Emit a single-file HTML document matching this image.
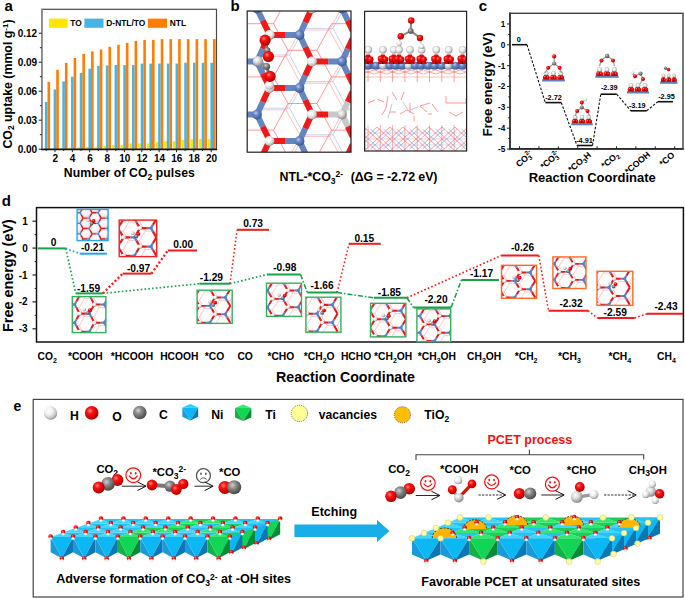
<!DOCTYPE html>
<html><head><meta charset="utf-8"><style>
html,body{margin:0;padding:0;background:#fff;width:685px;height:599px;overflow:hidden}
svg{display:block;font-family:"Liberation Sans",sans-serif;font-weight:bold}
text{font-family:"Liberation Sans",sans-serif}
</style></head><body>
<svg width="685" height="599" viewBox="0 0 685 599" font-family="Liberation Sans, sans-serif" font-weight="bold">
<defs>
<radialGradient id="gR" cx="0.38" cy="0.35" r="0.65"><stop offset="0" stop-color="#ff8a8a"/><stop offset="0.35" stop-color="#ff1010"/><stop offset="1" stop-color="#b00000"/></radialGradient>
<radialGradient id="gW" cx="0.38" cy="0.35" r="0.68"><stop offset="0" stop-color="#ffffff"/><stop offset="0.4" stop-color="#f2f2f2"/><stop offset="0.8" stop-color="#c4c4c4"/><stop offset="1" stop-color="#868686"/></radialGradient>
<radialGradient id="gG" cx="0.38" cy="0.35" r="0.65"><stop offset="0" stop-color="#d0d0d0"/><stop offset="0.4" stop-color="#8a8a8a"/><stop offset="1" stop-color="#4a4a4a"/></radialGradient>
<radialGradient id="gLG" cx="0.38" cy="0.35" r="0.65"><stop offset="0" stop-color="#ffffff"/><stop offset="0.45" stop-color="#d8d8d8"/><stop offset="1" stop-color="#8a8a8a"/></radialGradient>
<radialGradient id="gB" cx="0.38" cy="0.35" r="0.65"><stop offset="0" stop-color="#b8c8ee"/><stop offset="0.4" stop-color="#6a88c4"/><stop offset="1" stop-color="#3e5a96"/></radialGradient>
<clipPath id="cbL"><rect x="247.2" y="11" width="103.8" height="141.2"/></clipPath><clipPath id="cbR"><rect x="364.6" y="11.3" width="102" height="139.7"/></clipPath><g id="hcs"><line x1="-6.5" y1="38.2" x2="-17.0" y2="38.2" stroke="#ff7a7a" stroke-width="0.4"/><line x1="-6.5" y1="38.2" x2="-1.2" y2="29.1" stroke="#ff7a7a" stroke-width="0.4"/><line x1="-6.5" y1="38.2" x2="-1.2" y2="47.3" stroke="#ff7a7a" stroke-width="0.4"/><line x1="9.2" y1="47.3" x2="-1.2" y2="47.3" stroke="#ff7a7a" stroke-width="0.4"/><line x1="9.2" y1="47.3" x2="14.5" y2="38.2" stroke="#ff7a7a" stroke-width="0.4"/><line x1="9.2" y1="47.3" x2="14.5" y2="56.4" stroke="#ff7a7a" stroke-width="0.4"/><line x1="-6.5" y1="20.0" x2="-17.0" y2="20.0" stroke="#ff7a7a" stroke-width="0.4"/><line x1="-6.5" y1="20.0" x2="-1.2" y2="10.9" stroke="#ff7a7a" stroke-width="0.4"/><line x1="-6.5" y1="20.0" x2="-1.2" y2="29.1" stroke="#ff7a7a" stroke-width="0.4"/><line x1="9.2" y1="29.1" x2="-1.2" y2="29.1" stroke="#ff7a7a" stroke-width="0.4"/><line x1="9.2" y1="29.1" x2="14.5" y2="20.0" stroke="#ff7a7a" stroke-width="0.4"/><line x1="9.2" y1="29.1" x2="14.5" y2="38.2" stroke="#ff7a7a" stroke-width="0.4"/><line x1="25.0" y1="38.2" x2="14.5" y2="38.2" stroke="#ff7a7a" stroke-width="0.4"/><line x1="25.0" y1="38.2" x2="30.2" y2="29.1" stroke="#ff7a7a" stroke-width="0.4"/><line x1="25.0" y1="38.2" x2="30.2" y2="47.3" stroke="#ff7a7a" stroke-width="0.4"/><line x1="40.8" y1="47.3" x2="30.2" y2="47.3" stroke="#ff7a7a" stroke-width="0.4"/><line x1="40.8" y1="47.3" x2="46.0" y2="38.2" stroke="#ff7a7a" stroke-width="0.4"/><line x1="40.8" y1="47.3" x2="46.0" y2="56.4" stroke="#ff7a7a" stroke-width="0.4"/><line x1="-6.5" y1="1.8" x2="-17.0" y2="1.8" stroke="#ff7a7a" stroke-width="0.4"/><line x1="-6.5" y1="1.8" x2="-1.2" y2="-7.3" stroke="#ff7a7a" stroke-width="0.4"/><line x1="-6.5" y1="1.8" x2="-1.2" y2="10.9" stroke="#ff7a7a" stroke-width="0.4"/><line x1="9.2" y1="10.9" x2="-1.2" y2="10.9" stroke="#ff7a7a" stroke-width="0.4"/><line x1="9.2" y1="10.9" x2="14.5" y2="1.8" stroke="#ff7a7a" stroke-width="0.4"/><line x1="9.2" y1="10.9" x2="14.5" y2="20.0" stroke="#ff7a7a" stroke-width="0.4"/><line x1="25.0" y1="20.0" x2="14.5" y2="20.0" stroke="#ff7a7a" stroke-width="0.4"/><line x1="25.0" y1="20.0" x2="30.2" y2="10.9" stroke="#ff7a7a" stroke-width="0.4"/><line x1="25.0" y1="20.0" x2="30.2" y2="29.1" stroke="#ff7a7a" stroke-width="0.4"/><line x1="40.8" y1="29.1" x2="30.2" y2="29.1" stroke="#ff7a7a" stroke-width="0.4"/><line x1="40.8" y1="29.1" x2="46.0" y2="20.0" stroke="#ff7a7a" stroke-width="0.4"/><line x1="40.8" y1="29.1" x2="46.0" y2="38.2" stroke="#ff7a7a" stroke-width="0.4"/><line x1="9.2" y1="-7.3" x2="-1.2" y2="-7.3" stroke="#ff7a7a" stroke-width="0.4"/><line x1="9.2" y1="-7.3" x2="14.5" y2="-16.4" stroke="#ff7a7a" stroke-width="0.4"/><line x1="9.2" y1="-7.3" x2="14.5" y2="1.8" stroke="#ff7a7a" stroke-width="0.4"/><line x1="25.0" y1="1.8" x2="14.5" y2="1.8" stroke="#ff7a7a" stroke-width="0.4"/><line x1="25.0" y1="1.8" x2="30.2" y2="-7.3" stroke="#ff7a7a" stroke-width="0.4"/><line x1="25.0" y1="1.8" x2="30.2" y2="10.9" stroke="#ff7a7a" stroke-width="0.4"/><line x1="40.8" y1="10.9" x2="30.2" y2="10.9" stroke="#ff7a7a" stroke-width="0.4"/><line x1="40.8" y1="10.9" x2="46.0" y2="1.8" stroke="#ff7a7a" stroke-width="0.4"/><line x1="40.8" y1="10.9" x2="46.0" y2="20.0" stroke="#ff7a7a" stroke-width="0.4"/><line x1="40.8" y1="-7.3" x2="30.2" y2="-7.3" stroke="#ff7a7a" stroke-width="0.4"/><line x1="40.8" y1="-7.3" x2="46.0" y2="-16.4" stroke="#ff7a7a" stroke-width="0.4"/><line x1="40.8" y1="-7.3" x2="46.0" y2="1.8" stroke="#ff7a7a" stroke-width="0.4"/><line x1="-11.5" y1="35.2" x2="-15.5" y2="35.2" stroke="#5f7fc0" stroke-width="2.1"/><line x1="-15.5" y1="35.2" x2="-22.0" y2="35.2" stroke="#e81818" stroke-width="2.1"/><line x1="-11.5" y1="35.2" x2="-9.5" y2="31.7" stroke="#5f7fc0" stroke-width="2.1"/><line x1="-9.5" y1="31.7" x2="-6.2" y2="26.1" stroke="#e81818" stroke-width="2.1"/><line x1="-11.5" y1="35.2" x2="-9.5" y2="38.6" stroke="#5f7fc0" stroke-width="2.1"/><line x1="-9.5" y1="38.6" x2="-6.2" y2="44.3" stroke="#e81818" stroke-width="2.1"/><line x1="4.2" y1="44.3" x2="0.3" y2="44.3" stroke="#5f7fc0" stroke-width="2.1"/><line x1="0.3" y1="44.3" x2="-6.2" y2="44.3" stroke="#e81818" stroke-width="2.1"/><line x1="4.2" y1="44.3" x2="6.2" y2="40.8" stroke="#5f7fc0" stroke-width="2.1"/><line x1="6.2" y1="40.8" x2="9.5" y2="35.2" stroke="#e81818" stroke-width="2.1"/><line x1="4.2" y1="44.3" x2="6.2" y2="47.7" stroke="#5f7fc0" stroke-width="2.1"/><line x1="6.2" y1="47.7" x2="9.5" y2="53.4" stroke="#e81818" stroke-width="2.1"/><line x1="-11.5" y1="17.0" x2="-15.5" y2="17.0" stroke="#5f7fc0" stroke-width="2.1"/><line x1="-15.5" y1="17.0" x2="-22.0" y2="17.0" stroke="#e81818" stroke-width="2.1"/><line x1="-11.5" y1="17.0" x2="-9.5" y2="13.5" stroke="#5f7fc0" stroke-width="2.1"/><line x1="-9.5" y1="13.5" x2="-6.2" y2="7.9" stroke="#e81818" stroke-width="2.1"/><line x1="-11.5" y1="17.0" x2="-9.5" y2="20.5" stroke="#5f7fc0" stroke-width="2.1"/><line x1="-9.5" y1="20.5" x2="-6.2" y2="26.1" stroke="#e81818" stroke-width="2.1"/><line x1="4.2" y1="26.1" x2="0.3" y2="26.1" stroke="#5f7fc0" stroke-width="2.1"/><line x1="0.3" y1="26.1" x2="-6.2" y2="26.1" stroke="#e81818" stroke-width="2.1"/><line x1="4.2" y1="26.1" x2="6.2" y2="22.6" stroke="#5f7fc0" stroke-width="2.1"/><line x1="6.2" y1="22.6" x2="9.5" y2="17.0" stroke="#e81818" stroke-width="2.1"/><line x1="4.2" y1="26.1" x2="6.2" y2="29.5" stroke="#5f7fc0" stroke-width="2.1"/><line x1="6.2" y1="29.5" x2="9.5" y2="35.2" stroke="#e81818" stroke-width="2.1"/><line x1="20.0" y1="35.2" x2="16.0" y2="35.2" stroke="#5f7fc0" stroke-width="2.1"/><line x1="16.0" y1="35.2" x2="9.5" y2="35.2" stroke="#e81818" stroke-width="2.1"/><line x1="20.0" y1="35.2" x2="22.0" y2="31.7" stroke="#5f7fc0" stroke-width="2.1"/><line x1="22.0" y1="31.7" x2="25.2" y2="26.1" stroke="#e81818" stroke-width="2.1"/><line x1="20.0" y1="35.2" x2="22.0" y2="38.6" stroke="#5f7fc0" stroke-width="2.1"/><line x1="22.0" y1="38.6" x2="25.2" y2="44.3" stroke="#e81818" stroke-width="2.1"/><line x1="35.8" y1="44.3" x2="31.8" y2="44.3" stroke="#5f7fc0" stroke-width="2.1"/><line x1="31.8" y1="44.3" x2="25.2" y2="44.3" stroke="#e81818" stroke-width="2.1"/><line x1="35.8" y1="44.3" x2="37.7" y2="40.8" stroke="#5f7fc0" stroke-width="2.1"/><line x1="37.7" y1="40.8" x2="41.0" y2="35.2" stroke="#e81818" stroke-width="2.1"/><line x1="35.8" y1="44.3" x2="37.7" y2="47.7" stroke="#5f7fc0" stroke-width="2.1"/><line x1="37.7" y1="47.7" x2="41.0" y2="53.4" stroke="#e81818" stroke-width="2.1"/><line x1="-11.5" y1="-1.2" x2="-15.5" y2="-1.2" stroke="#5f7fc0" stroke-width="2.1"/><line x1="-15.5" y1="-1.2" x2="-22.0" y2="-1.2" stroke="#e81818" stroke-width="2.1"/><line x1="-11.5" y1="-1.2" x2="-9.5" y2="-4.6" stroke="#5f7fc0" stroke-width="2.1"/><line x1="-9.5" y1="-4.6" x2="-6.2" y2="-10.3" stroke="#e81818" stroke-width="2.1"/><line x1="-11.5" y1="-1.2" x2="-9.5" y2="2.3" stroke="#5f7fc0" stroke-width="2.1"/><line x1="-9.5" y1="2.3" x2="-6.2" y2="7.9" stroke="#e81818" stroke-width="2.1"/><line x1="4.2" y1="7.9" x2="0.3" y2="7.9" stroke="#5f7fc0" stroke-width="2.1"/><line x1="0.3" y1="7.9" x2="-6.2" y2="7.9" stroke="#e81818" stroke-width="2.1"/><line x1="4.2" y1="7.9" x2="6.2" y2="4.5" stroke="#5f7fc0" stroke-width="2.1"/><line x1="6.2" y1="4.5" x2="9.5" y2="-1.2" stroke="#e81818" stroke-width="2.1"/><line x1="4.2" y1="7.9" x2="6.2" y2="11.4" stroke="#5f7fc0" stroke-width="2.1"/><line x1="6.2" y1="11.4" x2="9.5" y2="17.0" stroke="#e81818" stroke-width="2.1"/><line x1="20.0" y1="17.0" x2="16.0" y2="17.0" stroke="#5f7fc0" stroke-width="2.1"/><line x1="16.0" y1="17.0" x2="9.5" y2="17.0" stroke="#e81818" stroke-width="2.1"/><line x1="20.0" y1="17.0" x2="22.0" y2="13.5" stroke="#5f7fc0" stroke-width="2.1"/><line x1="22.0" y1="13.5" x2="25.2" y2="7.9" stroke="#e81818" stroke-width="2.1"/><line x1="20.0" y1="17.0" x2="22.0" y2="20.5" stroke="#5f7fc0" stroke-width="2.1"/><line x1="22.0" y1="20.5" x2="25.2" y2="26.1" stroke="#e81818" stroke-width="2.1"/><line x1="35.8" y1="26.1" x2="31.8" y2="26.1" stroke="#5f7fc0" stroke-width="2.1"/><line x1="31.8" y1="26.1" x2="25.2" y2="26.1" stroke="#e81818" stroke-width="2.1"/><line x1="35.8" y1="26.1" x2="37.7" y2="22.6" stroke="#5f7fc0" stroke-width="2.1"/><line x1="37.7" y1="22.6" x2="41.0" y2="17.0" stroke="#e81818" stroke-width="2.1"/><line x1="35.8" y1="26.1" x2="37.7" y2="29.5" stroke="#5f7fc0" stroke-width="2.1"/><line x1="37.7" y1="29.5" x2="41.0" y2="35.2" stroke="#e81818" stroke-width="2.1"/><line x1="4.2" y1="-10.3" x2="0.3" y2="-10.3" stroke="#5f7fc0" stroke-width="2.1"/><line x1="0.3" y1="-10.3" x2="-6.2" y2="-10.3" stroke="#e81818" stroke-width="2.1"/><line x1="4.2" y1="-10.3" x2="6.2" y2="-13.7" stroke="#5f7fc0" stroke-width="2.1"/><line x1="6.2" y1="-13.7" x2="9.5" y2="-19.4" stroke="#e81818" stroke-width="2.1"/><line x1="4.2" y1="-10.3" x2="6.2" y2="-6.8" stroke="#5f7fc0" stroke-width="2.1"/><line x1="6.2" y1="-6.8" x2="9.5" y2="-1.2" stroke="#e81818" stroke-width="2.1"/><line x1="20.0" y1="-1.2" x2="16.0" y2="-1.2" stroke="#5f7fc0" stroke-width="2.1"/><line x1="16.0" y1="-1.2" x2="9.5" y2="-1.2" stroke="#e81818" stroke-width="2.1"/><line x1="20.0" y1="-1.2" x2="22.0" y2="-4.6" stroke="#5f7fc0" stroke-width="2.1"/><line x1="22.0" y1="-4.6" x2="25.2" y2="-10.3" stroke="#e81818" stroke-width="2.1"/><line x1="20.0" y1="-1.2" x2="22.0" y2="2.3" stroke="#5f7fc0" stroke-width="2.1"/><line x1="22.0" y1="2.3" x2="25.2" y2="7.9" stroke="#e81818" stroke-width="2.1"/><line x1="35.8" y1="7.9" x2="31.8" y2="7.9" stroke="#5f7fc0" stroke-width="2.1"/><line x1="31.8" y1="7.9" x2="25.2" y2="7.9" stroke="#e81818" stroke-width="2.1"/><line x1="35.8" y1="7.9" x2="37.7" y2="4.5" stroke="#5f7fc0" stroke-width="2.1"/><line x1="37.7" y1="4.5" x2="41.0" y2="-1.2" stroke="#e81818" stroke-width="2.1"/><line x1="35.8" y1="7.9" x2="37.7" y2="11.4" stroke="#5f7fc0" stroke-width="2.1"/><line x1="37.7" y1="11.4" x2="41.0" y2="17.0" stroke="#e81818" stroke-width="2.1"/><line x1="35.8" y1="-10.3" x2="31.8" y2="-10.3" stroke="#5f7fc0" stroke-width="2.1"/><line x1="31.8" y1="-10.3" x2="25.2" y2="-10.3" stroke="#e81818" stroke-width="2.1"/><line x1="35.8" y1="-10.3" x2="37.7" y2="-13.7" stroke="#5f7fc0" stroke-width="2.1"/><line x1="37.7" y1="-13.7" x2="41.0" y2="-19.4" stroke="#e81818" stroke-width="2.1"/><line x1="35.8" y1="-10.3" x2="37.7" y2="-6.8" stroke="#5f7fc0" stroke-width="2.1"/><line x1="37.7" y1="-6.8" x2="41.0" y2="-1.2" stroke="#e81818" stroke-width="2.1"/><circle cx="-11.5" cy="35.2" r="1.6" fill="#5f7fc0"/><circle cx="-22.0" cy="35.2" r="2.2" fill="url(#gW)"/><circle cx="4.2" cy="44.3" r="1.6" fill="#5f7fc0"/><circle cx="-6.2" cy="44.3" r="2.2" fill="url(#gW)"/><circle cx="-11.5" cy="17.0" r="1.6" fill="#5f7fc0"/><circle cx="-22.0" cy="17.0" r="2.2" fill="url(#gW)"/><circle cx="4.2" cy="26.1" r="1.6" fill="#5f7fc0"/><circle cx="-6.2" cy="26.1" r="2.2" fill="url(#gW)"/><circle cx="20.0" cy="35.2" r="1.6" fill="#5f7fc0"/><circle cx="9.5" cy="35.2" r="2.2" fill="url(#gW)"/><circle cx="35.8" cy="44.3" r="1.6" fill="#5f7fc0"/><circle cx="25.2" cy="44.3" r="2.2" fill="url(#gW)"/><circle cx="-11.5" cy="-1.2" r="1.6" fill="#5f7fc0"/><circle cx="-22.0" cy="-1.2" r="2.2" fill="url(#gW)"/><circle cx="4.2" cy="7.9" r="1.6" fill="#5f7fc0"/><circle cx="-6.2" cy="7.9" r="2.2" fill="url(#gW)"/><circle cx="20.0" cy="17.0" r="1.6" fill="#5f7fc0"/><circle cx="9.5" cy="17.0" r="2.2" fill="url(#gW)"/><circle cx="35.8" cy="26.1" r="1.6" fill="#5f7fc0"/><circle cx="25.2" cy="26.1" r="2.2" fill="url(#gW)"/><circle cx="4.2" cy="-10.3" r="1.6" fill="#5f7fc0"/><circle cx="-6.2" cy="-10.3" r="2.2" fill="url(#gW)"/><circle cx="20.0" cy="-1.2" r="1.6" fill="#5f7fc0"/><circle cx="9.5" cy="-1.2" r="2.2" fill="url(#gW)"/><circle cx="35.8" cy="7.9" r="1.6" fill="#5f7fc0"/><circle cx="25.2" cy="7.9" r="2.2" fill="url(#gW)"/><circle cx="35.8" cy="-10.3" r="1.6" fill="#5f7fc0"/><circle cx="25.2" cy="-10.3" r="2.2" fill="url(#gW)"/></g><radialGradient id="gS" cx="0.45" cy="0.4" r="0.6"><stop offset="0" stop-color="#ffffff"/><stop offset="0.7" stop-color="#eeeeee"/><stop offset="1" stop-color="#c8c8c8"/></radialGradient><g id="hcs2"><circle cx="0.0" cy="46.4" r="5.6" fill="url(#gS)"/><circle cx="0.0" cy="34.2" r="5.6" fill="url(#gS)"/><circle cx="10.5" cy="40.3" r="5.6" fill="url(#gS)"/><circle cx="21.0" cy="46.4" r="5.6" fill="url(#gS)"/><circle cx="0.0" cy="22.1" r="5.6" fill="url(#gS)"/><circle cx="10.5" cy="28.2" r="5.6" fill="url(#gS)"/><circle cx="21.0" cy="34.2" r="5.6" fill="url(#gS)"/><circle cx="31.5" cy="40.3" r="5.6" fill="url(#gS)"/><circle cx="42.0" cy="46.4" r="5.6" fill="url(#gS)"/><circle cx="0.0" cy="10.0" r="5.6" fill="url(#gS)"/><circle cx="10.5" cy="16.1" r="5.6" fill="url(#gS)"/><circle cx="21.0" cy="22.1" r="5.6" fill="url(#gS)"/><circle cx="31.5" cy="28.2" r="5.6" fill="url(#gS)"/><circle cx="42.0" cy="34.2" r="5.6" fill="url(#gS)"/><circle cx="52.5" cy="40.3" r="5.6" fill="url(#gS)"/><circle cx="0.0" cy="-2.1" r="5.6" fill="url(#gS)"/><circle cx="10.5" cy="3.9" r="5.6" fill="url(#gS)"/><circle cx="21.0" cy="10.0" r="5.6" fill="url(#gS)"/><circle cx="31.5" cy="16.1" r="5.6" fill="url(#gS)"/><circle cx="42.0" cy="22.1" r="5.6" fill="url(#gS)"/><circle cx="52.5" cy="28.2" r="5.6" fill="url(#gS)"/><circle cx="10.5" cy="-8.2" r="5.6" fill="url(#gS)"/><circle cx="21.0" cy="-2.1" r="5.6" fill="url(#gS)"/><circle cx="31.5" cy="3.9" r="5.6" fill="url(#gS)"/><circle cx="42.0" cy="10.0" r="5.6" fill="url(#gS)"/><circle cx="52.5" cy="16.1" r="5.6" fill="url(#gS)"/><circle cx="31.5" cy="-8.2" r="5.6" fill="url(#gS)"/><circle cx="42.0" cy="-2.1" r="5.6" fill="url(#gS)"/><circle cx="52.5" cy="3.9" r="5.6" fill="url(#gS)"/><circle cx="52.5" cy="-8.2" r="5.6" fill="url(#gS)"/><line x1="-7.0" y1="46.4" x2="-9.4" y2="46.4" stroke="#5f7fc0" stroke-width="1.6"/><line x1="-9.4" y1="46.4" x2="-14.0" y2="46.4" stroke="#e01818" stroke-width="1.6"/><line x1="-7.0" y1="46.4" x2="-5.8" y2="44.3" stroke="#5f7fc0" stroke-width="1.6"/><line x1="-5.8" y1="44.3" x2="-3.5" y2="40.3" stroke="#e01818" stroke-width="1.6"/><line x1="-7.0" y1="46.4" x2="-5.8" y2="48.5" stroke="#5f7fc0" stroke-width="1.6"/><line x1="-5.8" y1="48.5" x2="-3.5" y2="52.4" stroke="#e01818" stroke-width="1.6"/><line x1="-7.0" y1="34.2" x2="-9.4" y2="34.2" stroke="#5f7fc0" stroke-width="1.6"/><line x1="-9.4" y1="34.2" x2="-14.0" y2="34.2" stroke="#e01818" stroke-width="1.6"/><line x1="-7.0" y1="34.2" x2="-5.8" y2="32.1" stroke="#5f7fc0" stroke-width="1.6"/><line x1="-5.8" y1="32.1" x2="-3.5" y2="28.2" stroke="#e01818" stroke-width="1.6"/><line x1="-7.0" y1="34.2" x2="-5.8" y2="36.4" stroke="#5f7fc0" stroke-width="1.6"/><line x1="-5.8" y1="36.4" x2="-3.5" y2="40.3" stroke="#e01818" stroke-width="1.6"/><line x1="3.5" y1="40.3" x2="1.1" y2="40.3" stroke="#5f7fc0" stroke-width="1.6"/><line x1="1.1" y1="40.3" x2="-3.5" y2="40.3" stroke="#e01818" stroke-width="1.6"/><line x1="3.5" y1="40.3" x2="4.7" y2="38.2" stroke="#5f7fc0" stroke-width="1.6"/><line x1="4.7" y1="38.2" x2="7.0" y2="34.2" stroke="#e01818" stroke-width="1.6"/><line x1="3.5" y1="40.3" x2="4.7" y2="42.4" stroke="#5f7fc0" stroke-width="1.6"/><line x1="4.7" y1="42.4" x2="7.0" y2="46.4" stroke="#e01818" stroke-width="1.6"/><line x1="14.0" y1="46.4" x2="11.6" y2="46.4" stroke="#5f7fc0" stroke-width="1.6"/><line x1="11.6" y1="46.4" x2="7.0" y2="46.4" stroke="#e01818" stroke-width="1.6"/><line x1="14.0" y1="46.4" x2="15.2" y2="44.3" stroke="#5f7fc0" stroke-width="1.6"/><line x1="15.2" y1="44.3" x2="17.5" y2="40.3" stroke="#e01818" stroke-width="1.6"/><line x1="14.0" y1="46.4" x2="15.2" y2="48.5" stroke="#5f7fc0" stroke-width="1.6"/><line x1="15.2" y1="48.5" x2="17.5" y2="52.4" stroke="#e01818" stroke-width="1.6"/><line x1="-7.0" y1="22.1" x2="-9.4" y2="22.1" stroke="#5f7fc0" stroke-width="1.6"/><line x1="-9.4" y1="22.1" x2="-14.0" y2="22.1" stroke="#e01818" stroke-width="1.6"/><line x1="-7.0" y1="22.1" x2="-5.8" y2="20.0" stroke="#5f7fc0" stroke-width="1.6"/><line x1="-5.8" y1="20.0" x2="-3.5" y2="16.1" stroke="#e01818" stroke-width="1.6"/><line x1="-7.0" y1="22.1" x2="-5.8" y2="24.2" stroke="#5f7fc0" stroke-width="1.6"/><line x1="-5.8" y1="24.2" x2="-3.5" y2="28.2" stroke="#e01818" stroke-width="1.6"/><line x1="3.5" y1="28.2" x2="1.1" y2="28.2" stroke="#5f7fc0" stroke-width="1.6"/><line x1="1.1" y1="28.2" x2="-3.5" y2="28.2" stroke="#e01818" stroke-width="1.6"/><line x1="3.5" y1="28.2" x2="4.7" y2="26.1" stroke="#5f7fc0" stroke-width="1.6"/><line x1="4.7" y1="26.1" x2="7.0" y2="22.1" stroke="#e01818" stroke-width="1.6"/><line x1="3.5" y1="28.2" x2="4.7" y2="30.3" stroke="#5f7fc0" stroke-width="1.6"/><line x1="4.7" y1="30.3" x2="7.0" y2="34.2" stroke="#e01818" stroke-width="1.6"/><line x1="14.0" y1="34.2" x2="11.6" y2="34.2" stroke="#5f7fc0" stroke-width="1.6"/><line x1="11.6" y1="34.2" x2="7.0" y2="34.2" stroke="#e01818" stroke-width="1.6"/><line x1="14.0" y1="34.2" x2="15.2" y2="32.1" stroke="#5f7fc0" stroke-width="1.6"/><line x1="15.2" y1="32.1" x2="17.5" y2="28.2" stroke="#e01818" stroke-width="1.6"/><line x1="14.0" y1="34.2" x2="15.2" y2="36.4" stroke="#5f7fc0" stroke-width="1.6"/><line x1="15.2" y1="36.4" x2="17.5" y2="40.3" stroke="#e01818" stroke-width="1.6"/><line x1="24.5" y1="40.3" x2="22.1" y2="40.3" stroke="#5f7fc0" stroke-width="1.6"/><line x1="22.1" y1="40.3" x2="17.5" y2="40.3" stroke="#e01818" stroke-width="1.6"/><line x1="24.5" y1="40.3" x2="25.7" y2="38.2" stroke="#5f7fc0" stroke-width="1.6"/><line x1="25.7" y1="38.2" x2="28.0" y2="34.2" stroke="#e01818" stroke-width="1.6"/><line x1="24.5" y1="40.3" x2="25.7" y2="42.4" stroke="#5f7fc0" stroke-width="1.6"/><line x1="25.7" y1="42.4" x2="28.0" y2="46.4" stroke="#e01818" stroke-width="1.6"/><line x1="35.0" y1="46.4" x2="32.5" y2="46.4" stroke="#5f7fc0" stroke-width="1.6"/><line x1="32.5" y1="46.4" x2="28.0" y2="46.4" stroke="#e01818" stroke-width="1.6"/><line x1="35.0" y1="46.4" x2="36.2" y2="44.3" stroke="#5f7fc0" stroke-width="1.6"/><line x1="36.2" y1="44.3" x2="38.5" y2="40.3" stroke="#e01818" stroke-width="1.6"/><line x1="35.0" y1="46.4" x2="36.2" y2="48.5" stroke="#5f7fc0" stroke-width="1.6"/><line x1="36.2" y1="48.5" x2="38.5" y2="52.4" stroke="#e01818" stroke-width="1.6"/><line x1="-7.0" y1="10.0" x2="-9.4" y2="10.0" stroke="#5f7fc0" stroke-width="1.6"/><line x1="-9.4" y1="10.0" x2="-14.0" y2="10.0" stroke="#e01818" stroke-width="1.6"/><line x1="-7.0" y1="10.0" x2="-5.8" y2="7.9" stroke="#5f7fc0" stroke-width="1.6"/><line x1="-5.8" y1="7.9" x2="-3.5" y2="3.9" stroke="#e01818" stroke-width="1.6"/><line x1="-7.0" y1="10.0" x2="-5.8" y2="12.1" stroke="#5f7fc0" stroke-width="1.6"/><line x1="-5.8" y1="12.1" x2="-3.5" y2="16.1" stroke="#e01818" stroke-width="1.6"/><line x1="3.5" y1="16.1" x2="1.1" y2="16.1" stroke="#5f7fc0" stroke-width="1.6"/><line x1="1.1" y1="16.1" x2="-3.5" y2="16.1" stroke="#e01818" stroke-width="1.6"/><line x1="3.5" y1="16.1" x2="4.7" y2="13.9" stroke="#5f7fc0" stroke-width="1.6"/><line x1="4.7" y1="13.9" x2="7.0" y2="10.0" stroke="#e01818" stroke-width="1.6"/><line x1="3.5" y1="16.1" x2="4.7" y2="18.2" stroke="#5f7fc0" stroke-width="1.6"/><line x1="4.7" y1="18.2" x2="7.0" y2="22.1" stroke="#e01818" stroke-width="1.6"/><line x1="14.0" y1="22.1" x2="11.6" y2="22.1" stroke="#5f7fc0" stroke-width="1.6"/><line x1="11.6" y1="22.1" x2="7.0" y2="22.1" stroke="#e01818" stroke-width="1.6"/><line x1="14.0" y1="22.1" x2="15.2" y2="20.0" stroke="#5f7fc0" stroke-width="1.6"/><line x1="15.2" y1="20.0" x2="17.5" y2="16.1" stroke="#e01818" stroke-width="1.6"/><line x1="14.0" y1="22.1" x2="15.2" y2="24.2" stroke="#5f7fc0" stroke-width="1.6"/><line x1="15.2" y1="24.2" x2="17.5" y2="28.2" stroke="#e01818" stroke-width="1.6"/><line x1="24.5" y1="28.2" x2="22.1" y2="28.2" stroke="#5f7fc0" stroke-width="1.6"/><line x1="22.1" y1="28.2" x2="17.5" y2="28.2" stroke="#e01818" stroke-width="1.6"/><line x1="24.5" y1="28.2" x2="25.7" y2="26.1" stroke="#5f7fc0" stroke-width="1.6"/><line x1="25.7" y1="26.1" x2="28.0" y2="22.1" stroke="#e01818" stroke-width="1.6"/><line x1="24.5" y1="28.2" x2="25.7" y2="30.3" stroke="#5f7fc0" stroke-width="1.6"/><line x1="25.7" y1="30.3" x2="28.0" y2="34.2" stroke="#e01818" stroke-width="1.6"/><line x1="35.0" y1="34.2" x2="32.5" y2="34.2" stroke="#5f7fc0" stroke-width="1.6"/><line x1="32.5" y1="34.2" x2="28.0" y2="34.2" stroke="#e01818" stroke-width="1.6"/><line x1="35.0" y1="34.2" x2="36.2" y2="32.1" stroke="#5f7fc0" stroke-width="1.6"/><line x1="36.2" y1="32.1" x2="38.5" y2="28.2" stroke="#e01818" stroke-width="1.6"/><line x1="35.0" y1="34.2" x2="36.2" y2="36.4" stroke="#5f7fc0" stroke-width="1.6"/><line x1="36.2" y1="36.4" x2="38.5" y2="40.3" stroke="#e01818" stroke-width="1.6"/><line x1="45.5" y1="40.3" x2="43.0" y2="40.3" stroke="#5f7fc0" stroke-width="1.6"/><line x1="43.0" y1="40.3" x2="38.5" y2="40.3" stroke="#e01818" stroke-width="1.6"/><line x1="45.5" y1="40.3" x2="46.7" y2="38.2" stroke="#5f7fc0" stroke-width="1.6"/><line x1="46.7" y1="38.2" x2="49.0" y2="34.2" stroke="#e01818" stroke-width="1.6"/><line x1="45.5" y1="40.3" x2="46.7" y2="42.4" stroke="#5f7fc0" stroke-width="1.6"/><line x1="46.7" y1="42.4" x2="49.0" y2="46.4" stroke="#e01818" stroke-width="1.6"/><line x1="-7.0" y1="-2.1" x2="-9.4" y2="-2.1" stroke="#5f7fc0" stroke-width="1.6"/><line x1="-9.4" y1="-2.1" x2="-14.0" y2="-2.1" stroke="#e01818" stroke-width="1.6"/><line x1="-7.0" y1="-2.1" x2="-5.8" y2="-4.2" stroke="#5f7fc0" stroke-width="1.6"/><line x1="-5.8" y1="-4.2" x2="-3.5" y2="-8.2" stroke="#e01818" stroke-width="1.6"/><line x1="-7.0" y1="-2.1" x2="-5.8" y2="-0.0" stroke="#5f7fc0" stroke-width="1.6"/><line x1="-5.8" y1="-0.0" x2="-3.5" y2="3.9" stroke="#e01818" stroke-width="1.6"/><line x1="3.5" y1="3.9" x2="1.1" y2="3.9" stroke="#5f7fc0" stroke-width="1.6"/><line x1="1.1" y1="3.9" x2="-3.5" y2="3.9" stroke="#e01818" stroke-width="1.6"/><line x1="3.5" y1="3.9" x2="4.7" y2="1.8" stroke="#5f7fc0" stroke-width="1.6"/><line x1="4.7" y1="1.8" x2="7.0" y2="-2.1" stroke="#e01818" stroke-width="1.6"/><line x1="3.5" y1="3.9" x2="4.7" y2="6.1" stroke="#5f7fc0" stroke-width="1.6"/><line x1="4.7" y1="6.1" x2="7.0" y2="10.0" stroke="#e01818" stroke-width="1.6"/><line x1="14.0" y1="10.0" x2="11.6" y2="10.0" stroke="#5f7fc0" stroke-width="1.6"/><line x1="11.6" y1="10.0" x2="7.0" y2="10.0" stroke="#e01818" stroke-width="1.6"/><line x1="14.0" y1="10.0" x2="15.2" y2="7.9" stroke="#5f7fc0" stroke-width="1.6"/><line x1="15.2" y1="7.9" x2="17.5" y2="3.9" stroke="#e01818" stroke-width="1.6"/><line x1="14.0" y1="10.0" x2="15.2" y2="12.1" stroke="#5f7fc0" stroke-width="1.6"/><line x1="15.2" y1="12.1" x2="17.5" y2="16.1" stroke="#e01818" stroke-width="1.6"/><line x1="24.5" y1="16.1" x2="22.1" y2="16.1" stroke="#5f7fc0" stroke-width="1.6"/><line x1="22.1" y1="16.1" x2="17.5" y2="16.1" stroke="#e01818" stroke-width="1.6"/><line x1="24.5" y1="16.1" x2="25.7" y2="13.9" stroke="#5f7fc0" stroke-width="1.6"/><line x1="25.7" y1="13.9" x2="28.0" y2="10.0" stroke="#e01818" stroke-width="1.6"/><line x1="24.5" y1="16.1" x2="25.7" y2="18.2" stroke="#5f7fc0" stroke-width="1.6"/><line x1="25.7" y1="18.2" x2="28.0" y2="22.1" stroke="#e01818" stroke-width="1.6"/><line x1="35.0" y1="22.1" x2="32.5" y2="22.1" stroke="#5f7fc0" stroke-width="1.6"/><line x1="32.5" y1="22.1" x2="28.0" y2="22.1" stroke="#e01818" stroke-width="1.6"/><line x1="35.0" y1="22.1" x2="36.2" y2="20.0" stroke="#5f7fc0" stroke-width="1.6"/><line x1="36.2" y1="20.0" x2="38.5" y2="16.1" stroke="#e01818" stroke-width="1.6"/><line x1="35.0" y1="22.1" x2="36.2" y2="24.2" stroke="#5f7fc0" stroke-width="1.6"/><line x1="36.2" y1="24.2" x2="38.5" y2="28.2" stroke="#e01818" stroke-width="1.6"/><line x1="45.5" y1="28.2" x2="43.0" y2="28.2" stroke="#5f7fc0" stroke-width="1.6"/><line x1="43.0" y1="28.2" x2="38.5" y2="28.2" stroke="#e01818" stroke-width="1.6"/><line x1="45.5" y1="28.2" x2="46.7" y2="26.1" stroke="#5f7fc0" stroke-width="1.6"/><line x1="46.7" y1="26.1" x2="49.0" y2="22.1" stroke="#e01818" stroke-width="1.6"/><line x1="45.5" y1="28.2" x2="46.7" y2="30.3" stroke="#5f7fc0" stroke-width="1.6"/><line x1="46.7" y1="30.3" x2="49.0" y2="34.2" stroke="#e01818" stroke-width="1.6"/><line x1="3.5" y1="-8.2" x2="1.1" y2="-8.2" stroke="#5f7fc0" stroke-width="1.6"/><line x1="1.1" y1="-8.2" x2="-3.5" y2="-8.2" stroke="#e01818" stroke-width="1.6"/><line x1="3.5" y1="-8.2" x2="4.7" y2="-10.3" stroke="#5f7fc0" stroke-width="1.6"/><line x1="4.7" y1="-10.3" x2="7.0" y2="-14.2" stroke="#e01818" stroke-width="1.6"/><line x1="3.5" y1="-8.2" x2="4.7" y2="-6.1" stroke="#5f7fc0" stroke-width="1.6"/><line x1="4.7" y1="-6.1" x2="7.0" y2="-2.1" stroke="#e01818" stroke-width="1.6"/><line x1="14.0" y1="-2.1" x2="11.6" y2="-2.1" stroke="#5f7fc0" stroke-width="1.6"/><line x1="11.6" y1="-2.1" x2="7.0" y2="-2.1" stroke="#e01818" stroke-width="1.6"/><line x1="14.0" y1="-2.1" x2="15.2" y2="-4.2" stroke="#5f7fc0" stroke-width="1.6"/><line x1="15.2" y1="-4.2" x2="17.5" y2="-8.2" stroke="#e01818" stroke-width="1.6"/><line x1="14.0" y1="-2.1" x2="15.2" y2="-0.0" stroke="#5f7fc0" stroke-width="1.6"/><line x1="15.2" y1="-0.0" x2="17.5" y2="3.9" stroke="#e01818" stroke-width="1.6"/><line x1="24.5" y1="3.9" x2="22.1" y2="3.9" stroke="#5f7fc0" stroke-width="1.6"/><line x1="22.1" y1="3.9" x2="17.5" y2="3.9" stroke="#e01818" stroke-width="1.6"/><line x1="24.5" y1="3.9" x2="25.7" y2="1.8" stroke="#5f7fc0" stroke-width="1.6"/><line x1="25.7" y1="1.8" x2="28.0" y2="-2.1" stroke="#e01818" stroke-width="1.6"/><line x1="24.5" y1="3.9" x2="25.7" y2="6.1" stroke="#5f7fc0" stroke-width="1.6"/><line x1="25.7" y1="6.1" x2="28.0" y2="10.0" stroke="#e01818" stroke-width="1.6"/><line x1="35.0" y1="10.0" x2="32.5" y2="10.0" stroke="#5f7fc0" stroke-width="1.6"/><line x1="32.5" y1="10.0" x2="28.0" y2="10.0" stroke="#e01818" stroke-width="1.6"/><line x1="35.0" y1="10.0" x2="36.2" y2="7.9" stroke="#5f7fc0" stroke-width="1.6"/><line x1="36.2" y1="7.9" x2="38.5" y2="3.9" stroke="#e01818" stroke-width="1.6"/><line x1="35.0" y1="10.0" x2="36.2" y2="12.1" stroke="#5f7fc0" stroke-width="1.6"/><line x1="36.2" y1="12.1" x2="38.5" y2="16.1" stroke="#e01818" stroke-width="1.6"/><line x1="45.5" y1="16.1" x2="43.0" y2="16.1" stroke="#5f7fc0" stroke-width="1.6"/><line x1="43.0" y1="16.1" x2="38.5" y2="16.1" stroke="#e01818" stroke-width="1.6"/><line x1="45.5" y1="16.1" x2="46.7" y2="13.9" stroke="#5f7fc0" stroke-width="1.6"/><line x1="46.7" y1="13.9" x2="49.0" y2="10.0" stroke="#e01818" stroke-width="1.6"/><line x1="45.5" y1="16.1" x2="46.7" y2="18.2" stroke="#5f7fc0" stroke-width="1.6"/><line x1="46.7" y1="18.2" x2="49.0" y2="22.1" stroke="#e01818" stroke-width="1.6"/><line x1="24.5" y1="-8.2" x2="22.1" y2="-8.2" stroke="#5f7fc0" stroke-width="1.6"/><line x1="22.1" y1="-8.2" x2="17.5" y2="-8.2" stroke="#e01818" stroke-width="1.6"/><line x1="24.5" y1="-8.2" x2="25.7" y2="-10.3" stroke="#5f7fc0" stroke-width="1.6"/><line x1="25.7" y1="-10.3" x2="28.0" y2="-14.2" stroke="#e01818" stroke-width="1.6"/><line x1="24.5" y1="-8.2" x2="25.7" y2="-6.1" stroke="#5f7fc0" stroke-width="1.6"/><line x1="25.7" y1="-6.1" x2="28.0" y2="-2.1" stroke="#e01818" stroke-width="1.6"/><line x1="35.0" y1="-2.1" x2="32.5" y2="-2.1" stroke="#5f7fc0" stroke-width="1.6"/><line x1="32.5" y1="-2.1" x2="28.0" y2="-2.1" stroke="#e01818" stroke-width="1.6"/><line x1="35.0" y1="-2.1" x2="36.2" y2="-4.2" stroke="#5f7fc0" stroke-width="1.6"/><line x1="36.2" y1="-4.2" x2="38.5" y2="-8.2" stroke="#e01818" stroke-width="1.6"/><line x1="35.0" y1="-2.1" x2="36.2" y2="-0.0" stroke="#5f7fc0" stroke-width="1.6"/><line x1="36.2" y1="-0.0" x2="38.5" y2="3.9" stroke="#e01818" stroke-width="1.6"/><line x1="45.5" y1="3.9" x2="43.0" y2="3.9" stroke="#5f7fc0" stroke-width="1.6"/><line x1="43.0" y1="3.9" x2="38.5" y2="3.9" stroke="#e01818" stroke-width="1.6"/><line x1="45.5" y1="3.9" x2="46.7" y2="1.8" stroke="#5f7fc0" stroke-width="1.6"/><line x1="46.7" y1="1.8" x2="49.0" y2="-2.1" stroke="#e01818" stroke-width="1.6"/><line x1="45.5" y1="3.9" x2="46.7" y2="6.1" stroke="#5f7fc0" stroke-width="1.6"/><line x1="46.7" y1="6.1" x2="49.0" y2="10.0" stroke="#e01818" stroke-width="1.6"/><line x1="45.5" y1="-8.2" x2="43.0" y2="-8.2" stroke="#5f7fc0" stroke-width="1.6"/><line x1="43.0" y1="-8.2" x2="38.5" y2="-8.2" stroke="#e01818" stroke-width="1.6"/><line x1="45.5" y1="-8.2" x2="46.7" y2="-10.3" stroke="#5f7fc0" stroke-width="1.6"/><line x1="46.7" y1="-10.3" x2="49.0" y2="-14.2" stroke="#e01818" stroke-width="1.6"/><line x1="45.5" y1="-8.2" x2="46.7" y2="-6.1" stroke="#5f7fc0" stroke-width="1.6"/><line x1="46.7" y1="-6.1" x2="49.0" y2="-2.1" stroke="#e01818" stroke-width="1.6"/></g><clipPath id="cf0"><rect x="77.1" y="209.4" width="31.0" height="31.2"/></clipPath><clipPath id="cf1"><rect x="119.2" y="220.1" width="37.5" height="36.5"/></clipPath><clipPath id="cf2"><rect x="72.3" y="296.6" width="33.6" height="36.0"/></clipPath><clipPath id="cf3"><rect x="197.1" y="290.2" width="35.1" height="33.2"/></clipPath><clipPath id="cf4"><rect x="266.5" y="283.2" width="35.0" height="33.2"/></clipPath><clipPath id="cf5"><rect x="305.9" y="297.2" width="35.0" height="35.0"/></clipPath><clipPath id="cf6"><rect x="370.5" y="303.3" width="35.4" height="33.6"/></clipPath><clipPath id="cf7"><rect x="416.9" y="308.9" width="33.8" height="32.8"/></clipPath><clipPath id="cf8"><rect x="501.5" y="265.3" width="35.1" height="33.0"/></clipPath><clipPath id="cf9"><rect x="552.9" y="256.9" width="33.1" height="31.6"/></clipPath><clipPath id="cf10"><rect x="597.0" y="271.3" width="35.8" height="34.1"/></clipPath></defs>
<text x="4.60" y="11.20" font-size="15" text-anchor="start" fill="#000" >a</text>
<rect x="42.30" y="149.20" width="2.60" height="0.00" fill="#ffe500" />
<rect x="44.90" y="102.00" width="2.60" height="47.20" fill="#47b4e6" />
<rect x="47.50" y="81.90" width="2.60" height="67.30" fill="#ff7d00" />
<rect x="51.01" y="148.90" width="2.60" height="0.30" fill="#ffe500" />
<rect x="53.61" y="89.50" width="2.60" height="59.70" fill="#47b4e6" />
<rect x="56.21" y="69.80" width="2.60" height="79.40" fill="#ff7d00" />
<rect x="59.72" y="147.80" width="2.60" height="1.40" fill="#ffe500" />
<rect x="62.32" y="81.40" width="2.60" height="67.80" fill="#47b4e6" />
<rect x="64.92" y="62.90" width="2.60" height="86.30" fill="#ff7d00" />
<rect x="68.43" y="147.80" width="2.60" height="1.40" fill="#ffe500" />
<rect x="71.03" y="76.70" width="2.60" height="72.50" fill="#47b4e6" />
<rect x="73.63" y="58.00" width="2.60" height="91.20" fill="#ff7d00" />
<rect x="77.14" y="147.20" width="2.60" height="2.00" fill="#ffe500" />
<rect x="79.74" y="72.80" width="2.60" height="76.40" fill="#47b4e6" />
<rect x="82.34" y="53.80" width="2.60" height="95.40" fill="#ff7d00" />
<rect x="85.85" y="146.80" width="2.60" height="2.40" fill="#ffe500" />
<rect x="88.45" y="68.70" width="2.60" height="80.50" fill="#47b4e6" />
<rect x="91.05" y="51.40" width="2.60" height="97.80" fill="#ff7d00" />
<rect x="94.56" y="146.80" width="2.60" height="2.40" fill="#ffe500" />
<rect x="97.16" y="65.90" width="2.60" height="83.30" fill="#47b4e6" />
<rect x="99.76" y="49.50" width="2.60" height="99.70" fill="#ff7d00" />
<rect x="103.27" y="145.90" width="2.60" height="3.30" fill="#ffe500" />
<rect x="105.87" y="65.50" width="2.60" height="83.70" fill="#47b4e6" />
<rect x="108.47" y="46.80" width="2.60" height="102.40" fill="#ff7d00" />
<rect x="111.98" y="144.90" width="2.60" height="4.30" fill="#ffe500" />
<rect x="114.58" y="65.00" width="2.60" height="84.20" fill="#47b4e6" />
<rect x="117.18" y="44.80" width="2.60" height="104.40" fill="#ff7d00" />
<rect x="120.69" y="144.90" width="2.60" height="4.30" fill="#ffe500" />
<rect x="123.29" y="65.10" width="2.60" height="84.10" fill="#47b4e6" />
<rect x="125.89" y="42.90" width="2.60" height="106.30" fill="#ff7d00" />
<rect x="129.40" y="143.40" width="2.60" height="5.80" fill="#ffe500" />
<rect x="132.00" y="65.10" width="2.60" height="84.10" fill="#47b4e6" />
<rect x="134.60" y="40.90" width="2.60" height="108.30" fill="#ff7d00" />
<rect x="138.11" y="143.40" width="2.60" height="5.80" fill="#ffe500" />
<rect x="140.71" y="63.60" width="2.60" height="85.60" fill="#47b4e6" />
<rect x="143.31" y="39.90" width="2.60" height="109.30" fill="#ff7d00" />
<rect x="146.82" y="143.40" width="2.60" height="5.80" fill="#ffe500" />
<rect x="149.42" y="63.60" width="2.60" height="85.60" fill="#47b4e6" />
<rect x="152.02" y="39.90" width="2.60" height="109.30" fill="#ff7d00" />
<rect x="155.53" y="142.10" width="2.60" height="7.10" fill="#ffe500" />
<rect x="158.13" y="63.60" width="2.60" height="85.60" fill="#47b4e6" />
<rect x="160.73" y="39.10" width="2.60" height="110.10" fill="#ff7d00" />
<rect x="164.24" y="141.10" width="2.60" height="8.10" fill="#ffe500" />
<rect x="166.84" y="63.60" width="2.60" height="85.60" fill="#47b4e6" />
<rect x="169.44" y="39.10" width="2.60" height="110.10" fill="#ff7d00" />
<rect x="172.95" y="141.10" width="2.60" height="8.10" fill="#ffe500" />
<rect x="175.55" y="63.60" width="2.60" height="85.60" fill="#47b4e6" />
<rect x="178.15" y="39.10" width="2.60" height="110.10" fill="#ff7d00" />
<rect x="181.66" y="139.80" width="2.60" height="9.40" fill="#ffe500" />
<rect x="184.26" y="62.80" width="2.60" height="86.40" fill="#47b4e6" />
<rect x="186.86" y="39.10" width="2.60" height="110.10" fill="#ff7d00" />
<rect x="190.37" y="139.20" width="2.60" height="10.00" fill="#ffe500" />
<rect x="192.97" y="62.80" width="2.60" height="86.40" fill="#47b4e6" />
<rect x="195.57" y="39.10" width="2.60" height="110.10" fill="#ff7d00" />
<rect x="199.08" y="138.90" width="2.60" height="10.30" fill="#ffe500" />
<rect x="201.68" y="62.80" width="2.60" height="86.40" fill="#47b4e6" />
<rect x="204.28" y="39.10" width="2.60" height="110.10" fill="#ff7d00" />
<rect x="207.79" y="138.90" width="2.60" height="10.30" fill="#ffe500" />
<rect x="210.39" y="62.80" width="2.60" height="86.40" fill="#47b4e6" />
<rect x="212.99" y="39.10" width="2.60" height="110.10" fill="#ff7d00" />
<rect x="41.7" y="9.3" width="174.8" height="139.89999999999998" fill="none" stroke="#4a4a4a" stroke-width="1.2"/>
<line x1="41.90" y1="8.70" x2="41.90" y2="149.20" stroke="#8a8a8a" stroke-width="1.8" />
<line x1="41.10" y1="149.60" x2="217.10" y2="149.60" stroke="#111" stroke-width="1.5" />
<line x1="38.70" y1="149.20" x2="41.70" y2="149.20" stroke="#222" stroke-width="1" />
<text x="37.20" y="152.90" font-size="10" text-anchor="end" fill="#000" >0.00</text>
<line x1="39.90" y1="134.70" x2="41.70" y2="134.70" stroke="#222" stroke-width="1" />
<line x1="38.70" y1="120.20" x2="41.70" y2="120.20" stroke="#222" stroke-width="1" />
<text x="37.20" y="123.90" font-size="10" text-anchor="end" fill="#000" >0.03</text>
<line x1="39.90" y1="105.70" x2="41.70" y2="105.70" stroke="#222" stroke-width="1" />
<line x1="38.70" y1="91.20" x2="41.70" y2="91.20" stroke="#222" stroke-width="1" />
<text x="37.20" y="94.90" font-size="10" text-anchor="end" fill="#000" >0.06</text>
<line x1="39.90" y1="76.70" x2="41.70" y2="76.70" stroke="#222" stroke-width="1" />
<line x1="38.70" y1="62.20" x2="41.70" y2="62.20" stroke="#222" stroke-width="1" />
<text x="37.20" y="65.90" font-size="10" text-anchor="end" fill="#000" >0.09</text>
<line x1="39.90" y1="47.70" x2="41.70" y2="47.70" stroke="#222" stroke-width="1" />
<line x1="38.70" y1="33.20" x2="41.70" y2="33.20" stroke="#222" stroke-width="1" />
<text x="37.20" y="36.90" font-size="10" text-anchor="end" fill="#000" >0.12</text>
<line x1="46.30" y1="149.20" x2="46.30" y2="151.00" stroke="#222" stroke-width="1" />
<line x1="54.98" y1="149.20" x2="54.98" y2="152.20" stroke="#222" stroke-width="1" />
<text x="55.28" y="162.20" font-size="10" text-anchor="middle" fill="#000" >2</text>
<line x1="63.66" y1="149.20" x2="63.66" y2="151.00" stroke="#222" stroke-width="1" />
<line x1="72.34" y1="149.20" x2="72.34" y2="152.20" stroke="#222" stroke-width="1" />
<text x="72.64" y="162.20" font-size="10" text-anchor="middle" fill="#000" >4</text>
<line x1="81.02" y1="149.20" x2="81.02" y2="151.00" stroke="#222" stroke-width="1" />
<line x1="89.70" y1="149.20" x2="89.70" y2="152.20" stroke="#222" stroke-width="1" />
<text x="90.00" y="162.20" font-size="10" text-anchor="middle" fill="#000" >6</text>
<line x1="98.38" y1="149.20" x2="98.38" y2="151.00" stroke="#222" stroke-width="1" />
<line x1="107.06" y1="149.20" x2="107.06" y2="152.20" stroke="#222" stroke-width="1" />
<text x="107.36" y="162.20" font-size="10" text-anchor="middle" fill="#000" >8</text>
<line x1="115.74" y1="149.20" x2="115.74" y2="151.00" stroke="#222" stroke-width="1" />
<line x1="124.42" y1="149.20" x2="124.42" y2="152.20" stroke="#222" stroke-width="1" />
<text x="124.72" y="162.20" font-size="10" text-anchor="middle" fill="#000" >10</text>
<line x1="133.10" y1="149.20" x2="133.10" y2="151.00" stroke="#222" stroke-width="1" />
<line x1="141.78" y1="149.20" x2="141.78" y2="152.20" stroke="#222" stroke-width="1" />
<text x="142.08" y="162.20" font-size="10" text-anchor="middle" fill="#000" >12</text>
<line x1="150.46" y1="149.20" x2="150.46" y2="151.00" stroke="#222" stroke-width="1" />
<line x1="159.14" y1="149.20" x2="159.14" y2="152.20" stroke="#222" stroke-width="1" />
<text x="159.44" y="162.20" font-size="10" text-anchor="middle" fill="#000" >14</text>
<line x1="167.82" y1="149.20" x2="167.82" y2="151.00" stroke="#222" stroke-width="1" />
<line x1="176.50" y1="149.20" x2="176.50" y2="152.20" stroke="#222" stroke-width="1" />
<text x="176.80" y="162.20" font-size="10" text-anchor="middle" fill="#000" >16</text>
<line x1="185.18" y1="149.20" x2="185.18" y2="151.00" stroke="#222" stroke-width="1" />
<line x1="193.86" y1="149.20" x2="193.86" y2="152.20" stroke="#222" stroke-width="1" />
<text x="194.16" y="162.20" font-size="10" text-anchor="middle" fill="#000" >18</text>
<line x1="202.54" y1="149.20" x2="202.54" y2="151.00" stroke="#222" stroke-width="1" />
<line x1="211.22" y1="149.20" x2="211.22" y2="152.20" stroke="#222" stroke-width="1" />
<text x="211.52" y="162.20" font-size="10" text-anchor="middle" fill="#000" >20</text>
<rect x="48.90" y="18.60" width="18.70" height="9.20" fill="#ffe500" />
<text x="70.20" y="25.80" font-size="8.4" text-anchor="start" fill="#000" >TO</text>
<rect x="84.40" y="18.60" width="19.10" height="9.20" fill="#47b4e6" />
<text x="106.30" y="25.80" font-size="8.4" text-anchor="start" fill="#000" >D-NTL/TO</text>
<rect x="147.90" y="18.60" width="19.10" height="9.20" fill="#ff7d00" />
<text x="169.80" y="25.80" font-size="8.4" text-anchor="start" fill="#000" >NTL</text>
<text x="63.80" y="177.00" font-size="12.2" text-anchor="start" fill="#000" textLength="131">Number of CO<tspan font-size="8.5" dy="2.5">2</tspan><tspan dy="-2.5"> pulses</tspan></text>
<text transform="translate(11.9,148.6) rotate(-90)" font-size="12.35">CO<tspan font-size="8.5" dy="2.0">2</tspan><tspan dy="-2.0"> uptake (mmol g</tspan><tspan font-size="8" dy="-4.0">-1</tspan><tspan dy="4.0">)</tspan></text>
<text x="230.60" y="10.60" font-size="15" text-anchor="start" fill="#000" >b</text>
<g clip-path="url(#cbL)">
<line x1="273.50" y1="183.30" x2="244.50" y2="183.30" stroke="#ff5050" stroke-width="0.6" />
<line x1="273.50" y1="183.30" x2="288.00" y2="156.70" stroke="#ff5050" stroke-width="0.6" />
<line x1="273.50" y1="183.30" x2="288.00" y2="209.90" stroke="#ff5050" stroke-width="0.6" />
<line x1="273.50" y1="130.10" x2="244.50" y2="130.10" stroke="#ff5050" stroke-width="0.6" />
<line x1="273.50" y1="130.10" x2="288.00" y2="103.50" stroke="#ff5050" stroke-width="0.6" />
<line x1="273.50" y1="130.10" x2="288.00" y2="156.70" stroke="#ff5050" stroke-width="0.6" />
<line x1="317.00" y1="156.70" x2="288.00" y2="156.70" stroke="#ff5050" stroke-width="0.6" />
<line x1="317.00" y1="156.70" x2="331.50" y2="130.10" stroke="#ff5050" stroke-width="0.6" />
<line x1="317.00" y1="156.70" x2="331.50" y2="183.30" stroke="#ff5050" stroke-width="0.6" />
<line x1="360.50" y1="183.30" x2="331.50" y2="183.30" stroke="#ff5050" stroke-width="0.6" />
<line x1="360.50" y1="183.30" x2="375.00" y2="156.70" stroke="#ff5050" stroke-width="0.6" />
<line x1="360.50" y1="183.30" x2="375.00" y2="209.90" stroke="#ff5050" stroke-width="0.6" />
<line x1="273.50" y1="76.90" x2="244.50" y2="76.90" stroke="#ff5050" stroke-width="0.6" />
<line x1="273.50" y1="76.90" x2="288.00" y2="50.30" stroke="#ff5050" stroke-width="0.6" />
<line x1="273.50" y1="76.90" x2="288.00" y2="103.50" stroke="#ff5050" stroke-width="0.6" />
<line x1="317.00" y1="103.50" x2="288.00" y2="103.50" stroke="#ff5050" stroke-width="0.6" />
<line x1="317.00" y1="103.50" x2="331.50" y2="76.90" stroke="#ff5050" stroke-width="0.6" />
<line x1="317.00" y1="103.50" x2="331.50" y2="130.10" stroke="#ff5050" stroke-width="0.6" />
<line x1="360.50" y1="130.10" x2="331.50" y2="130.10" stroke="#ff5050" stroke-width="0.6" />
<line x1="360.50" y1="130.10" x2="375.00" y2="103.50" stroke="#ff5050" stroke-width="0.6" />
<line x1="360.50" y1="130.10" x2="375.00" y2="156.70" stroke="#ff5050" stroke-width="0.6" />
<line x1="273.50" y1="23.70" x2="244.50" y2="23.70" stroke="#ff5050" stroke-width="0.6" />
<line x1="273.50" y1="23.70" x2="288.00" y2="-2.90" stroke="#ff5050" stroke-width="0.6" />
<line x1="273.50" y1="23.70" x2="288.00" y2="50.30" stroke="#ff5050" stroke-width="0.6" />
<line x1="317.00" y1="50.30" x2="288.00" y2="50.30" stroke="#ff5050" stroke-width="0.6" />
<line x1="317.00" y1="50.30" x2="331.50" y2="23.70" stroke="#ff5050" stroke-width="0.6" />
<line x1="317.00" y1="50.30" x2="331.50" y2="76.90" stroke="#ff5050" stroke-width="0.6" />
<line x1="360.50" y1="76.90" x2="331.50" y2="76.90" stroke="#ff5050" stroke-width="0.6" />
<line x1="360.50" y1="76.90" x2="375.00" y2="50.30" stroke="#ff5050" stroke-width="0.6" />
<line x1="360.50" y1="76.90" x2="375.00" y2="103.50" stroke="#ff5050" stroke-width="0.6" />
<line x1="360.50" y1="23.70" x2="331.50" y2="23.70" stroke="#ff5050" stroke-width="0.6" />
<line x1="360.50" y1="23.70" x2="375.00" y2="-2.90" stroke="#ff5050" stroke-width="0.6" />
<line x1="360.50" y1="23.70" x2="375.00" y2="50.30" stroke="#ff5050" stroke-width="0.6" />
<line x1="289.50" y1="161.40" x2="260.50" y2="161.40" stroke="#8fa6d8" stroke-width="0.5" />
<line x1="289.50" y1="161.40" x2="304.00" y2="134.80" stroke="#8fa6d8" stroke-width="0.5" />
<line x1="289.50" y1="161.40" x2="304.00" y2="188.00" stroke="#8fa6d8" stroke-width="0.5" />
<line x1="333.00" y1="188.00" x2="304.00" y2="188.00" stroke="#8fa6d8" stroke-width="0.5" />
<line x1="333.00" y1="188.00" x2="347.50" y2="161.40" stroke="#8fa6d8" stroke-width="0.5" />
<line x1="333.00" y1="188.00" x2="347.50" y2="214.60" stroke="#8fa6d8" stroke-width="0.5" />
<line x1="289.50" y1="108.20" x2="260.50" y2="108.20" stroke="#8fa6d8" stroke-width="0.5" />
<line x1="289.50" y1="108.20" x2="304.00" y2="81.60" stroke="#8fa6d8" stroke-width="0.5" />
<line x1="289.50" y1="108.20" x2="304.00" y2="134.80" stroke="#8fa6d8" stroke-width="0.5" />
<line x1="333.00" y1="134.80" x2="304.00" y2="134.80" stroke="#8fa6d8" stroke-width="0.5" />
<line x1="333.00" y1="134.80" x2="347.50" y2="108.20" stroke="#8fa6d8" stroke-width="0.5" />
<line x1="333.00" y1="134.80" x2="347.50" y2="161.40" stroke="#8fa6d8" stroke-width="0.5" />
<line x1="376.50" y1="161.40" x2="347.50" y2="161.40" stroke="#8fa6d8" stroke-width="0.5" />
<line x1="376.50" y1="161.40" x2="391.00" y2="134.80" stroke="#8fa6d8" stroke-width="0.5" />
<line x1="376.50" y1="161.40" x2="391.00" y2="188.00" stroke="#8fa6d8" stroke-width="0.5" />
<line x1="289.50" y1="55.00" x2="260.50" y2="55.00" stroke="#8fa6d8" stroke-width="0.5" />
<line x1="289.50" y1="55.00" x2="304.00" y2="28.40" stroke="#8fa6d8" stroke-width="0.5" />
<line x1="289.50" y1="55.00" x2="304.00" y2="81.60" stroke="#8fa6d8" stroke-width="0.5" />
<line x1="333.00" y1="81.60" x2="304.00" y2="81.60" stroke="#8fa6d8" stroke-width="0.5" />
<line x1="333.00" y1="81.60" x2="347.50" y2="55.00" stroke="#8fa6d8" stroke-width="0.5" />
<line x1="333.00" y1="81.60" x2="347.50" y2="108.20" stroke="#8fa6d8" stroke-width="0.5" />
<line x1="376.50" y1="108.20" x2="347.50" y2="108.20" stroke="#8fa6d8" stroke-width="0.5" />
<line x1="376.50" y1="108.20" x2="391.00" y2="81.60" stroke="#8fa6d8" stroke-width="0.5" />
<line x1="376.50" y1="108.20" x2="391.00" y2="134.80" stroke="#8fa6d8" stroke-width="0.5" />
<line x1="333.00" y1="28.40" x2="304.00" y2="28.40" stroke="#8fa6d8" stroke-width="0.5" />
<line x1="333.00" y1="28.40" x2="347.50" y2="1.80" stroke="#8fa6d8" stroke-width="0.5" />
<line x1="333.00" y1="28.40" x2="347.50" y2="55.00" stroke="#8fa6d8" stroke-width="0.5" />
<line x1="376.50" y1="55.00" x2="347.50" y2="55.00" stroke="#8fa6d8" stroke-width="0.5" />
<line x1="376.50" y1="55.00" x2="391.00" y2="28.40" stroke="#8fa6d8" stroke-width="0.5" />
<line x1="376.50" y1="55.00" x2="391.00" y2="81.60" stroke="#8fa6d8" stroke-width="0.5" />
<line x1="286.00" y1="163.00" x2="257.00" y2="163.00" stroke="#ff7070" stroke-width="0.45" />
<line x1="286.00" y1="163.00" x2="300.50" y2="136.40" stroke="#ff7070" stroke-width="0.45" />
<line x1="286.00" y1="163.00" x2="300.50" y2="189.60" stroke="#ff7070" stroke-width="0.45" />
<line x1="329.50" y1="189.60" x2="300.50" y2="189.60" stroke="#ff7070" stroke-width="0.45" />
<line x1="329.50" y1="189.60" x2="344.00" y2="163.00" stroke="#ff7070" stroke-width="0.45" />
<line x1="329.50" y1="189.60" x2="344.00" y2="216.20" stroke="#ff7070" stroke-width="0.45" />
<line x1="286.00" y1="109.80" x2="257.00" y2="109.80" stroke="#ff7070" stroke-width="0.45" />
<line x1="286.00" y1="109.80" x2="300.50" y2="83.20" stroke="#ff7070" stroke-width="0.45" />
<line x1="286.00" y1="109.80" x2="300.50" y2="136.40" stroke="#ff7070" stroke-width="0.45" />
<line x1="329.50" y1="136.40" x2="300.50" y2="136.40" stroke="#ff7070" stroke-width="0.45" />
<line x1="329.50" y1="136.40" x2="344.00" y2="109.80" stroke="#ff7070" stroke-width="0.45" />
<line x1="329.50" y1="136.40" x2="344.00" y2="163.00" stroke="#ff7070" stroke-width="0.45" />
<line x1="373.00" y1="163.00" x2="344.00" y2="163.00" stroke="#ff7070" stroke-width="0.45" />
<line x1="373.00" y1="163.00" x2="387.50" y2="136.40" stroke="#ff7070" stroke-width="0.45" />
<line x1="373.00" y1="163.00" x2="387.50" y2="189.60" stroke="#ff7070" stroke-width="0.45" />
<line x1="286.00" y1="56.60" x2="257.00" y2="56.60" stroke="#ff7070" stroke-width="0.45" />
<line x1="286.00" y1="56.60" x2="300.50" y2="30.00" stroke="#ff7070" stroke-width="0.45" />
<line x1="286.00" y1="56.60" x2="300.50" y2="83.20" stroke="#ff7070" stroke-width="0.45" />
<line x1="329.50" y1="83.20" x2="300.50" y2="83.20" stroke="#ff7070" stroke-width="0.45" />
<line x1="329.50" y1="83.20" x2="344.00" y2="56.60" stroke="#ff7070" stroke-width="0.45" />
<line x1="329.50" y1="83.20" x2="344.00" y2="109.80" stroke="#ff7070" stroke-width="0.45" />
<line x1="373.00" y1="109.80" x2="344.00" y2="109.80" stroke="#ff7070" stroke-width="0.45" />
<line x1="373.00" y1="109.80" x2="387.50" y2="83.20" stroke="#ff7070" stroke-width="0.45" />
<line x1="373.00" y1="109.80" x2="387.50" y2="136.40" stroke="#ff7070" stroke-width="0.45" />
<line x1="329.50" y1="30.00" x2="300.50" y2="30.00" stroke="#ff7070" stroke-width="0.45" />
<line x1="329.50" y1="30.00" x2="344.00" y2="3.40" stroke="#ff7070" stroke-width="0.45" />
<line x1="329.50" y1="30.00" x2="344.00" y2="56.60" stroke="#ff7070" stroke-width="0.45" />
<line x1="373.00" y1="56.60" x2="344.00" y2="56.60" stroke="#ff7070" stroke-width="0.45" />
<line x1="373.00" y1="56.60" x2="387.50" y2="30.00" stroke="#ff7070" stroke-width="0.45" />
<line x1="373.00" y1="56.60" x2="387.50" y2="83.20" stroke="#ff7070" stroke-width="0.45" />
<line x1="257.00" y1="167.50" x2="243.20" y2="167.50" stroke="#6585c0" stroke-width="6.0" />
<line x1="243.20" y1="167.50" x2="227.00" y2="167.50" stroke="#ee1a1a" stroke-width="6.0" />
<line x1="257.00" y1="167.50" x2="262.75" y2="155.08" stroke="#6585c0" stroke-width="6.0" />
<line x1="262.75" y1="155.08" x2="269.50" y2="140.50" stroke="#ee1a1a" stroke-width="6.0" />
<line x1="257.00" y1="167.50" x2="262.75" y2="179.46" stroke="#6585c0" stroke-width="6.0" />
<line x1="262.75" y1="179.46" x2="269.50" y2="193.50" stroke="#ee1a1a" stroke-width="6.0" />
<line x1="257.00" y1="114.50" x2="243.20" y2="114.50" stroke="#6585c0" stroke-width="6.0" />
<line x1="243.20" y1="114.50" x2="227.00" y2="114.50" stroke="#ee1a1a" stroke-width="6.0" />
<line x1="257.00" y1="114.50" x2="262.75" y2="102.08" stroke="#6585c0" stroke-width="6.0" />
<line x1="262.75" y1="102.08" x2="269.50" y2="87.50" stroke="#ee1a1a" stroke-width="6.0" />
<line x1="257.00" y1="114.50" x2="262.75" y2="126.46" stroke="#6585c0" stroke-width="6.0" />
<line x1="262.75" y1="126.46" x2="269.50" y2="140.50" stroke="#ee1a1a" stroke-width="6.0" />
<line x1="299.50" y1="141.00" x2="285.70" y2="141.00" stroke="#6585c0" stroke-width="6.0" />
<line x1="285.70" y1="141.00" x2="269.50" y2="141.00" stroke="#ee1a1a" stroke-width="6.0" />
<line x1="299.50" y1="141.00" x2="305.25" y2="128.58" stroke="#6585c0" stroke-width="6.0" />
<line x1="305.25" y1="128.58" x2="312.00" y2="114.00" stroke="#ee1a1a" stroke-width="6.0" />
<line x1="299.50" y1="141.00" x2="305.25" y2="152.96" stroke="#6585c0" stroke-width="6.0" />
<line x1="305.25" y1="152.96" x2="312.00" y2="167.00" stroke="#ee1a1a" stroke-width="6.0" />
<line x1="342.00" y1="167.50" x2="328.20" y2="167.50" stroke="#6585c0" stroke-width="6.0" />
<line x1="328.20" y1="167.50" x2="312.00" y2="167.50" stroke="#ee1a1a" stroke-width="6.0" />
<line x1="342.00" y1="167.50" x2="347.75" y2="155.08" stroke="#6585c0" stroke-width="6.0" />
<line x1="347.75" y1="155.08" x2="354.50" y2="140.50" stroke="#ee1a1a" stroke-width="6.0" />
<line x1="342.00" y1="167.50" x2="347.75" y2="179.46" stroke="#6585c0" stroke-width="6.0" />
<line x1="347.75" y1="179.46" x2="354.50" y2="193.50" stroke="#ee1a1a" stroke-width="6.0" />
<line x1="257.00" y1="61.50" x2="243.20" y2="61.50" stroke="#6585c0" stroke-width="6.0" />
<line x1="243.20" y1="61.50" x2="227.00" y2="61.50" stroke="#ee1a1a" stroke-width="6.0" />
<line x1="257.00" y1="61.50" x2="262.75" y2="49.08" stroke="#6585c0" stroke-width="6.0" />
<line x1="262.75" y1="49.08" x2="269.50" y2="34.50" stroke="#ee1a1a" stroke-width="6.0" />
<line x1="257.00" y1="61.50" x2="262.75" y2="73.46" stroke="#6585c0" stroke-width="6.0" />
<line x1="262.75" y1="73.46" x2="269.50" y2="87.50" stroke="#ee1a1a" stroke-width="6.0" />
<line x1="299.50" y1="88.00" x2="285.70" y2="88.00" stroke="#6585c0" stroke-width="6.0" />
<line x1="285.70" y1="88.00" x2="269.50" y2="88.00" stroke="#ee1a1a" stroke-width="6.0" />
<line x1="299.50" y1="88.00" x2="305.25" y2="75.58" stroke="#6585c0" stroke-width="6.0" />
<line x1="305.25" y1="75.58" x2="312.00" y2="61.00" stroke="#ee1a1a" stroke-width="6.0" />
<line x1="299.50" y1="88.00" x2="305.25" y2="99.96" stroke="#6585c0" stroke-width="6.0" />
<line x1="305.25" y1="99.96" x2="312.00" y2="114.00" stroke="#ee1a1a" stroke-width="6.0" />
<line x1="342.00" y1="114.50" x2="328.20" y2="114.50" stroke="#c8c8c8" stroke-width="6.0" />
<line x1="328.20" y1="114.50" x2="312.00" y2="114.50" stroke="#ee1a1a" stroke-width="6.0" />
<line x1="342.00" y1="114.50" x2="347.75" y2="102.08" stroke="#c8c8c8" stroke-width="6.0" />
<line x1="347.75" y1="102.08" x2="354.50" y2="87.50" stroke="#ee1a1a" stroke-width="6.0" />
<line x1="342.00" y1="114.50" x2="347.75" y2="126.46" stroke="#c8c8c8" stroke-width="6.0" />
<line x1="347.75" y1="126.46" x2="354.50" y2="140.50" stroke="#ee1a1a" stroke-width="6.0" />
<line x1="384.50" y1="141.00" x2="370.70" y2="141.00" stroke="#6585c0" stroke-width="6.0" />
<line x1="370.70" y1="141.00" x2="354.50" y2="141.00" stroke="#ee1a1a" stroke-width="6.0" />
<line x1="384.50" y1="141.00" x2="390.25" y2="128.58" stroke="#6585c0" stroke-width="6.0" />
<line x1="390.25" y1="128.58" x2="397.00" y2="114.00" stroke="#ee1a1a" stroke-width="6.0" />
<line x1="384.50" y1="141.00" x2="390.25" y2="152.96" stroke="#6585c0" stroke-width="6.0" />
<line x1="390.25" y1="152.96" x2="397.00" y2="167.00" stroke="#ee1a1a" stroke-width="6.0" />
<line x1="257.00" y1="8.50" x2="243.20" y2="8.50" stroke="#6585c0" stroke-width="6.0" />
<line x1="243.20" y1="8.50" x2="227.00" y2="8.50" stroke="#ee1a1a" stroke-width="6.0" />
<line x1="257.00" y1="8.50" x2="262.75" y2="-3.92" stroke="#6585c0" stroke-width="6.0" />
<line x1="262.75" y1="-3.92" x2="269.50" y2="-18.50" stroke="#ee1a1a" stroke-width="6.0" />
<line x1="257.00" y1="8.50" x2="262.75" y2="20.46" stroke="#6585c0" stroke-width="6.0" />
<line x1="262.75" y1="20.46" x2="269.50" y2="34.50" stroke="#ee1a1a" stroke-width="6.0" />
<line x1="299.50" y1="35.00" x2="285.70" y2="35.00" stroke="#6585c0" stroke-width="6.0" />
<line x1="285.70" y1="35.00" x2="269.50" y2="35.00" stroke="#ee1a1a" stroke-width="6.0" />
<line x1="299.50" y1="35.00" x2="305.25" y2="22.58" stroke="#6585c0" stroke-width="6.0" />
<line x1="305.25" y1="22.58" x2="312.00" y2="8.00" stroke="#ee1a1a" stroke-width="6.0" />
<line x1="299.50" y1="35.00" x2="305.25" y2="46.96" stroke="#6585c0" stroke-width="6.0" />
<line x1="305.25" y1="46.96" x2="312.00" y2="61.00" stroke="#ee1a1a" stroke-width="6.0" />
<line x1="342.00" y1="61.50" x2="328.20" y2="61.50" stroke="#6585c0" stroke-width="6.0" />
<line x1="328.20" y1="61.50" x2="312.00" y2="61.50" stroke="#ee1a1a" stroke-width="6.0" />
<line x1="342.00" y1="61.50" x2="347.75" y2="49.08" stroke="#6585c0" stroke-width="6.0" />
<line x1="347.75" y1="49.08" x2="354.50" y2="34.50" stroke="#ee1a1a" stroke-width="6.0" />
<line x1="342.00" y1="61.50" x2="347.75" y2="73.46" stroke="#6585c0" stroke-width="6.0" />
<line x1="347.75" y1="73.46" x2="354.50" y2="87.50" stroke="#ee1a1a" stroke-width="6.0" />
<line x1="384.50" y1="88.00" x2="370.70" y2="88.00" stroke="#6585c0" stroke-width="6.0" />
<line x1="370.70" y1="88.00" x2="354.50" y2="88.00" stroke="#ee1a1a" stroke-width="6.0" />
<line x1="384.50" y1="88.00" x2="390.25" y2="75.58" stroke="#6585c0" stroke-width="6.0" />
<line x1="390.25" y1="75.58" x2="397.00" y2="61.00" stroke="#ee1a1a" stroke-width="6.0" />
<line x1="384.50" y1="88.00" x2="390.25" y2="99.96" stroke="#6585c0" stroke-width="6.0" />
<line x1="390.25" y1="99.96" x2="397.00" y2="114.00" stroke="#ee1a1a" stroke-width="6.0" />
<line x1="299.50" y1="-18.00" x2="285.70" y2="-18.00" stroke="#6585c0" stroke-width="6.0" />
<line x1="285.70" y1="-18.00" x2="269.50" y2="-18.00" stroke="#ee1a1a" stroke-width="6.0" />
<line x1="299.50" y1="-18.00" x2="305.25" y2="-30.42" stroke="#6585c0" stroke-width="6.0" />
<line x1="305.25" y1="-30.42" x2="312.00" y2="-45.00" stroke="#ee1a1a" stroke-width="6.0" />
<line x1="299.50" y1="-18.00" x2="305.25" y2="-6.04" stroke="#6585c0" stroke-width="6.0" />
<line x1="305.25" y1="-6.04" x2="312.00" y2="8.00" stroke="#ee1a1a" stroke-width="6.0" />
<line x1="342.00" y1="8.50" x2="328.20" y2="8.50" stroke="#6585c0" stroke-width="6.0" />
<line x1="328.20" y1="8.50" x2="312.00" y2="8.50" stroke="#ee1a1a" stroke-width="6.0" />
<line x1="342.00" y1="8.50" x2="347.75" y2="-3.92" stroke="#6585c0" stroke-width="6.0" />
<line x1="347.75" y1="-3.92" x2="354.50" y2="-18.50" stroke="#ee1a1a" stroke-width="6.0" />
<line x1="342.00" y1="8.50" x2="347.75" y2="20.46" stroke="#6585c0" stroke-width="6.0" />
<line x1="347.75" y1="20.46" x2="354.50" y2="34.50" stroke="#ee1a1a" stroke-width="6.0" />
<line x1="384.50" y1="35.00" x2="370.70" y2="35.00" stroke="#6585c0" stroke-width="6.0" />
<line x1="370.70" y1="35.00" x2="354.50" y2="35.00" stroke="#ee1a1a" stroke-width="6.0" />
<line x1="384.50" y1="35.00" x2="390.25" y2="22.58" stroke="#6585c0" stroke-width="6.0" />
<line x1="390.25" y1="22.58" x2="397.00" y2="8.00" stroke="#ee1a1a" stroke-width="6.0" />
<line x1="384.50" y1="35.00" x2="390.25" y2="46.96" stroke="#6585c0" stroke-width="6.0" />
<line x1="390.25" y1="46.96" x2="397.00" y2="61.00" stroke="#ee1a1a" stroke-width="6.0" />
<line x1="384.50" y1="-18.00" x2="370.70" y2="-18.00" stroke="#6585c0" stroke-width="6.0" />
<line x1="370.70" y1="-18.00" x2="354.50" y2="-18.00" stroke="#ee1a1a" stroke-width="6.0" />
<line x1="384.50" y1="-18.00" x2="390.25" y2="-30.42" stroke="#6585c0" stroke-width="6.0" />
<line x1="390.25" y1="-30.42" x2="397.00" y2="-45.00" stroke="#ee1a1a" stroke-width="6.0" />
<line x1="384.50" y1="-18.00" x2="390.25" y2="-6.04" stroke="#6585c0" stroke-width="6.0" />
<line x1="390.25" y1="-6.04" x2="397.00" y2="8.00" stroke="#ee1a1a" stroke-width="6.0" />
<circle cx="257.00" cy="167.50" r="4.90" fill="url(#gB)"/>
<circle cx="227.00" cy="167.50" r="5.00" fill="url(#gW)"/>
<circle cx="257.00" cy="114.50" r="4.90" fill="url(#gB)"/>
<circle cx="227.00" cy="114.50" r="5.00" fill="url(#gW)"/>
<circle cx="299.50" cy="141.00" r="4.90" fill="url(#gB)"/>
<circle cx="269.50" cy="141.00" r="5.00" fill="url(#gW)"/>
<circle cx="342.00" cy="167.50" r="4.90" fill="url(#gB)"/>
<circle cx="312.00" cy="167.50" r="5.00" fill="url(#gW)"/>
<circle cx="257.00" cy="61.50" r="4.90" fill="url(#gB)"/>
<circle cx="227.00" cy="61.50" r="5.00" fill="url(#gW)"/>
<circle cx="299.50" cy="88.00" r="4.90" fill="url(#gB)"/>
<circle cx="269.50" cy="88.00" r="5.00" fill="url(#gW)"/>
<circle cx="342.00" cy="114.50" r="4.90" fill="url(#gLG)"/>
<circle cx="312.00" cy="114.50" r="5.00" fill="url(#gW)"/>
<circle cx="384.50" cy="141.00" r="4.90" fill="url(#gB)"/>
<circle cx="354.50" cy="141.00" r="5.00" fill="url(#gW)"/>
<circle cx="257.00" cy="8.50" r="4.90" fill="url(#gB)"/>
<circle cx="227.00" cy="8.50" r="5.00" fill="url(#gW)"/>
<circle cx="299.50" cy="35.00" r="4.90" fill="url(#gB)"/>
<circle cx="269.50" cy="35.00" r="5.00" fill="url(#gW)"/>
<circle cx="342.00" cy="61.50" r="4.90" fill="url(#gB)"/>
<circle cx="312.00" cy="61.50" r="5.00" fill="url(#gW)"/>
<circle cx="384.50" cy="88.00" r="4.90" fill="url(#gB)"/>
<circle cx="354.50" cy="88.00" r="5.00" fill="url(#gW)"/>
<circle cx="299.50" cy="-18.00" r="4.90" fill="url(#gB)"/>
<circle cx="269.50" cy="-18.00" r="5.00" fill="url(#gW)"/>
<circle cx="342.00" cy="8.50" r="4.90" fill="url(#gB)"/>
<circle cx="312.00" cy="8.50" r="5.00" fill="url(#gW)"/>
<circle cx="384.50" cy="35.00" r="4.90" fill="url(#gB)"/>
<circle cx="354.50" cy="35.00" r="5.00" fill="url(#gW)"/>
<circle cx="384.50" cy="-18.00" r="4.90" fill="url(#gB)"/>
<circle cx="354.50" cy="-18.00" r="5.00" fill="url(#gW)"/>
<line x1="257.90" y1="61.20" x2="266.00" y2="66.00" stroke="#8a8a8a" stroke-width="3.5" />
<line x1="265.10" y1="40.20" x2="267.20" y2="49.50" stroke="#7a7a7a" stroke-width="3" />
<line x1="267.20" y1="49.50" x2="268.40" y2="56.50" stroke="#7a7a7a" stroke-width="3" />
<line x1="266.00" y1="65.90" x2="270.10" y2="76.40" stroke="#7a7a7a" stroke-width="3" />
<circle cx="270.10" cy="34.90" r="4.60" fill="url(#gW)"/>
<circle cx="265.10" cy="40.20" r="5.60" fill="url(#gR)"/>
<circle cx="267.20" cy="50.50" r="3.20" fill="url(#gG)"/>
<circle cx="257.90" cy="61.20" r="5.20" fill="url(#gLG)"/>
<circle cx="266.50" cy="66.50" r="3.60" fill="url(#gG)"/>
<circle cx="268.40" cy="56.50" r="5.60" fill="url(#gR)"/>
<circle cx="269.50" cy="85.00" r="4.60" fill="url(#gW)"/>
<circle cx="270.10" cy="76.40" r="5.60" fill="url(#gR)"/>
</g>
<rect x="247.2" y="11" width="103.8" height="141.2" fill="none" stroke="#222" stroke-width="1.2"/>
<g clip-path="url(#cbR)">
<line x1="312.00" y1="127.00" x2="338.00" y2="151.00" stroke="#ff5a5a" stroke-width="0.6" />
<line x1="312.00" y1="151.00" x2="338.00" y2="127.00" stroke="#ff5a5a" stroke-width="0.6" />
<line x1="318.50" y1="129.00" x2="340.50" y2="149.00" stroke="#6f8fd0" stroke-width="0.55" />
<line x1="318.50" y1="149.00" x2="340.50" y2="129.00" stroke="#6f8fd0" stroke-width="0.55" />
<line x1="325.00" y1="127.00" x2="351.00" y2="151.00" stroke="#ff5a5a" stroke-width="0.6" />
<line x1="325.00" y1="151.00" x2="351.00" y2="127.00" stroke="#ff5a5a" stroke-width="0.6" />
<line x1="331.50" y1="129.00" x2="353.50" y2="149.00" stroke="#6f8fd0" stroke-width="0.55" />
<line x1="331.50" y1="149.00" x2="353.50" y2="129.00" stroke="#6f8fd0" stroke-width="0.55" />
<line x1="338.00" y1="127.00" x2="364.00" y2="151.00" stroke="#ff5a5a" stroke-width="0.6" />
<line x1="338.00" y1="151.00" x2="364.00" y2="127.00" stroke="#ff5a5a" stroke-width="0.6" />
<line x1="344.50" y1="129.00" x2="366.50" y2="149.00" stroke="#6f8fd0" stroke-width="0.55" />
<line x1="344.50" y1="149.00" x2="366.50" y2="129.00" stroke="#6f8fd0" stroke-width="0.55" />
<line x1="351.00" y1="127.00" x2="377.00" y2="151.00" stroke="#ff5a5a" stroke-width="0.6" />
<line x1="351.00" y1="151.00" x2="377.00" y2="127.00" stroke="#ff5a5a" stroke-width="0.6" />
<line x1="357.50" y1="129.00" x2="379.50" y2="149.00" stroke="#6f8fd0" stroke-width="0.55" />
<line x1="357.50" y1="149.00" x2="379.50" y2="129.00" stroke="#6f8fd0" stroke-width="0.55" />
<line x1="364.00" y1="127.00" x2="390.00" y2="151.00" stroke="#ff5a5a" stroke-width="0.6" />
<line x1="364.00" y1="151.00" x2="390.00" y2="127.00" stroke="#ff5a5a" stroke-width="0.6" />
<line x1="370.50" y1="129.00" x2="392.50" y2="149.00" stroke="#6f8fd0" stroke-width="0.55" />
<line x1="370.50" y1="149.00" x2="392.50" y2="129.00" stroke="#6f8fd0" stroke-width="0.55" />
<line x1="377.00" y1="127.00" x2="403.00" y2="151.00" stroke="#ff5a5a" stroke-width="0.6" />
<line x1="377.00" y1="151.00" x2="403.00" y2="127.00" stroke="#ff5a5a" stroke-width="0.6" />
<line x1="383.50" y1="129.00" x2="405.50" y2="149.00" stroke="#6f8fd0" stroke-width="0.55" />
<line x1="383.50" y1="149.00" x2="405.50" y2="129.00" stroke="#6f8fd0" stroke-width="0.55" />
<line x1="390.00" y1="127.00" x2="416.00" y2="151.00" stroke="#ff5a5a" stroke-width="0.6" />
<line x1="390.00" y1="151.00" x2="416.00" y2="127.00" stroke="#ff5a5a" stroke-width="0.6" />
<line x1="396.50" y1="129.00" x2="418.50" y2="149.00" stroke="#6f8fd0" stroke-width="0.55" />
<line x1="396.50" y1="149.00" x2="418.50" y2="129.00" stroke="#6f8fd0" stroke-width="0.55" />
<line x1="403.00" y1="127.00" x2="429.00" y2="151.00" stroke="#ff5a5a" stroke-width="0.6" />
<line x1="403.00" y1="151.00" x2="429.00" y2="127.00" stroke="#ff5a5a" stroke-width="0.6" />
<line x1="409.50" y1="129.00" x2="431.50" y2="149.00" stroke="#6f8fd0" stroke-width="0.55" />
<line x1="409.50" y1="149.00" x2="431.50" y2="129.00" stroke="#6f8fd0" stroke-width="0.55" />
<line x1="416.00" y1="127.00" x2="442.00" y2="151.00" stroke="#ff5a5a" stroke-width="0.6" />
<line x1="416.00" y1="151.00" x2="442.00" y2="127.00" stroke="#ff5a5a" stroke-width="0.6" />
<line x1="422.50" y1="129.00" x2="444.50" y2="149.00" stroke="#6f8fd0" stroke-width="0.55" />
<line x1="422.50" y1="149.00" x2="444.50" y2="129.00" stroke="#6f8fd0" stroke-width="0.55" />
<line x1="429.00" y1="127.00" x2="455.00" y2="151.00" stroke="#ff5a5a" stroke-width="0.6" />
<line x1="429.00" y1="151.00" x2="455.00" y2="127.00" stroke="#ff5a5a" stroke-width="0.6" />
<line x1="435.50" y1="129.00" x2="457.50" y2="149.00" stroke="#6f8fd0" stroke-width="0.55" />
<line x1="435.50" y1="149.00" x2="457.50" y2="129.00" stroke="#6f8fd0" stroke-width="0.55" />
<line x1="442.00" y1="127.00" x2="468.00" y2="151.00" stroke="#ff5a5a" stroke-width="0.6" />
<line x1="442.00" y1="151.00" x2="468.00" y2="127.00" stroke="#ff5a5a" stroke-width="0.6" />
<line x1="448.50" y1="129.00" x2="470.50" y2="149.00" stroke="#6f8fd0" stroke-width="0.55" />
<line x1="448.50" y1="149.00" x2="470.50" y2="129.00" stroke="#6f8fd0" stroke-width="0.55" />
<line x1="455.00" y1="127.00" x2="481.00" y2="151.00" stroke="#ff5a5a" stroke-width="0.6" />
<line x1="455.00" y1="151.00" x2="481.00" y2="127.00" stroke="#ff5a5a" stroke-width="0.6" />
<line x1="461.50" y1="129.00" x2="483.50" y2="149.00" stroke="#6f8fd0" stroke-width="0.55" />
<line x1="461.50" y1="149.00" x2="483.50" y2="129.00" stroke="#6f8fd0" stroke-width="0.55" />
<line x1="468.00" y1="127.00" x2="494.00" y2="151.00" stroke="#ff5a5a" stroke-width="0.6" />
<line x1="468.00" y1="151.00" x2="494.00" y2="127.00" stroke="#ff5a5a" stroke-width="0.6" />
<line x1="474.50" y1="129.00" x2="496.50" y2="149.00" stroke="#6f8fd0" stroke-width="0.55" />
<line x1="474.50" y1="149.00" x2="496.50" y2="129.00" stroke="#6f8fd0" stroke-width="0.55" />
<line x1="481.00" y1="127.00" x2="507.00" y2="151.00" stroke="#ff5a5a" stroke-width="0.6" />
<line x1="481.00" y1="151.00" x2="507.00" y2="127.00" stroke="#ff5a5a" stroke-width="0.6" />
<line x1="487.50" y1="129.00" x2="509.50" y2="149.00" stroke="#6f8fd0" stroke-width="0.55" />
<line x1="487.50" y1="149.00" x2="509.50" y2="129.00" stroke="#6f8fd0" stroke-width="0.55" />
<line x1="494.00" y1="127.00" x2="520.00" y2="151.00" stroke="#ff5a5a" stroke-width="0.6" />
<line x1="494.00" y1="151.00" x2="520.00" y2="127.00" stroke="#ff5a5a" stroke-width="0.6" />
<line x1="500.50" y1="129.00" x2="522.50" y2="149.00" stroke="#6f8fd0" stroke-width="0.55" />
<line x1="500.50" y1="149.00" x2="522.50" y2="129.00" stroke="#6f8fd0" stroke-width="0.55" />
<line x1="507.00" y1="127.00" x2="533.00" y2="151.00" stroke="#ff5a5a" stroke-width="0.6" />
<line x1="507.00" y1="151.00" x2="533.00" y2="127.00" stroke="#ff5a5a" stroke-width="0.6" />
<line x1="513.50" y1="129.00" x2="535.50" y2="149.00" stroke="#6f8fd0" stroke-width="0.55" />
<line x1="513.50" y1="149.00" x2="535.50" y2="129.00" stroke="#6f8fd0" stroke-width="0.55" />
<line x1="368.00" y1="125.00" x2="368.00" y2="151.00" stroke="#ff6a6a" stroke-width="0.55" />
<line x1="380.30" y1="125.00" x2="380.30" y2="151.00" stroke="#ff6a6a" stroke-width="0.55" />
<line x1="392.60" y1="125.00" x2="392.60" y2="151.00" stroke="#ff6a6a" stroke-width="0.55" />
<line x1="404.90" y1="125.00" x2="404.90" y2="151.00" stroke="#ff6a6a" stroke-width="0.55" />
<line x1="417.20" y1="125.00" x2="417.20" y2="151.00" stroke="#ff6a6a" stroke-width="0.55" />
<line x1="429.50" y1="125.00" x2="429.50" y2="151.00" stroke="#ff6a6a" stroke-width="0.55" />
<line x1="441.80" y1="125.00" x2="441.80" y2="151.00" stroke="#ff6a6a" stroke-width="0.55" />
<line x1="454.10" y1="125.00" x2="454.10" y2="151.00" stroke="#ff6a6a" stroke-width="0.55" />
<line x1="466.40" y1="125.00" x2="466.40" y2="151.00" stroke="#ff6a6a" stroke-width="0.55" />
<line x1="364.00" y1="139.00" x2="467.00" y2="139.00" stroke="#ff8080" stroke-width="0.4" />
<line x1="364.00" y1="133.00" x2="467.00" y2="133.00" stroke="#8fa8e0" stroke-width="0.4" />
<line x1="364.00" y1="145.00" x2="467.00" y2="145.00" stroke="#8fa8e0" stroke-width="0.4" />
<line x1="355.70" y1="70.00" x2="355.70" y2="82.00" stroke="#ff5a5a" stroke-width="0.6" />
<line x1="349.70" y1="74.00" x2="361.70" y2="70.00" stroke="#ff5a5a" stroke-width="0.55" />
<line x1="349.70" y1="70.00" x2="361.70" y2="74.00" stroke="#ff5a5a" stroke-width="0.55" />
<line x1="350.70" y1="77.00" x2="362.70" y2="77.00" stroke="#ff7a7a" stroke-width="0.5" />
<line x1="368.00" y1="70.00" x2="368.00" y2="82.00" stroke="#ff5a5a" stroke-width="0.6" />
<line x1="362.00" y1="74.00" x2="374.00" y2="70.00" stroke="#ff5a5a" stroke-width="0.55" />
<line x1="362.00" y1="70.00" x2="374.00" y2="74.00" stroke="#ff5a5a" stroke-width="0.55" />
<line x1="363.00" y1="77.00" x2="375.00" y2="77.00" stroke="#ff7a7a" stroke-width="0.5" />
<line x1="380.30" y1="70.00" x2="380.30" y2="82.00" stroke="#ff5a5a" stroke-width="0.6" />
<line x1="374.30" y1="74.00" x2="386.30" y2="70.00" stroke="#ff5a5a" stroke-width="0.55" />
<line x1="374.30" y1="70.00" x2="386.30" y2="74.00" stroke="#ff5a5a" stroke-width="0.55" />
<line x1="375.30" y1="77.00" x2="387.30" y2="77.00" stroke="#ff7a7a" stroke-width="0.5" />
<line x1="392.60" y1="70.00" x2="392.60" y2="82.00" stroke="#ff5a5a" stroke-width="0.6" />
<line x1="386.60" y1="74.00" x2="398.60" y2="70.00" stroke="#ff5a5a" stroke-width="0.55" />
<line x1="386.60" y1="70.00" x2="398.60" y2="74.00" stroke="#ff5a5a" stroke-width="0.55" />
<line x1="387.60" y1="77.00" x2="399.60" y2="77.00" stroke="#ff7a7a" stroke-width="0.5" />
<line x1="404.90" y1="70.00" x2="404.90" y2="82.00" stroke="#ff5a5a" stroke-width="0.6" />
<line x1="398.90" y1="74.00" x2="410.90" y2="70.00" stroke="#ff5a5a" stroke-width="0.55" />
<line x1="398.90" y1="70.00" x2="410.90" y2="74.00" stroke="#ff5a5a" stroke-width="0.55" />
<line x1="399.90" y1="77.00" x2="411.90" y2="77.00" stroke="#ff7a7a" stroke-width="0.5" />
<line x1="417.20" y1="70.00" x2="417.20" y2="82.00" stroke="#ff5a5a" stroke-width="0.6" />
<line x1="411.20" y1="74.00" x2="423.20" y2="70.00" stroke="#ff5a5a" stroke-width="0.55" />
<line x1="411.20" y1="70.00" x2="423.20" y2="74.00" stroke="#ff5a5a" stroke-width="0.55" />
<line x1="412.20" y1="77.00" x2="424.20" y2="77.00" stroke="#ff7a7a" stroke-width="0.5" />
<line x1="429.50" y1="70.00" x2="429.50" y2="82.00" stroke="#ff5a5a" stroke-width="0.6" />
<line x1="423.50" y1="74.00" x2="435.50" y2="70.00" stroke="#ff5a5a" stroke-width="0.55" />
<line x1="423.50" y1="70.00" x2="435.50" y2="74.00" stroke="#ff5a5a" stroke-width="0.55" />
<line x1="424.50" y1="77.00" x2="436.50" y2="77.00" stroke="#ff7a7a" stroke-width="0.5" />
<line x1="441.80" y1="70.00" x2="441.80" y2="82.00" stroke="#ff5a5a" stroke-width="0.6" />
<line x1="435.80" y1="74.00" x2="447.80" y2="70.00" stroke="#ff5a5a" stroke-width="0.55" />
<line x1="435.80" y1="70.00" x2="447.80" y2="74.00" stroke="#ff5a5a" stroke-width="0.55" />
<line x1="436.80" y1="77.00" x2="448.80" y2="77.00" stroke="#ff7a7a" stroke-width="0.5" />
<line x1="454.10" y1="70.00" x2="454.10" y2="82.00" stroke="#ff5a5a" stroke-width="0.6" />
<line x1="448.10" y1="74.00" x2="460.10" y2="70.00" stroke="#ff5a5a" stroke-width="0.55" />
<line x1="448.10" y1="70.00" x2="460.10" y2="74.00" stroke="#ff5a5a" stroke-width="0.55" />
<line x1="449.10" y1="77.00" x2="461.10" y2="77.00" stroke="#ff7a7a" stroke-width="0.5" />
<line x1="466.40" y1="70.00" x2="466.40" y2="82.00" stroke="#ff5a5a" stroke-width="0.6" />
<line x1="460.40" y1="74.00" x2="472.40" y2="70.00" stroke="#ff5a5a" stroke-width="0.55" />
<line x1="460.40" y1="70.00" x2="472.40" y2="74.00" stroke="#ff5a5a" stroke-width="0.55" />
<line x1="461.40" y1="77.00" x2="473.40" y2="77.00" stroke="#ff7a7a" stroke-width="0.5" />
<line x1="478.70" y1="70.00" x2="478.70" y2="82.00" stroke="#ff5a5a" stroke-width="0.6" />
<line x1="472.70" y1="74.00" x2="484.70" y2="70.00" stroke="#ff5a5a" stroke-width="0.55" />
<line x1="472.70" y1="70.00" x2="484.70" y2="74.00" stroke="#ff5a5a" stroke-width="0.55" />
<line x1="473.70" y1="77.00" x2="485.70" y2="77.00" stroke="#ff7a7a" stroke-width="0.5" />
<line x1="368.00" y1="103.00" x2="375.00" y2="100.00" stroke="#ff5050" stroke-width="0.6" />
<line x1="377.00" y1="99.00" x2="384.00" y2="102.00" stroke="#ff5050" stroke-width="0.6" />
<line x1="388.00" y1="96.00" x2="386.00" y2="108.00" stroke="#ff5050" stroke-width="0.6" />
<line x1="386.00" y1="108.00" x2="382.00" y2="115.00" stroke="#ff5050" stroke-width="0.6" />
<line x1="392.00" y1="92.00" x2="397.00" y2="100.00" stroke="#ff5050" stroke-width="0.6" />
<line x1="404.00" y1="92.00" x2="401.00" y2="100.00" stroke="#ff5050" stroke-width="0.6" />
<line x1="407.00" y1="110.00" x2="400.00" y2="114.00" stroke="#ff5050" stroke-width="0.6" />
<line x1="407.00" y1="110.00" x2="414.00" y2="114.00" stroke="#ff5050" stroke-width="0.6" />
<line x1="410.00" y1="103.00" x2="410.00" y2="113.00" stroke="#ff5050" stroke-width="0.6" />
<line x1="420.00" y1="106.00" x2="430.00" y2="103.00" stroke="#ff5050" stroke-width="0.6" />
<line x1="420.00" y1="106.00" x2="427.00" y2="112.00" stroke="#ff5050" stroke-width="0.6" />
<line x1="414.00" y1="116.00" x2="414.00" y2="121.00" stroke="#ff5050" stroke-width="0.6" />
<line x1="428.00" y1="114.00" x2="432.00" y2="114.00" stroke="#ff5050" stroke-width="0.6" />
<line x1="446.00" y1="96.00" x2="446.00" y2="103.00" stroke="#ff5050" stroke-width="0.6" />
<line x1="446.00" y1="103.00" x2="466.00" y2="103.00" stroke="#ff5050" stroke-width="0.6" />
<line x1="466.00" y1="103.00" x2="466.00" y2="98.00" stroke="#ff5050" stroke-width="0.6" />
<line x1="449.00" y1="112.00" x2="456.00" y2="116.00" stroke="#ff5050" stroke-width="0.6" />
<line x1="456.00" y1="116.00" x2="463.00" y2="112.00" stroke="#ff5050" stroke-width="0.6" />
<line x1="432.00" y1="104.00" x2="438.00" y2="112.00" stroke="#ff5050" stroke-width="0.6" />
<line x1="396.00" y1="112.00" x2="390.00" y2="112.00" stroke="#ff5050" stroke-width="0.6" />
<line x1="403.00" y1="102.00" x2="408.00" y2="110.00" stroke="#a0a0a0" stroke-width="0.6" />
<line x1="410.00" y1="110.00" x2="418.00" y2="107.00" stroke="#a0a0a0" stroke-width="0.6" />
<line x1="392.00" y1="104.00" x2="388.00" y2="118.00" stroke="#a0a0a0" stroke-width="0.6" />
<rect x="364" y="62.0" width="103" height="7.2" fill="#5b7ab6"/>
<circle cx="368.00" cy="65.70" r="3.90" fill="url(#gB)"/>
<circle cx="376.00" cy="65.70" r="3.90" fill="url(#gB)"/>
<circle cx="383.00" cy="65.70" r="3.90" fill="url(#gLG)"/>
<circle cx="389.50" cy="65.70" r="3.90" fill="url(#gB)"/>
<circle cx="395.50" cy="65.70" r="3.90" fill="url(#gB)"/>
<circle cx="402.00" cy="65.70" r="3.90" fill="url(#gB)"/>
<circle cx="408.50" cy="65.70" r="3.90" fill="url(#gLG)"/>
<circle cx="415.00" cy="65.70" r="3.90" fill="url(#gB)"/>
<circle cx="421.00" cy="65.70" r="3.90" fill="url(#gB)"/>
<circle cx="428.00" cy="65.70" r="3.90" fill="url(#gB)"/>
<circle cx="434.50" cy="65.70" r="3.90" fill="url(#gB)"/>
<circle cx="441.50" cy="65.70" r="3.90" fill="url(#gB)"/>
<circle cx="448.50" cy="65.70" r="3.90" fill="url(#gLG)"/>
<circle cx="455.50" cy="65.70" r="3.90" fill="url(#gB)"/>
<circle cx="462.50" cy="65.70" r="3.90" fill="url(#gB)"/>
<path d="M363.0,64 L366.4,54.5 L370.0,54.5 L373.4,64 Z" fill="#d80c0c"/>
<line x1="367.90" y1="56.00" x2="367.90" y2="64.00" stroke="#600" stroke-width="1.3" />
<circle cx="366.20" cy="58.80" r="3.20" fill="url(#gR)"/>
<circle cx="370.40" cy="59.40" r="3.10" fill="url(#gR)"/>
<path d="M377.7,64 L381.1,54.5 L384.7,54.5 L388.1,64 Z" fill="#d80c0c"/>
<line x1="382.60" y1="56.00" x2="382.60" y2="64.00" stroke="#600" stroke-width="1.3" />
<circle cx="380.90" cy="58.80" r="3.20" fill="url(#gR)"/>
<circle cx="385.10" cy="59.40" r="3.10" fill="url(#gR)"/>
<path d="M388.5,64 L391.9,54.5 L395.5,54.5 L398.9,64 Z" fill="#d80c0c"/>
<line x1="393.40" y1="56.00" x2="393.40" y2="64.00" stroke="#600" stroke-width="1.3" />
<circle cx="391.70" cy="58.80" r="3.20" fill="url(#gR)"/>
<circle cx="395.90" cy="59.40" r="3.10" fill="url(#gR)"/>
<path d="M393.9,64 L397.3,54.5 L400.9,54.5 L404.3,64 Z" fill="#d80c0c"/>
<line x1="398.80" y1="56.00" x2="398.80" y2="64.00" stroke="#600" stroke-width="1.3" />
<circle cx="397.10" cy="58.80" r="3.20" fill="url(#gR)"/>
<circle cx="401.30" cy="59.40" r="3.10" fill="url(#gR)"/>
<path d="M404.8,64 L408.2,54.5 L411.8,54.5 L415.2,64 Z" fill="#d80c0c"/>
<line x1="409.70" y1="56.00" x2="409.70" y2="64.00" stroke="#600" stroke-width="1.3" />
<circle cx="408.00" cy="58.80" r="3.20" fill="url(#gR)"/>
<circle cx="412.20" cy="59.40" r="3.10" fill="url(#gR)"/>
<path d="M416.4,64 L419.8,54.5 L423.4,54.5 L426.8,64 Z" fill="#d80c0c"/>
<line x1="421.30" y1="56.00" x2="421.30" y2="64.00" stroke="#600" stroke-width="1.3" />
<circle cx="419.60" cy="58.80" r="3.20" fill="url(#gR)"/>
<circle cx="423.80" cy="59.40" r="3.10" fill="url(#gR)"/>
<path d="M431.1,64 L434.5,54.5 L438.1,54.5 L441.5,64 Z" fill="#d80c0c"/>
<line x1="436.00" y1="56.00" x2="436.00" y2="64.00" stroke="#600" stroke-width="1.3" />
<circle cx="434.30" cy="58.80" r="3.20" fill="url(#gR)"/>
<circle cx="438.50" cy="59.40" r="3.10" fill="url(#gR)"/>
<path d="M443.5,64 L446.9,54.5 L450.5,54.5 L453.9,64 Z" fill="#d80c0c"/>
<line x1="448.40" y1="56.00" x2="448.40" y2="64.00" stroke="#600" stroke-width="1.3" />
<circle cx="446.70" cy="58.80" r="3.20" fill="url(#gR)"/>
<circle cx="450.90" cy="59.40" r="3.10" fill="url(#gR)"/>
<path d="M457.4,64 L460.8,54.5 L464.4,54.5 L467.8,64 Z" fill="#d80c0c"/>
<line x1="462.30" y1="56.00" x2="462.30" y2="64.00" stroke="#600" stroke-width="1.3" />
<circle cx="460.60" cy="58.80" r="3.20" fill="url(#gR)"/>
<circle cx="464.80" cy="59.40" r="3.10" fill="url(#gR)"/>
<circle cx="368.2" cy="49.8" r="3.7" fill="url(#gW)" stroke="#999" stroke-width="0.3"/>
<circle cx="382.9" cy="49.8" r="3.7" fill="url(#gW)" stroke="#999" stroke-width="0.3"/>
<circle cx="393.7" cy="49.8" r="3.7" fill="url(#gW)" stroke="#999" stroke-width="0.3"/>
<circle cx="399.1" cy="49.8" r="3.7" fill="url(#gW)" stroke="#999" stroke-width="0.3"/>
<circle cx="410.0" cy="49.8" r="3.7" fill="url(#gW)" stroke="#999" stroke-width="0.3"/>
<circle cx="421.6" cy="49.8" r="3.7" fill="url(#gW)" stroke="#999" stroke-width="0.3"/>
<circle cx="436.3" cy="49.8" r="3.7" fill="url(#gW)" stroke="#999" stroke-width="0.3"/>
<circle cx="448.7" cy="49.8" r="3.7" fill="url(#gW)" stroke="#999" stroke-width="0.3"/>
<circle cx="462.6" cy="49.8" r="3.7" fill="url(#gW)" stroke="#999" stroke-width="0.3"/>
<line x1="411.20" y1="20.50" x2="410.70" y2="30.90" stroke="#888" stroke-width="2" />
<line x1="410.70" y1="30.90" x2="400.70" y2="36.30" stroke="#888" stroke-width="2" />
<line x1="410.70" y1="30.90" x2="420.00" y2="37.90" stroke="#888" stroke-width="2" />
<line x1="400.70" y1="36.30" x2="399.10" y2="43.30" stroke="#ccc" stroke-width="1.6" />
<line x1="420.00" y1="37.90" x2="421.60" y2="46.40" stroke="#ccc" stroke-width="1.6" />
<circle cx="399.10" cy="43.50" r="2.60" fill="url(#gW)"/>
<circle cx="421.60" cy="46.40" r="2.60" fill="url(#gW)"/>
<circle cx="410.70" cy="30.90" r="2.80" fill="url(#gG)"/>
<circle cx="411.20" cy="20.50" r="3.30" fill="url(#gR)"/>
<circle cx="400.70" cy="36.30" r="3.20" fill="url(#gR)"/>
<circle cx="420.00" cy="37.90" r="3.20" fill="url(#gR)"/>
</g>
<rect x="364.6" y="11.3" width="102" height="139.7" fill="none" stroke="#222" stroke-width="1.2"/>
<text x="279.50" y="181.10" font-size="12.4" text-anchor="start" fill="#000" textLength="63.5">NTL-*CO<tspan font-size="8.5" dy="2.5">3</tspan><tspan font-size="8.5" dy="-6.6">2-</tspan></text>
<text x="350.70" y="181.10" font-size="12.4" text-anchor="start" fill="#000" textLength="86.8">(ΔG = -2.72 eV)</text>
<text x="478.80" y="10.60" font-size="15" text-anchor="start" fill="#000" >c</text>
<rect x="510.0" y="13.3" width="173.0" height="135.6" fill="none" stroke="#404040" stroke-width="1.4"/>
<line x1="509.30" y1="148.90" x2="683.70" y2="148.90" stroke="#2a2a2a" stroke-width="1.8" />
<line x1="510.00" y1="12.60" x2="510.00" y2="149.60" stroke="#3a3a3a" stroke-width="1.8" />
<line x1="507.00" y1="23.95" x2="510.00" y2="23.95" stroke="#222" stroke-width="1" />
<text x="505.20" y="26.85" font-size="8.2" text-anchor="end" fill="#000" >1</text>
<line x1="507.00" y1="44.80" x2="510.00" y2="44.80" stroke="#222" stroke-width="1" />
<text x="505.20" y="47.70" font-size="8.2" text-anchor="end" fill="#000" >0</text>
<line x1="507.00" y1="65.65" x2="510.00" y2="65.65" stroke="#222" stroke-width="1" />
<text x="505.20" y="68.55" font-size="8.2" text-anchor="end" fill="#000" >-1</text>
<line x1="507.00" y1="86.50" x2="510.00" y2="86.50" stroke="#222" stroke-width="1" />
<text x="505.20" y="89.40" font-size="8.2" text-anchor="end" fill="#000" >-2</text>
<line x1="507.00" y1="107.35" x2="510.00" y2="107.35" stroke="#222" stroke-width="1" />
<text x="505.20" y="110.25" font-size="8.2" text-anchor="end" fill="#000" >-3</text>
<line x1="507.00" y1="128.20" x2="510.00" y2="128.20" stroke="#222" stroke-width="1" />
<text x="505.20" y="131.10" font-size="8.2" text-anchor="end" fill="#000" >-4</text>
<line x1="507.00" y1="149.05" x2="510.00" y2="149.05" stroke="#222" stroke-width="1" />
<text x="505.20" y="151.95" font-size="8.2" text-anchor="end" fill="#000" >-5</text>
<line x1="508.20" y1="34.38" x2="510.00" y2="34.38" stroke="#222" stroke-width="1" />
<line x1="508.20" y1="55.22" x2="510.00" y2="55.22" stroke="#222" stroke-width="1" />
<line x1="508.20" y1="76.08" x2="510.00" y2="76.08" stroke="#222" stroke-width="1" />
<line x1="508.20" y1="96.92" x2="510.00" y2="96.92" stroke="#222" stroke-width="1" />
<line x1="508.20" y1="117.78" x2="510.00" y2="117.78" stroke="#222" stroke-width="1" />
<line x1="508.20" y1="138.62" x2="510.00" y2="138.62" stroke="#222" stroke-width="1" />
<line x1="519.50" y1="148.90" x2="519.50" y2="146.30" stroke="#222" stroke-width="1" />
<line x1="538.90" y1="148.90" x2="538.90" y2="146.30" stroke="#222" stroke-width="1" />
<line x1="558.30" y1="148.90" x2="558.30" y2="146.30" stroke="#222" stroke-width="1" />
<line x1="577.70" y1="148.90" x2="577.70" y2="146.30" stroke="#222" stroke-width="1" />
<line x1="597.10" y1="148.90" x2="597.10" y2="146.30" stroke="#222" stroke-width="1" />
<line x1="616.50" y1="148.90" x2="616.50" y2="146.30" stroke="#222" stroke-width="1" />
<line x1="635.90" y1="148.90" x2="635.90" y2="146.30" stroke="#222" stroke-width="1" />
<line x1="655.30" y1="148.90" x2="655.30" y2="146.30" stroke="#222" stroke-width="1" />
<line x1="674.70" y1="148.90" x2="674.70" y2="146.30" stroke="#222" stroke-width="1" />
<line x1="512.00" y1="44.70" x2="527.00" y2="44.70" stroke="#111" stroke-width="1.6" />
<text x="518.70" y="42.10" font-size="7.3" text-anchor="middle" fill="#000" >0</text>
<line x1="527.00" y1="44.70" x2="545.30" y2="102.60" stroke="#111" stroke-width="1.1" stroke-dasharray="2.5,1.6"/>
<line x1="545.30" y1="102.60" x2="561.30" y2="102.60" stroke="#111" stroke-width="1.6" />
<text x="553.50" y="100.00" font-size="7.3" text-anchor="middle" fill="#000" >-2.72</text>
<line x1="561.30" y1="102.60" x2="577.00" y2="145.50" stroke="#111" stroke-width="1.1" stroke-dasharray="2.5,1.6"/>
<line x1="577.00" y1="145.50" x2="592.50" y2="145.50" stroke="#111" stroke-width="1.6" />
<text x="584.50" y="142.90" font-size="7.3" text-anchor="middle" fill="#000" >-4.91</text>
<line x1="592.50" y1="145.50" x2="600.80" y2="94.20" stroke="#111" stroke-width="1.1" stroke-dasharray="2.5,1.6"/>
<line x1="600.80" y1="94.20" x2="616.70" y2="94.20" stroke="#111" stroke-width="1.6" />
<text x="609.20" y="90.10" font-size="7.3" text-anchor="middle" fill="#000" >-2.39</text>
<line x1="616.70" y1="94.20" x2="630.80" y2="110.80" stroke="#111" stroke-width="1.1" stroke-dasharray="2.5,1.6"/>
<line x1="630.80" y1="110.80" x2="646.70" y2="110.80" stroke="#111" stroke-width="1.6" />
<text x="637.20" y="107.50" font-size="7.3" text-anchor="middle" fill="#000" >-3.19</text>
<line x1="646.70" y1="110.80" x2="657.80" y2="101.70" stroke="#111" stroke-width="1.1" stroke-dasharray="2.5,1.6"/>
<line x1="657.80" y1="101.70" x2="673.00" y2="101.70" stroke="#111" stroke-width="1.6" />
<text x="666.50" y="99.10" font-size="7.3" text-anchor="middle" fill="#000" >-2.95</text>
<text transform="translate(533.5,155.3) rotate(-40)" font-size="8.8" text-anchor="end">CO<tspan font-size="6.3" dy="1.9">3</tspan><tspan font-size="6.3" dx="-3.4" dy="-5.9">2-</tspan></text>
<text transform="translate(560.5,155.3) rotate(-40)" font-size="8.8" text-anchor="end">*CO<tspan font-size="6.3" dy="1.9">3</tspan><tspan font-size="6.3" dx="-3.4" dy="-5.9">2-</tspan></text>
<text transform="translate(591.5,155.8) rotate(-40)" font-size="8.8" text-anchor="end">*CO<tspan font-size="6.3" dy="1.9">3</tspan><tspan dy="-1.9">H</tspan></text>
<text transform="translate(619.8,156.0) rotate(-40)" font-size="8.8" text-anchor="end">*CO<tspan font-size="6.3" dy="1.9">2</tspan></text>
<text transform="translate(650.8,155.6) rotate(-40)" font-size="8.8" text-anchor="end">*COOH</text>
<text transform="translate(675.2,156.2) rotate(-40)" font-size="8.8" text-anchor="end">*CO</text>
<text x="528.70" y="181.80" font-size="13" text-anchor="start" fill="#000" >Reaction Coordinate</text>
<line x1="542.10" y1="80.50" x2="564.90" y2="80.50" stroke="#5f7fba" stroke-width="2.0" />
<path d="M542.7,79.7 L544.3,74.9 L548.3,74.9 L549.9,79.7 Z" fill="#e00c0c"/>
<circle cx="545.22" cy="77.20" r="2.23" fill="url(#gR)"/>
<circle cx="547.67" cy="77.50" r="1.98" fill="url(#gR)"/>
<line x1="546.30" y1="75.30" x2="546.30" y2="79.00" stroke="#700" stroke-width="0.7" />
<circle cx="546.3" cy="73.3" r="2.16" fill="url(#gW)" stroke="#888" stroke-width="0.35"/>
<path d="M549.9,79.7 L551.5,74.9 L555.5,74.9 L557.1,79.7 Z" fill="#e00c0c"/>
<circle cx="552.42" cy="77.20" r="2.23" fill="url(#gR)"/>
<circle cx="554.87" cy="77.50" r="1.98" fill="url(#gR)"/>
<line x1="553.50" y1="75.30" x2="553.50" y2="79.00" stroke="#700" stroke-width="0.7" />
<circle cx="553.5" cy="73.3" r="2.16" fill="url(#gW)" stroke="#888" stroke-width="0.35"/>
<path d="M557.1,79.7 L558.7,74.9 L562.7,74.9 L564.3,79.7 Z" fill="#e00c0c"/>
<circle cx="559.62" cy="77.20" r="2.23" fill="url(#gR)"/>
<circle cx="562.07" cy="77.50" r="1.98" fill="url(#gR)"/>
<line x1="560.70" y1="75.30" x2="560.70" y2="79.00" stroke="#700" stroke-width="0.7" />
<circle cx="560.7" cy="73.3" r="2.16" fill="url(#gW)" stroke="#888" stroke-width="0.35"/>
<line x1="554.20" y1="56.40" x2="554.20" y2="63.50" stroke="#999" stroke-width="1.2" />
<line x1="554.20" y1="63.50" x2="548.20" y2="67.70" stroke="#999" stroke-width="1.2" />
<line x1="554.20" y1="63.50" x2="559.60" y2="67.70" stroke="#999" stroke-width="1.2" />
<line x1="548.20" y1="67.70" x2="545.00" y2="73.00" stroke="#999" stroke-width="1.2" />
<line x1="559.60" y1="67.70" x2="561.30" y2="73.00" stroke="#999" stroke-width="1.2" />
<circle cx="554.20" cy="63.50" r="2.00" fill="url(#gG)"/>
<circle cx="554.20" cy="56.40" r="2.10" fill="url(#gR)"/>
<circle cx="548.20" cy="67.70" r="2.00" fill="url(#gR)"/>
<circle cx="559.60" cy="67.70" r="2.00" fill="url(#gR)"/>
<line x1="571.20" y1="124.30" x2="592.80" y2="124.30" stroke="#5f7fba" stroke-width="2.0" />
<path d="M571.8,123.5 L573.3,118.7 L577.1,118.7 L578.6,123.5 Z" fill="#e00c0c"/>
<circle cx="574.18" cy="121.00" r="2.11" fill="url(#gR)"/>
<circle cx="576.49" cy="121.30" r="1.87" fill="url(#gR)"/>
<line x1="575.20" y1="119.10" x2="575.20" y2="122.80" stroke="#700" stroke-width="0.7" />
<circle cx="575.2" cy="117.1" r="2.04" fill="url(#gW)" stroke="#888" stroke-width="0.35"/>
<path d="M578.6,123.5 L580.1,118.7 L583.9,118.7 L585.4,123.5 Z" fill="#e00c0c"/>
<circle cx="580.98" cy="121.00" r="2.11" fill="url(#gR)"/>
<circle cx="583.29" cy="121.30" r="1.87" fill="url(#gR)"/>
<line x1="582.00" y1="119.10" x2="582.00" y2="122.80" stroke="#700" stroke-width="0.7" />
<circle cx="582.0" cy="117.1" r="2.04" fill="url(#gW)" stroke="#888" stroke-width="0.35"/>
<path d="M585.4,123.5 L586.9,118.7 L590.7,118.7 L592.2,123.5 Z" fill="#e00c0c"/>
<circle cx="587.78" cy="121.00" r="2.11" fill="url(#gR)"/>
<circle cx="590.09" cy="121.30" r="1.87" fill="url(#gR)"/>
<line x1="588.80" y1="119.10" x2="588.80" y2="122.80" stroke="#700" stroke-width="0.7" />
<circle cx="588.8" cy="117.1" r="2.04" fill="url(#gW)" stroke="#888" stroke-width="0.35"/>
<line x1="585.40" y1="99.60" x2="581.80" y2="102.50" stroke="#999" stroke-width="1.2" />
<line x1="581.80" y1="102.50" x2="581.80" y2="107.40" stroke="#999" stroke-width="1.2" />
<line x1="581.80" y1="107.40" x2="577.20" y2="111.00" stroke="#999" stroke-width="1.2" />
<line x1="581.80" y1="107.40" x2="587.50" y2="111.00" stroke="#999" stroke-width="1.2" />
<line x1="577.20" y1="111.00" x2="575.00" y2="116.00" stroke="#999" stroke-width="1.2" />
<line x1="587.50" y1="111.00" x2="589.50" y2="116.00" stroke="#999" stroke-width="1.2" />
<circle cx="585.40" cy="99.60" r="1.70" fill="url(#gW)"/>
<circle cx="581.80" cy="107.40" r="2.00" fill="url(#gG)"/>
<circle cx="581.80" cy="102.50" r="2.00" fill="url(#gR)"/>
<circle cx="577.20" cy="111.00" r="2.00" fill="url(#gR)"/>
<circle cx="587.50" cy="111.00" r="2.00" fill="url(#gR)"/>
<line x1="595.30" y1="76.80" x2="618.70" y2="76.80" stroke="#5f7fba" stroke-width="2.0" />
<path d="M595.9,76.0 L597.6,71.2 L601.6,71.2 L603.3,76.0 Z" fill="#e00c0c"/>
<circle cx="598.49" cy="73.50" r="2.29" fill="url(#gR)"/>
<circle cx="601.01" cy="73.80" r="2.04" fill="url(#gR)"/>
<line x1="599.60" y1="71.60" x2="599.60" y2="75.30" stroke="#700" stroke-width="0.7" />
<circle cx="599.6" cy="69.6" r="2.22" fill="url(#gW)" stroke="#888" stroke-width="0.35"/>
<path d="M603.3,76.0 L605.0,71.2 L609.0,71.2 L610.7,76.0 Z" fill="#e00c0c"/>
<circle cx="605.89" cy="73.50" r="2.29" fill="url(#gR)"/>
<circle cx="608.41" cy="73.80" r="2.04" fill="url(#gR)"/>
<line x1="607.00" y1="71.60" x2="607.00" y2="75.30" stroke="#700" stroke-width="0.7" />
<circle cx="607.0" cy="69.6" r="2.22" fill="url(#gW)" stroke="#888" stroke-width="0.35"/>
<path d="M610.7,76.0 L612.4,71.2 L616.4,71.2 L618.1,76.0 Z" fill="#e00c0c"/>
<circle cx="613.29" cy="73.50" r="2.29" fill="url(#gR)"/>
<circle cx="615.81" cy="73.80" r="2.04" fill="url(#gR)"/>
<line x1="614.40" y1="71.60" x2="614.40" y2="75.30" stroke="#700" stroke-width="0.7" />
<circle cx="614.4" cy="69.6" r="2.22" fill="url(#gW)" stroke="#888" stroke-width="0.35"/>
<line x1="607.20" y1="56.00" x2="601.50" y2="60.00" stroke="#999" stroke-width="1.2" />
<line x1="607.20" y1="56.00" x2="613.00" y2="60.00" stroke="#999" stroke-width="1.2" />
<line x1="601.50" y1="60.00" x2="599.50" y2="66.00" stroke="#999" stroke-width="1.2" />
<line x1="613.00" y1="60.00" x2="614.50" y2="66.00" stroke="#999" stroke-width="1.2" />
<circle cx="607.20" cy="56.00" r="2.20" fill="url(#gG)"/>
<circle cx="601.50" cy="60.50" r="2.00" fill="url(#gR)"/>
<circle cx="613.00" cy="60.50" r="2.00" fill="url(#gR)"/>
<line x1="626.90" y1="92.50" x2="649.10" y2="92.50" stroke="#5f7fba" stroke-width="2.0" />
<path d="M627.5,91.7 L629.1,86.9 L632.9,86.9 L634.5,91.7 Z" fill="#e00c0c"/>
<circle cx="629.95" cy="89.20" r="2.17" fill="url(#gR)"/>
<circle cx="632.33" cy="89.50" r="1.93" fill="url(#gR)"/>
<line x1="631.00" y1="87.30" x2="631.00" y2="91.00" stroke="#700" stroke-width="0.7" />
<circle cx="631.0" cy="85.3" r="2.10" fill="url(#gW)" stroke="#888" stroke-width="0.35"/>
<path d="M634.5,91.7 L636.1,86.9 L639.9,86.9 L641.5,91.7 Z" fill="#e00c0c"/>
<circle cx="636.95" cy="89.20" r="2.17" fill="url(#gR)"/>
<circle cx="639.33" cy="89.50" r="1.93" fill="url(#gR)"/>
<line x1="638.00" y1="87.30" x2="638.00" y2="91.00" stroke="#700" stroke-width="0.7" />
<circle cx="638.0" cy="85.3" r="2.10" fill="url(#gW)" stroke="#888" stroke-width="0.35"/>
<path d="M641.5,91.7 L643.1,86.9 L646.9,86.9 L648.5,91.7 Z" fill="#e00c0c"/>
<circle cx="643.95" cy="89.20" r="2.17" fill="url(#gR)"/>
<circle cx="646.33" cy="89.50" r="1.93" fill="url(#gR)"/>
<line x1="645.00" y1="87.30" x2="645.00" y2="91.00" stroke="#700" stroke-width="0.7" />
<circle cx="645.0" cy="85.3" r="2.10" fill="url(#gW)" stroke="#888" stroke-width="0.35"/>
<line x1="632.50" y1="72.60" x2="635.00" y2="76.00" stroke="#999" stroke-width="1.2" />
<line x1="635.00" y1="76.00" x2="640.50" y2="73.50" stroke="#999" stroke-width="1.2" />
<line x1="640.50" y1="73.50" x2="643.00" y2="79.00" stroke="#999" stroke-width="1.2" />
<line x1="643.00" y1="79.00" x2="640.00" y2="84.00" stroke="#999" stroke-width="1.2" />
<circle cx="632.50" cy="72.60" r="1.80" fill="url(#gW)"/>
<circle cx="635.00" cy="76.20" r="2.00" fill="url(#gR)"/>
<circle cx="640.50" cy="73.60" r="2.10" fill="url(#gG)"/>
<circle cx="643.00" cy="79.00" r="2.00" fill="url(#gR)"/>
<line x1="660.10" y1="82.80" x2="677.50" y2="82.80" stroke="#5f7fba" stroke-width="2.0" />
<path d="M660.7,82.0 L661.9,77.2 L664.9,77.2 L666.1,82.0 Z" fill="#e00c0c"/>
<circle cx="662.59" cy="79.50" r="1.67" fill="url(#gR)"/>
<circle cx="664.43" cy="79.80" r="1.49" fill="url(#gR)"/>
<line x1="663.40" y1="77.60" x2="663.40" y2="81.30" stroke="#700" stroke-width="0.7" />
<circle cx="663.4" cy="75.6" r="1.62" fill="url(#gW)" stroke="#888" stroke-width="0.35"/>
<path d="M666.1,82.0 L667.3,77.2 L670.3,77.2 L671.5,82.0 Z" fill="#e00c0c"/>
<circle cx="667.99" cy="79.50" r="1.67" fill="url(#gR)"/>
<circle cx="669.83" cy="79.80" r="1.49" fill="url(#gR)"/>
<line x1="668.80" y1="77.60" x2="668.80" y2="81.30" stroke="#700" stroke-width="0.7" />
<circle cx="668.8" cy="75.6" r="1.62" fill="url(#gW)" stroke="#888" stroke-width="0.35"/>
<path d="M671.5,82.0 L672.7,77.2 L675.7,77.2 L676.9,82.0 Z" fill="#e00c0c"/>
<circle cx="673.39" cy="79.50" r="1.67" fill="url(#gR)"/>
<circle cx="675.23" cy="79.80" r="1.49" fill="url(#gR)"/>
<line x1="674.20" y1="77.60" x2="674.20" y2="81.30" stroke="#700" stroke-width="0.7" />
<circle cx="674.2" cy="75.6" r="1.62" fill="url(#gW)" stroke="#888" stroke-width="0.35"/>
<circle cx="665.50" cy="68.20" r="1.60" fill="url(#gG)"/>
<circle cx="668.50" cy="69.50" r="1.80" fill="url(#gR)"/>
<text transform="translate(492.3,136.6) rotate(-90)" font-size="13.3">Free energy (eV)</text>
<text x="1.80" y="205.60" font-size="15" text-anchor="start" fill="#000" >d</text>
<rect x="36.5" y="207.6" width="646.9" height="134.4" fill="none" stroke="#111" stroke-width="1.5"/>
<line x1="32.50" y1="221.20" x2="36.50" y2="221.20" stroke="#222" stroke-width="1.2" />
<text x="27.70" y="224.70" font-size="10" text-anchor="end" fill="#000" >1</text>
<line x1="32.50" y1="248.10" x2="36.50" y2="248.10" stroke="#222" stroke-width="1.2" />
<text x="27.70" y="251.60" font-size="10" text-anchor="end" fill="#000" >0</text>
<line x1="32.50" y1="275.00" x2="36.50" y2="275.00" stroke="#222" stroke-width="1.2" />
<text x="27.70" y="278.50" font-size="10" text-anchor="end" fill="#000" >-1</text>
<line x1="32.50" y1="301.90" x2="36.50" y2="301.90" stroke="#222" stroke-width="1.2" />
<text x="27.70" y="305.40" font-size="10" text-anchor="end" fill="#000" >-2</text>
<line x1="32.50" y1="328.80" x2="36.50" y2="328.80" stroke="#222" stroke-width="1.2" />
<text x="27.70" y="332.30" font-size="10" text-anchor="end" fill="#000" >-3</text>
<line x1="34.70" y1="234.65" x2="36.50" y2="234.65" stroke="#222" stroke-width="1" />
<line x1="34.70" y1="261.55" x2="36.50" y2="261.55" stroke="#222" stroke-width="1" />
<line x1="34.70" y1="288.45" x2="36.50" y2="288.45" stroke="#222" stroke-width="1" />
<line x1="34.70" y1="315.35" x2="36.50" y2="315.35" stroke="#222" stroke-width="1" />
<text x="2.00" y="0.00" font-size="1" text-anchor="start" fill="#000" ></text>
<text transform="translate(13.0,332.0) rotate(-90)" font-size="14.4">Free energy (eV)</text>
<text x="276.10" y="381.70" font-size="14.2" text-anchor="start" fill="#000" >Reaction Coordinate</text>
<text x="37.50" y="360.30" font-size="10.3" text-anchor="start" fill="#000" >CO<tspan font-size="7" dy="2.2">2</tspan></text>
<text x="67.90" y="360.30" font-size="10.3" text-anchor="start" fill="#000" >*COOH</text>
<text x="110.80" y="360.30" font-size="10.3" text-anchor="start" fill="#000" >*HCOOH</text>
<text x="160.20" y="360.30" font-size="10.3" text-anchor="start" fill="#000" >HCOOH</text>
<text x="204.70" y="360.30" font-size="10.3" text-anchor="start" fill="#000" >*CO</text>
<text x="237.40" y="360.30" font-size="10.3" text-anchor="start" fill="#000" >CO</text>
<text x="267.40" y="360.30" font-size="10.3" text-anchor="start" fill="#000" >*CHO</text>
<text x="303.80" y="360.30" font-size="10.3" text-anchor="start" fill="#000" >*CH<tspan font-size="7" dy="2.2">2</tspan><tspan dy="-2.2">O</tspan></text>
<text x="340.90" y="360.30" font-size="10.3" text-anchor="start" fill="#000" >HCHO</text>
<text x="374.00" y="360.30" font-size="10.3" text-anchor="start" fill="#000" >*CH<tspan font-size="7" dy="2.2">2</tspan><tspan dy="-2.2">OH</tspan></text>
<text x="417.80" y="360.30" font-size="10.3" text-anchor="start" fill="#000" >*CH<tspan font-size="7" dy="2.2">3</tspan><tspan dy="-2.2">OH</tspan></text>
<text x="467.00" y="360.30" font-size="10.3" text-anchor="start" fill="#000" >CH<tspan font-size="7" dy="2.2">3</tspan><tspan dy="-2.2">OH</tspan></text>
<text x="514.70" y="360.30" font-size="10.3" text-anchor="start" fill="#000" >*CH<tspan font-size="7" dy="2.2">2</tspan></text>
<text x="558.10" y="360.30" font-size="10.3" text-anchor="start" fill="#000" >*CH<tspan font-size="7" dy="2.2">3</tspan></text>
<text x="608.40" y="360.30" font-size="10.3" text-anchor="start" fill="#000" >*CH<tspan font-size="7" dy="2.2">4</tspan></text>
<text x="657.00" y="360.30" font-size="10.3" text-anchor="start" fill="#000" >CH<tspan font-size="7" dy="2.2">4</tspan></text>
<rect x="77.1" y="209.4" width="31.0" height="31.2" fill="#fdfdfd"/>
<g clip-path="url(#cf0)"><use href="#hcs2" transform="translate(77.10,209.40) scale(0.861,0.867)"/>
<circle cx="88.1" cy="220.5" r="1.8" fill="url(#gLG)"/><circle cx="91.6" cy="223.5" r="1.9" fill="url(#gG)"/><circle cx="93.6" cy="221.0" r="1.9" fill="url(#gR)"/>
</g>
<rect x="77.1" y="209.4" width="31.0" height="31.2" fill="none" stroke="#2aa8e8" stroke-width="1.4"/>
<rect x="119.2" y="220.1" width="37.5" height="36.5" fill="#fdfdfd"/>
<g clip-path="url(#cf1)"><use href="#hcs" transform="translate(113.68,220.10) scale(1.042,1.014)"/>
<circle cx="132.9" cy="233.4" r="1.8" fill="url(#gLG)"/><circle cx="136.4" cy="236.4" r="1.9" fill="url(#gG)"/><circle cx="138.4" cy="233.9" r="1.9" fill="url(#gR)"/>
</g>
<rect x="119.2" y="220.1" width="37.5" height="36.5" fill="none" stroke="#f02020" stroke-width="1.4"/>
<rect x="72.3" y="296.6" width="33.6" height="36.0" fill="#fdfdfd"/>
<g clip-path="url(#cf2)"><use href="#hcs" transform="translate(70.81,296.60) scale(0.933,1.000)"/>
<circle cx="84.4" cy="309.7" r="1.8" fill="url(#gLG)"/><circle cx="87.9" cy="312.7" r="1.9" fill="url(#gG)"/><circle cx="89.9" cy="310.2" r="1.9" fill="url(#gR)"/>
</g>
<rect x="72.3" y="296.6" width="33.6" height="36.0" fill="none" stroke="#35b060" stroke-width="1.4"/>
<rect x="197.1" y="290.2" width="35.1" height="33.2" fill="#fdfdfd"/>
<g clip-path="url(#cf3)"><use href="#hcs" transform="translate(190.37,290.20) scale(0.975,0.922)"/>
<circle cx="209.8" cy="302.1" r="1.8" fill="url(#gLG)"/><circle cx="213.3" cy="305.1" r="1.9" fill="url(#gG)"/><circle cx="215.3" cy="302.6" r="1.9" fill="url(#gR)"/>
</g>
<rect x="197.1" y="290.2" width="35.1" height="33.2" fill="none" stroke="#35b060" stroke-width="1.4"/>
<rect x="266.5" y="283.2" width="35.0" height="33.2" fill="#fdfdfd"/>
<g clip-path="url(#cf4)"><use href="#hcs" transform="translate(263.39,283.20) scale(0.972,0.922)"/>
<circle cx="279.2" cy="295.1" r="1.8" fill="url(#gLG)"/><circle cx="282.7" cy="298.1" r="1.9" fill="url(#gG)"/><circle cx="284.7" cy="295.6" r="1.9" fill="url(#gR)"/>
</g>
<rect x="266.5" y="283.2" width="35.0" height="33.2" fill="none" stroke="#35b060" stroke-width="1.4"/>
<rect x="305.9" y="297.2" width="35.0" height="35.0" fill="#fdfdfd"/>
<g clip-path="url(#cf5)"><use href="#hcs" transform="translate(297.64,297.20) scale(0.972,0.972)"/>
<circle cx="318.6" cy="309.9" r="1.8" fill="url(#gLG)"/><circle cx="322.1" cy="312.9" r="1.9" fill="url(#gG)"/><circle cx="324.1" cy="310.4" r="1.9" fill="url(#gR)"/>
</g>
<rect x="305.9" y="297.2" width="35.0" height="35.0" fill="none" stroke="#35b060" stroke-width="1.4"/>
<rect x="370.5" y="303.3" width="35.4" height="33.6" fill="#fdfdfd"/>
<g clip-path="url(#cf6)"><use href="#hcs" transform="translate(365.78,303.30) scale(0.983,0.933)"/>
<circle cx="383.4" cy="315.4" r="1.8" fill="url(#gLG)"/><circle cx="386.9" cy="318.4" r="1.9" fill="url(#gG)"/><circle cx="388.9" cy="315.9" r="1.9" fill="url(#gR)"/>
</g>
<rect x="370.5" y="303.3" width="35.4" height="33.6" fill="none" stroke="#35b060" stroke-width="1.4"/>
<rect x="416.9" y="308.9" width="33.8" height="32.8" fill="#fdfdfd"/>
<g clip-path="url(#cf7)"><use href="#hcs" transform="translate(415.87,308.90) scale(0.939,0.911)"/>
<circle cx="429.1" cy="320.7" r="1.8" fill="url(#gLG)"/><circle cx="432.6" cy="323.7" r="1.9" fill="url(#gG)"/><circle cx="434.6" cy="321.2" r="1.9" fill="url(#gR)"/>
</g>
<rect x="416.9" y="308.9" width="33.8" height="32.8" fill="none" stroke="#35b060" stroke-width="1.4"/>
<rect x="501.5" y="265.3" width="35.1" height="33.0" fill="#fdfdfd"/>
<g clip-path="url(#cf8)"><use href="#hcs" transform="translate(495.26,265.30) scale(0.975,0.917)"/>
<circle cx="514.2" cy="277.2" r="1.8" fill="url(#gLG)"/><circle cx="517.7" cy="280.2" r="1.9" fill="url(#gG)"/><circle cx="519.7" cy="277.7" r="1.9" fill="url(#gR)"/>
</g>
<rect x="501.5" y="265.3" width="35.1" height="33.0" fill="none" stroke="#ff6a28" stroke-width="1.4"/>
<rect x="552.9" y="256.9" width="33.1" height="31.6" fill="#fdfdfd"/>
<g clip-path="url(#cf9)"><use href="#hcs" transform="translate(550.42,256.90) scale(0.919,0.878)"/>
<circle cx="564.8" cy="268.2" r="1.8" fill="url(#gLG)"/><circle cx="568.3" cy="271.2" r="1.9" fill="url(#gG)"/><circle cx="570.3" cy="268.7" r="1.9" fill="url(#gR)"/>
</g>
<rect x="552.9" y="256.9" width="33.1" height="31.6" fill="none" stroke="#ff6a28" stroke-width="1.4"/>
<rect x="597.0" y="271.3" width="35.8" height="34.1" fill="#fdfdfd"/>
<g clip-path="url(#cf10)"><use href="#hcs" transform="translate(589.04,271.30) scale(0.994,0.947)"/>
<circle cx="610.0" cy="283.6" r="1.8" fill="url(#gLG)"/><circle cx="613.5" cy="286.6" r="1.9" fill="url(#gG)"/><circle cx="615.5" cy="284.1" r="1.9" fill="url(#gR)"/>
</g>
<rect x="597.0" y="271.3" width="35.8" height="34.1" fill="none" stroke="#ff6a28" stroke-width="1.4"/>
<line x1="37.70" y1="248.40" x2="65.70" y2="248.40" stroke="#17a24a" stroke-width="2.0" />
<text x="53.50" y="245.70" font-size="10.2" text-anchor="middle" fill="#000" >0</text>
<line x1="79.70" y1="253.70" x2="106.90" y2="253.70" stroke="#22a4ec" stroke-width="2.0" />
<text x="92.50" y="250.60" font-size="10.2" text-anchor="middle" fill="#000" >-0.21</text>
<line x1="75.80" y1="293.40" x2="102.90" y2="293.40" stroke="#17a24a" stroke-width="2.0" />
<text x="88.50" y="291.65" font-size="10.2" text-anchor="middle" fill="#000" >-1.59</text>
<line x1="122.70" y1="273.60" x2="151.50" y2="273.60" stroke="#f21a1a" stroke-width="2.0" />
<text x="138.60" y="271.90" font-size="10.2" text-anchor="middle" fill="#000" >-0.97</text>
<line x1="167.90" y1="250.50" x2="197.10" y2="250.50" stroke="#f21a1a" stroke-width="2.0" />
<text x="183.20" y="247.85" font-size="10.2" text-anchor="middle" fill="#000" >0.00</text>
<line x1="199.40" y1="283.70" x2="230.00" y2="283.70" stroke="#17a24a" stroke-width="2.0" />
<text x="211.40" y="281.40" font-size="10.2" text-anchor="middle" fill="#000" >-1.29</text>
<line x1="237.10" y1="229.80" x2="269.00" y2="229.80" stroke="#f21a1a" stroke-width="2.0" />
<text x="253.10" y="227.40" font-size="10.2" text-anchor="middle" fill="#000" >0.73</text>
<line x1="267.00" y1="274.50" x2="300.60" y2="274.50" stroke="#17a24a" stroke-width="2.0" />
<text x="284.80" y="271.10" font-size="10.2" text-anchor="middle" fill="#000" >-0.98</text>
<line x1="307.30" y1="292.50" x2="337.10" y2="292.50" stroke="#17a24a" stroke-width="2.0" />
<text x="322.00" y="289.30" font-size="10.2" text-anchor="middle" fill="#000" >-1.66</text>
<line x1="349.00" y1="243.80" x2="380.70" y2="243.80" stroke="#f21a1a" stroke-width="2.0" />
<text x="364.30" y="242.45" font-size="10.2" text-anchor="middle" fill="#000" >0.15</text>
<line x1="374.00" y1="297.80" x2="407.00" y2="297.80" stroke="#17a24a" stroke-width="2.0" />
<text x="389.40" y="295.95" font-size="10.2" text-anchor="middle" fill="#000" >-1.85</text>
<line x1="413.40" y1="307.50" x2="451.10" y2="307.50" stroke="#17a24a" stroke-width="2.0" />
<text x="436.00" y="303.35" font-size="10.2" text-anchor="middle" fill="#000" >-2.20</text>
<line x1="461.40" y1="280.10" x2="498.90" y2="280.10" stroke="#17a24a" stroke-width="2.0" />
<text x="481.60" y="276.65" font-size="10.2" text-anchor="middle" fill="#000" >-1.17</text>
<line x1="501.20" y1="255.50" x2="538.80" y2="255.50" stroke="#f21a1a" stroke-width="2.0" />
<text x="522.60" y="251.25" font-size="10.2" text-anchor="middle" fill="#000" >-0.26</text>
<line x1="548.50" y1="310.70" x2="588.10" y2="310.70" stroke="#f21a1a" stroke-width="2.0" />
<text x="571.00" y="306.90" font-size="10.2" text-anchor="middle" fill="#000" >-2.32</text>
<line x1="597.40" y1="318.00" x2="634.70" y2="318.00" stroke="#f21a1a" stroke-width="2.0" />
<text x="615.20" y="315.50" font-size="10.2" text-anchor="middle" fill="#000" >-2.59</text>
<line x1="647.00" y1="313.80" x2="683.00" y2="313.80" stroke="#f21a1a" stroke-width="2.0" />
<text x="666.00" y="310.20" font-size="10.2" text-anchor="middle" fill="#000" >-2.43</text>
<line x1="65.7" y1="248.4" x2="79.7" y2="253.7" stroke="#22a4ec" stroke-width="1.8" stroke-dasharray="1.6,2.2"/>
<line x1="65.7" y1="248.4" x2="75.8" y2="293.4" stroke="#17a24a" stroke-width="1.7" stroke-dasharray="1.6,2.2"/>
<line x1="102.9" y1="293.4" x2="122.7" y2="273.6" stroke="#f21a1a" stroke-width="2.4" stroke-dasharray="2,2.2"/>
<line x1="151.5" y1="273.6" x2="167.9" y2="250.5" stroke="#f21a1a" stroke-width="2.4" stroke-dasharray="2,2.2"/>
<line x1="102.9" y1="293.4" x2="199.4" y2="283.7" stroke="#17a24a" stroke-width="1.7" stroke-dasharray="1.6,2.2"/>
<line x1="230.0" y1="283.7" x2="237.1" y2="229.8" stroke="#f21a1a" stroke-width="1.5" stroke-dasharray="1.6,2.2"/>
<line x1="230.0" y1="283.7" x2="267.0" y2="274.5" stroke="#17a24a" stroke-width="1.7" stroke-dasharray="1.6,2.2"/>
<line x1="300.6" y1="274.5" x2="307.3" y2="292.5" stroke="#17a24a" stroke-width="1.6" stroke-dasharray="5,2,1.5,2"/>
<line x1="337.1" y1="292.5" x2="349.0" y2="243.8" stroke="#f21a1a" stroke-width="1.5" stroke-dasharray="1.6,2.2"/>
<line x1="337.1" y1="292.5" x2="374.0" y2="297.8" stroke="#17a24a" stroke-width="1.6" stroke-dasharray="5,2,1.5,2"/>
<line x1="407.0" y1="297.8" x2="501.2" y2="255.5" stroke="#f21a1a" stroke-width="1.7" stroke-dasharray="1.6,2.2"/>
<line x1="407.0" y1="297.8" x2="413.4" y2="307.5" stroke="#17a24a" stroke-width="1.6" stroke-dasharray="5,2,1.5,2"/>
<line x1="451.1" y1="307.5" x2="461.4" y2="280.1" stroke="#17a24a" stroke-width="1.6" stroke-dasharray="5,2,1.5,2"/>
<line x1="538.8" y1="255.5" x2="548.5" y2="310.7" stroke="#f21a1a" stroke-width="1.5" stroke-dasharray="1.6,2.2"/>
<line x1="588.1" y1="310.7" x2="597.4" y2="318.0" stroke="#f21a1a" stroke-width="1.7" stroke-dasharray="1.6,2.2"/>
<line x1="634.7" y1="318.0" x2="647.0" y2="313.8" stroke="#f21a1a" stroke-width="1.7" stroke-dasharray="1.6,2.2"/>
<text x="13.60" y="411.00" font-size="14" text-anchor="start" fill="#000" >e</text>
<rect x="33.2" y="399.4" width="649.8" height="197.6" fill="none" stroke="#444" stroke-width="1.2"/>
<circle cx="50.50" cy="413.00" r="6.70" fill="url(#gW)"/>
<text x="70.00" y="420.40" font-size="12.2" text-anchor="start" fill="#000" >H</text>
<circle cx="91.70" cy="412.90" r="6.80" fill="url(#gR)"/>
<text x="112.30" y="420.50" font-size="12.2" text-anchor="start" fill="#000" >O</text>
<circle cx="139.80" cy="412.50" r="6.80" fill="url(#gG)"/>
<text x="159.10" y="419.20" font-size="12.2" text-anchor="start" fill="#000" >C</text>
<polygon points="182.40,407.52 190.30,404.10 198.20,407.52" fill="#22d2ff" />
<polygon points="182.40,407.52 198.20,407.52 190.30,420.40" fill="#0cb8f4" />
<polygon points="182.40,407.52 190.30,420.40 182.40,416.81" fill="#1a9ad8" />
<polygon points="198.20,407.52 198.20,416.81 190.30,420.40" fill="#0b78b4" />
<text x="211.30" y="419.20" font-size="12.2" text-anchor="start" fill="#000" >Ni</text>
<polygon points="235.00,408.04 243.15,404.60 251.30,408.04" fill="#30ee70" />
<polygon points="235.00,408.04 251.30,408.04 243.15,421.00" fill="#12d455" />
<polygon points="235.00,408.04 243.15,421.00 235.00,417.39" fill="#14b048" />
<polygon points="251.30,408.04 251.30,417.39 243.15,421.00" fill="#0a8a34" />
<text x="265.30" y="419.20" font-size="12.2" text-anchor="start" fill="#000" >Ti</text>
<circle cx="299.4" cy="413.4" r="8.2" fill="#ffff96" stroke="#333" stroke-width="0.7" stroke-dasharray="1,1"/>
<text x="318.70" y="419.20" font-size="12.2" text-anchor="start" fill="#000" >vacancies</text>
<circle cx="402.4" cy="414.8" r="8.1" fill="#ffbf00" stroke="#333" stroke-width="0.7" stroke-dasharray="1,1"/>
<text x="424.30" y="419.20" font-size="12.2" text-anchor="start" fill="#000" >TiO<tspan font-size="8.5" dy="2.8">2</tspan></text>
<text x="96.40" y="472.70" font-size="11.3" text-anchor="start" fill="#000" >CO<tspan font-size="8.5" dy="2.8">2</tspan></text>
<circle cx="117.40" cy="479.90" r="6.00" fill="url(#gR)"/>
<circle cx="108.00" cy="483.90" r="6.80" fill="url(#gG)"/>
<circle cx="98.70" cy="487.40" r="6.00" fill="url(#gR)"/>
<circle cx="133.3" cy="475.2" r="7.4" fill="none" stroke="#f01010" stroke-width="1.25"/>
<ellipse cx="130.9" cy="473.3" rx="0.85" ry="1.3" fill="#f01010"/><ellipse cx="135.7" cy="473.3" rx="0.85" ry="1.3" fill="#f01010"/>
<path d="M129.0,475.6 Q133.3,482.0 137.6,475.6" fill="none" stroke="#f01010" stroke-width="1.2"/>
<line x1="122.0" y1="486.2" x2="145.5" y2="486.2" stroke="#111" stroke-width="0.9" />
<path d="M137.5,481.9 L146.0,486.2 L137.5,490.5" fill="none" stroke="#111" stroke-width="1"/>
<text x="152.40" y="475.70" font-size="11.3" text-anchor="start" fill="#000" >*CO<tspan font-size="8.5" dy="2.8">3</tspan><tspan font-size="8.5" dy="-6.6">2-</tspan></text>
<line x1="152.00" y1="485.00" x2="170.00" y2="486.20" stroke="#777" stroke-width="4" />
<circle cx="152.00" cy="485.00" r="5.40" fill="url(#gR)"/>
<circle cx="170.00" cy="486.20" r="5.60" fill="url(#gG)"/>
<circle cx="183.30" cy="483.90" r="5.20" fill="url(#gR)"/>
<circle cx="176.30" cy="489.50" r="5.40" fill="url(#gR)"/>
<circle cx="203.4" cy="475.7" r="7.0" fill="none" stroke="#555" stroke-width="1.25"/>
<ellipse cx="201.0" cy="473.8" rx="0.85" ry="1.3" fill="#555"/><ellipse cx="205.8" cy="473.8" rx="0.85" ry="1.3" fill="#555"/>
<path d="M200.2,479.5 Q203.4,476.1 206.6,479.5" fill="none" stroke="#555" stroke-width="1"/>
<line x1="194.5" y1="486.2" x2="212.7" y2="486.2" stroke="#111" stroke-width="0.9" />
<path d="M204.7,481.9 L213.2,486.2 L204.7,490.5" fill="none" stroke="#111" stroke-width="1"/>
<text x="219.00" y="475.70" font-size="11.3" text-anchor="start" fill="#000" >*CO</text>
<circle cx="224.90" cy="487.40" r="6.50" fill="url(#gR)"/>
<circle cx="234.20" cy="487.20" r="7.00" fill="url(#gG)"/>
<text x="487.50" y="443.80" font-size="12.5" text-anchor="start" fill="#f21010" >PCET process</text>
<path d="M416,459.9 L416,454.8 L643.7,454.8 L643.7,459.4 M529.4,454.8 L529.4,449.8" fill="none" stroke="#444" stroke-width="1.1"/>
<text x="388.20" y="472.80" font-size="11.3" text-anchor="start" fill="#000" >CO<tspan font-size="8.5" dy="2.8">2</tspan></text>
<text x="440.10" y="472.80" font-size="11.3" text-anchor="start" fill="#000" >*COOH</text>
<text x="509.50" y="473.50" font-size="11.3" text-anchor="start" fill="#000" >*CO</text>
<text x="566.80" y="473.50" font-size="11.3" text-anchor="start" fill="#000" >*CHO</text>
<text x="628.80" y="473.50" font-size="11.3" text-anchor="start" fill="#000" >CH<tspan font-size="8.5" dy="2.8">3</tspan><tspan dy="-2.8">OH</tspan></text>
<circle cx="409.20" cy="488.70" r="5.80" fill="url(#gR)"/>
<circle cx="400.40" cy="492.60" r="6.30" fill="url(#gG)"/>
<circle cx="391.00" cy="496.30" r="5.80" fill="url(#gR)"/>
<circle cx="427.9" cy="483.1" r="7.3" fill="none" stroke="#f01010" stroke-width="1.25"/>
<ellipse cx="425.5" cy="481.2" rx="0.85" ry="1.3" fill="#f01010"/><ellipse cx="430.3" cy="481.2" rx="0.85" ry="1.3" fill="#f01010"/>
<path d="M423.6,483.5 Q427.9,489.9 432.2,483.5" fill="none" stroke="#f01010" stroke-width="1.2"/>
<line x1="415.8" y1="495.5" x2="439.4" y2="495.5" stroke="#111" stroke-width="0.9" />
<path d="M431.4,491.2 L439.9,495.5 L431.4,499.8" fill="none" stroke="#111" stroke-width="1"/>
<line x1="458.80" y1="497.70" x2="472.00" y2="483.90" stroke="#dd1010" stroke-width="3.2" />
<line x1="452.30" y1="489.70" x2="458.80" y2="497.70" stroke="#999" stroke-width="3" />
<circle cx="458.10" cy="480.20" r="4.10" fill="url(#gW)"/>
<circle cx="452.30" cy="489.70" r="4.50" fill="url(#gR)"/>
<circle cx="458.80" cy="497.70" r="4.80" fill="url(#gLG)"/>
<circle cx="472.00" cy="483.90" r="4.30" fill="url(#gR)"/>
<circle cx="491.7" cy="481.9" r="7.0" fill="none" stroke="#f01010" stroke-width="1.25"/>
<ellipse cx="489.3" cy="480.0" rx="0.85" ry="1.3" fill="#f01010"/><ellipse cx="494.1" cy="480.0" rx="0.85" ry="1.3" fill="#f01010"/>
<path d="M487.4,482.3 Q491.7,488.7 496.0,482.3" fill="none" stroke="#f01010" stroke-width="1.2"/>
<line x1="478.6" y1="495.0" x2="505.2" y2="495.0" stroke="#111" stroke-width="0.9" stroke-dasharray="2.2,1.3"/>
<path d="M497.2,490.7 L505.7,495.0 L497.2,499.3" fill="none" stroke="#111" stroke-width="1"/>
<circle cx="519.40" cy="493.50" r="5.60" fill="url(#gR)"/>
<circle cx="530.20" cy="493.50" r="6.10" fill="url(#gG)"/>
<circle cx="552.4" cy="484.2" r="7.0" fill="none" stroke="#f01010" stroke-width="1.25"/>
<ellipse cx="550.0" cy="482.3" rx="0.85" ry="1.3" fill="#f01010"/><ellipse cx="554.8" cy="482.3" rx="0.85" ry="1.3" fill="#f01010"/>
<path d="M548.1,484.6 Q552.4,491.0 556.7,484.6" fill="none" stroke="#f01010" stroke-width="1.2"/>
<line x1="541.3" y1="495.0" x2="563.6" y2="495.0" stroke="#111" stroke-width="0.9" />
<path d="M555.6,490.7 L564.1,495.0 L555.6,499.3" fill="none" stroke="#111" stroke-width="1"/>
<line x1="576.40" y1="497.30" x2="593.90" y2="494.40" stroke="#999" stroke-width="3.2" />
<circle cx="593.90" cy="494.40" r="4.60" fill="url(#gW)"/>
<circle cx="576.80" cy="497.00" r="6.00" fill="url(#gLG)"/>
<circle cx="579.80" cy="487.00" r="4.90" fill="url(#gR)"/>
<line x1="604.1" y1="495.0" x2="635.7" y2="495.0" stroke="#111" stroke-width="0.9" stroke-dasharray="2.2,1.3"/>
<path d="M627.7,490.7 L636.2,495.0 L627.7,499.3" fill="none" stroke="#111" stroke-width="1"/>
<circle cx="650.80" cy="491.50" r="5.20" fill="url(#gLG)"/>
<circle cx="652.30" cy="484.20" r="3.60" fill="url(#gW)"/>
<circle cx="645.80" cy="494.40" r="3.60" fill="url(#gW)"/>
<circle cx="659.60" cy="493.80" r="4.80" fill="url(#gR)"/>
<circle cx="655.20" cy="500.30" r="3.60" fill="url(#gW)"/>
<polygon points="294.40,524.60 377.00,524.60 377.00,519.90 389.50,530.90 377.00,542.10 377.00,537.10 294.40,537.10" fill="#18aee8" />
<text x="311.30" y="516.30" font-size="12.5" text-anchor="start" fill="#000" >Etching</text>
<text x="56.20" y="583.40" font-size="12.6" text-anchor="start" fill="#000" >Adverse formation of CO<tspan font-size="8.5" dy="2.8">3</tspan><tspan font-size="8.5" dy="-6.6">2-</tspan><tspan dy="3.8"> at -OH sites</tspan></text>
<text x="421.20" y="585.80" font-size="12.6" text-anchor="start" fill="#000" >Favorable PCET at unsaturated sites</text>
<polygon points="257.80,519.00 269.00,540.30 257.80,534.34" fill="#14b048" />
<polygon points="257.80,519.00 280.20,519.00 269.00,540.30" fill="#12d455" />
<polygon points="280.20,519.00 280.20,534.34 269.00,540.30" fill="#0a8a34" />
<polygon points="245.20,523.50 256.40,544.80 245.20,538.84" fill="#1a9ad8" />
<polygon points="245.20,523.50 267.60,523.50 256.40,544.80" fill="#0cb8f4" />
<polygon points="267.60,523.50 267.60,538.84 256.40,544.80" fill="#0b78b4" />
<polygon points="232.60,528.00 243.80,549.30 232.60,543.34" fill="#14b048" />
<polygon points="232.60,528.00 255.00,528.00 243.80,549.30" fill="#12d455" />
<polygon points="255.00,528.00 255.00,543.34 243.80,549.30" fill="#0a8a34" />
<polygon points="220.00,532.50 231.20,553.80 220.00,547.84" fill="#1a9ad8" />
<polygon points="220.00,532.50 242.40,532.50 231.20,553.80" fill="#0cb8f4" />
<polygon points="242.40,532.50 242.40,547.84 231.20,553.80" fill="#0b78b4" />
<polygon points="50.60,537.00 73.00,537.00 63.20,532.50" fill="#3fd6ff" />
<polygon points="73.00,537.00 85.60,532.50 63.20,532.50" fill="#27c2f2" />
<polygon points="73.00,537.00 95.40,537.00 85.60,532.50" fill="#3fd6ff" />
<polygon points="95.40,537.00 108.00,532.50 85.60,532.50" fill="#27c2f2" />
<polygon points="95.40,537.00 117.80,537.00 108.00,532.50" fill="#3fd6ff" />
<polygon points="117.80,537.00 130.40,532.50 108.00,532.50" fill="#27c2f2" />
<polygon points="117.80,537.00 140.20,537.00 130.40,532.50" fill="#2fe872" />
<polygon points="140.20,537.00 152.80,532.50 130.40,532.50" fill="#1ccf5c" />
<polygon points="140.20,537.00 162.60,537.00 152.80,532.50" fill="#3fd6ff" />
<polygon points="162.60,537.00 175.20,532.50 152.80,532.50" fill="#27c2f2" />
<polygon points="162.60,537.00 185.00,537.00 175.20,532.50" fill="#3fd6ff" />
<polygon points="185.00,537.00 197.60,532.50 175.20,532.50" fill="#27c2f2" />
<polygon points="185.00,537.00 207.40,537.00 197.60,532.50" fill="#3fd6ff" />
<polygon points="207.40,537.00 220.00,532.50 197.60,532.50" fill="#27c2f2" />
<polygon points="207.40,537.00 229.80,537.00 220.00,532.50" fill="#2fe872" />
<polygon points="229.80,537.00 242.40,532.50 220.00,532.50" fill="#1ccf5c" />
<polygon points="63.20,532.50 85.60,532.50 75.80,528.00" fill="#3fd6ff" />
<polygon points="85.60,532.50 98.20,528.00 75.80,528.00" fill="#27c2f2" />
<polygon points="85.60,532.50 108.00,532.50 98.20,528.00" fill="#3fd6ff" />
<polygon points="108.00,532.50 120.60,528.00 98.20,528.00" fill="#27c2f2" />
<polygon points="108.00,532.50 130.40,532.50 120.60,528.00" fill="#3fd6ff" />
<polygon points="130.40,532.50 143.00,528.00 120.60,528.00" fill="#27c2f2" />
<polygon points="130.40,532.50 152.80,532.50 143.00,528.00" fill="#2fe872" />
<polygon points="152.80,532.50 165.40,528.00 143.00,528.00" fill="#1ccf5c" />
<polygon points="152.80,532.50 175.20,532.50 165.40,528.00" fill="#2fe872" />
<polygon points="175.20,532.50 187.80,528.00 165.40,528.00" fill="#1ccf5c" />
<polygon points="175.20,532.50 197.60,532.50 187.80,528.00" fill="#3fd6ff" />
<polygon points="197.60,532.50 210.20,528.00 187.80,528.00" fill="#27c2f2" />
<polygon points="197.60,532.50 220.00,532.50 210.20,528.00" fill="#2fe872" />
<polygon points="220.00,532.50 232.60,528.00 210.20,528.00" fill="#1ccf5c" />
<polygon points="220.00,532.50 242.40,532.50 232.60,528.00" fill="#3fd6ff" />
<polygon points="242.40,532.50 255.00,528.00 232.60,528.00" fill="#27c2f2" />
<polygon points="75.80,528.00 98.20,528.00 88.40,523.50" fill="#3fd6ff" />
<polygon points="98.20,528.00 110.80,523.50 88.40,523.50" fill="#27c2f2" />
<polygon points="98.20,528.00 120.60,528.00 110.80,523.50" fill="#3fd6ff" />
<polygon points="120.60,528.00 133.20,523.50 110.80,523.50" fill="#27c2f2" />
<polygon points="120.60,528.00 143.00,528.00 133.20,523.50" fill="#3fd6ff" />
<polygon points="143.00,528.00 155.60,523.50 133.20,523.50" fill="#27c2f2" />
<polygon points="143.00,528.00 165.40,528.00 155.60,523.50" fill="#3fd6ff" />
<polygon points="165.40,528.00 178.00,523.50 155.60,523.50" fill="#27c2f2" />
<polygon points="165.40,528.00 187.80,528.00 178.00,523.50" fill="#2fe872" />
<polygon points="187.80,528.00 200.40,523.50 178.00,523.50" fill="#1ccf5c" />
<polygon points="187.80,528.00 210.20,528.00 200.40,523.50" fill="#3fd6ff" />
<polygon points="210.20,528.00 222.80,523.50 200.40,523.50" fill="#27c2f2" />
<polygon points="210.20,528.00 232.60,528.00 222.80,523.50" fill="#2fe872" />
<polygon points="232.60,528.00 245.20,523.50 222.80,523.50" fill="#1ccf5c" />
<polygon points="232.60,528.00 255.00,528.00 245.20,523.50" fill="#3fd6ff" />
<polygon points="255.00,528.00 267.60,523.50 245.20,523.50" fill="#27c2f2" />
<polygon points="88.40,523.50 110.80,523.50 101.00,519.00" fill="#3fd6ff" />
<polygon points="110.80,523.50 123.40,519.00 101.00,519.00" fill="#27c2f2" />
<polygon points="110.80,523.50 133.20,523.50 123.40,519.00" fill="#3fd6ff" />
<polygon points="133.20,523.50 145.80,519.00 123.40,519.00" fill="#27c2f2" />
<polygon points="133.20,523.50 155.60,523.50 145.80,519.00" fill="#3fd6ff" />
<polygon points="155.60,523.50 168.20,519.00 145.80,519.00" fill="#27c2f2" />
<polygon points="155.60,523.50 178.00,523.50 168.20,519.00" fill="#3fd6ff" />
<polygon points="178.00,523.50 190.60,519.00 168.20,519.00" fill="#27c2f2" />
<polygon points="178.00,523.50 200.40,523.50 190.60,519.00" fill="#2fe872" />
<polygon points="200.40,523.50 213.00,519.00 190.60,519.00" fill="#1ccf5c" />
<polygon points="200.40,523.50 222.80,523.50 213.00,519.00" fill="#2fe872" />
<polygon points="222.80,523.50 235.40,519.00 213.00,519.00" fill="#1ccf5c" />
<polygon points="222.80,523.50 245.20,523.50 235.40,519.00" fill="#3fd6ff" />
<polygon points="245.20,523.50 257.80,519.00 235.40,519.00" fill="#27c2f2" />
<polygon points="245.20,523.50 267.60,523.50 257.80,519.00" fill="#3fd6ff" />
<polygon points="267.60,523.50 280.20,519.00 257.80,519.00" fill="#27c2f2" />
<polygon points="50.60,537.00 61.80,558.30 50.60,552.34" fill="#1a9ad8" />
<polygon points="50.60,537.00 73.00,537.00 61.80,558.30" fill="#0cb8f4" />
<polygon points="73.00,537.00 73.00,552.34 61.80,558.30" fill="#0b78b4" />
<polygon points="73.00,537.00 84.20,558.30 73.00,552.34" fill="#1a9ad8" />
<polygon points="73.00,537.00 95.40,537.00 84.20,558.30" fill="#0cb8f4" />
<polygon points="95.40,537.00 95.40,552.34 84.20,558.30" fill="#0b78b4" />
<polygon points="95.40,537.00 106.60,558.30 95.40,552.34" fill="#1a9ad8" />
<polygon points="95.40,537.00 117.80,537.00 106.60,558.30" fill="#0cb8f4" />
<polygon points="117.80,537.00 117.80,552.34 106.60,558.30" fill="#0b78b4" />
<polygon points="117.80,537.00 129.00,558.30 117.80,552.34" fill="#14b048" />
<polygon points="117.80,537.00 140.20,537.00 129.00,558.30" fill="#12d455" />
<polygon points="140.20,537.00 140.20,552.34 129.00,558.30" fill="#0a8a34" />
<polygon points="140.20,537.00 151.40,558.30 140.20,552.34" fill="#1a9ad8" />
<polygon points="140.20,537.00 162.60,537.00 151.40,558.30" fill="#0cb8f4" />
<polygon points="162.60,537.00 162.60,552.34 151.40,558.30" fill="#0b78b4" />
<polygon points="162.60,537.00 173.80,558.30 162.60,552.34" fill="#1a9ad8" />
<polygon points="162.60,537.00 185.00,537.00 173.80,558.30" fill="#0cb8f4" />
<polygon points="185.00,537.00 185.00,552.34 173.80,558.30" fill="#0b78b4" />
<polygon points="185.00,537.00 196.20,558.30 185.00,552.34" fill="#1a9ad8" />
<polygon points="185.00,537.00 207.40,537.00 196.20,558.30" fill="#0cb8f4" />
<polygon points="207.40,537.00 207.40,552.34 196.20,558.30" fill="#0b78b4" />
<polygon points="207.40,537.00 218.60,558.30 207.40,552.34" fill="#14b048" />
<polygon points="207.40,537.00 229.80,537.00 218.60,558.30" fill="#12d455" />
<polygon points="229.80,537.00 229.80,552.34 218.60,558.30" fill="#0a8a34" />
<circle cx="101.0" cy="518.6" r="2.25" fill="url(#gR)"/>
<ellipse cx="101.0" cy="520.5" rx="1.6" ry="1.2" fill="#fafafa" stroke="#c8c8c8" stroke-width="0.3"/>
<circle cx="123.4" cy="518.6" r="2.25" fill="url(#gR)"/>
<ellipse cx="123.4" cy="520.5" rx="1.6" ry="1.2" fill="#fafafa" stroke="#c8c8c8" stroke-width="0.3"/>
<circle cx="145.8" cy="518.6" r="2.25" fill="url(#gR)"/>
<ellipse cx="145.8" cy="520.5" rx="1.6" ry="1.2" fill="#fafafa" stroke="#c8c8c8" stroke-width="0.3"/>
<circle cx="168.2" cy="518.6" r="2.25" fill="url(#gR)"/>
<ellipse cx="168.2" cy="520.5" rx="1.6" ry="1.2" fill="#fafafa" stroke="#c8c8c8" stroke-width="0.3"/>
<circle cx="190.6" cy="518.6" r="2.25" fill="url(#gR)"/>
<ellipse cx="190.6" cy="520.5" rx="1.6" ry="1.2" fill="#fafafa" stroke="#c8c8c8" stroke-width="0.3"/>
<circle cx="213.0" cy="518.6" r="2.25" fill="url(#gR)"/>
<ellipse cx="213.0" cy="520.5" rx="1.6" ry="1.2" fill="#fafafa" stroke="#c8c8c8" stroke-width="0.3"/>
<circle cx="235.4" cy="518.6" r="2.25" fill="url(#gR)"/>
<ellipse cx="235.4" cy="520.5" rx="1.6" ry="1.2" fill="#fafafa" stroke="#c8c8c8" stroke-width="0.3"/>
<circle cx="257.8" cy="518.6" r="2.25" fill="url(#gR)"/>
<ellipse cx="257.8" cy="520.5" rx="1.6" ry="1.2" fill="#fafafa" stroke="#c8c8c8" stroke-width="0.3"/>
<circle cx="280.2" cy="518.6" r="2.25" fill="url(#gR)"/>
<ellipse cx="280.2" cy="520.5" rx="1.6" ry="1.2" fill="#fafafa" stroke="#c8c8c8" stroke-width="0.3"/>
<circle cx="88.4" cy="523.1" r="2.25" fill="url(#gR)"/>
<ellipse cx="88.4" cy="525.0" rx="1.6" ry="1.2" fill="#fafafa" stroke="#c8c8c8" stroke-width="0.3"/>
<circle cx="110.8" cy="523.1" r="2.25" fill="url(#gR)"/>
<ellipse cx="110.8" cy="525.0" rx="1.6" ry="1.2" fill="#fafafa" stroke="#c8c8c8" stroke-width="0.3"/>
<circle cx="133.2" cy="523.1" r="2.25" fill="url(#gR)"/>
<ellipse cx="133.2" cy="525.0" rx="1.6" ry="1.2" fill="#fafafa" stroke="#c8c8c8" stroke-width="0.3"/>
<circle cx="155.6" cy="523.1" r="2.25" fill="url(#gR)"/>
<ellipse cx="155.6" cy="525.0" rx="1.6" ry="1.2" fill="#fafafa" stroke="#c8c8c8" stroke-width="0.3"/>
<circle cx="178.0" cy="523.1" r="2.25" fill="url(#gR)"/>
<ellipse cx="178.0" cy="525.0" rx="1.6" ry="1.2" fill="#fafafa" stroke="#c8c8c8" stroke-width="0.3"/>
<circle cx="200.4" cy="523.1" r="2.25" fill="url(#gR)"/>
<ellipse cx="200.4" cy="525.0" rx="1.6" ry="1.2" fill="#fafafa" stroke="#c8c8c8" stroke-width="0.3"/>
<circle cx="222.8" cy="523.1" r="2.25" fill="url(#gR)"/>
<ellipse cx="222.8" cy="525.0" rx="1.6" ry="1.2" fill="#fafafa" stroke="#c8c8c8" stroke-width="0.3"/>
<circle cx="245.2" cy="523.1" r="2.25" fill="url(#gR)"/>
<ellipse cx="245.2" cy="525.0" rx="1.6" ry="1.2" fill="#fafafa" stroke="#c8c8c8" stroke-width="0.3"/>
<circle cx="267.6" cy="523.1" r="2.25" fill="url(#gR)"/>
<ellipse cx="267.6" cy="525.0" rx="1.6" ry="1.2" fill="#fafafa" stroke="#c8c8c8" stroke-width="0.3"/>
<circle cx="75.8" cy="527.6" r="2.25" fill="url(#gR)"/>
<ellipse cx="75.8" cy="529.5" rx="1.6" ry="1.2" fill="#fafafa" stroke="#c8c8c8" stroke-width="0.3"/>
<circle cx="98.2" cy="527.6" r="2.25" fill="url(#gR)"/>
<ellipse cx="98.2" cy="529.5" rx="1.6" ry="1.2" fill="#fafafa" stroke="#c8c8c8" stroke-width="0.3"/>
<circle cx="120.6" cy="527.6" r="2.25" fill="url(#gR)"/>
<ellipse cx="120.6" cy="529.5" rx="1.6" ry="1.2" fill="#fafafa" stroke="#c8c8c8" stroke-width="0.3"/>
<circle cx="143.0" cy="527.6" r="2.25" fill="url(#gR)"/>
<ellipse cx="143.0" cy="529.5" rx="1.6" ry="1.2" fill="#fafafa" stroke="#c8c8c8" stroke-width="0.3"/>
<circle cx="165.4" cy="527.6" r="2.25" fill="url(#gR)"/>
<ellipse cx="165.4" cy="529.5" rx="1.6" ry="1.2" fill="#fafafa" stroke="#c8c8c8" stroke-width="0.3"/>
<circle cx="187.8" cy="527.6" r="2.25" fill="url(#gR)"/>
<ellipse cx="187.8" cy="529.5" rx="1.6" ry="1.2" fill="#fafafa" stroke="#c8c8c8" stroke-width="0.3"/>
<circle cx="210.2" cy="527.6" r="2.25" fill="url(#gR)"/>
<ellipse cx="210.2" cy="529.5" rx="1.6" ry="1.2" fill="#fafafa" stroke="#c8c8c8" stroke-width="0.3"/>
<circle cx="232.6" cy="527.6" r="2.25" fill="url(#gR)"/>
<ellipse cx="232.6" cy="529.5" rx="1.6" ry="1.2" fill="#fafafa" stroke="#c8c8c8" stroke-width="0.3"/>
<circle cx="255.0" cy="527.6" r="2.25" fill="url(#gR)"/>
<ellipse cx="255.0" cy="529.5" rx="1.6" ry="1.2" fill="#fafafa" stroke="#c8c8c8" stroke-width="0.3"/>
<circle cx="63.2" cy="532.1" r="2.25" fill="url(#gR)"/>
<ellipse cx="63.2" cy="534.0" rx="1.6" ry="1.2" fill="#fafafa" stroke="#c8c8c8" stroke-width="0.3"/>
<circle cx="85.6" cy="532.1" r="2.25" fill="url(#gR)"/>
<ellipse cx="85.6" cy="534.0" rx="1.6" ry="1.2" fill="#fafafa" stroke="#c8c8c8" stroke-width="0.3"/>
<circle cx="108.0" cy="532.1" r="2.25" fill="url(#gR)"/>
<ellipse cx="108.0" cy="534.0" rx="1.6" ry="1.2" fill="#fafafa" stroke="#c8c8c8" stroke-width="0.3"/>
<circle cx="130.4" cy="532.1" r="2.25" fill="url(#gR)"/>
<ellipse cx="130.4" cy="534.0" rx="1.6" ry="1.2" fill="#fafafa" stroke="#c8c8c8" stroke-width="0.3"/>
<circle cx="152.8" cy="532.1" r="2.25" fill="url(#gR)"/>
<ellipse cx="152.8" cy="534.0" rx="1.6" ry="1.2" fill="#fafafa" stroke="#c8c8c8" stroke-width="0.3"/>
<circle cx="175.2" cy="532.1" r="2.25" fill="url(#gR)"/>
<ellipse cx="175.2" cy="534.0" rx="1.6" ry="1.2" fill="#fafafa" stroke="#c8c8c8" stroke-width="0.3"/>
<circle cx="197.6" cy="532.1" r="2.25" fill="url(#gR)"/>
<ellipse cx="197.6" cy="534.0" rx="1.6" ry="1.2" fill="#fafafa" stroke="#c8c8c8" stroke-width="0.3"/>
<circle cx="220.0" cy="532.1" r="2.25" fill="url(#gR)"/>
<ellipse cx="220.0" cy="534.0" rx="1.6" ry="1.2" fill="#fafafa" stroke="#c8c8c8" stroke-width="0.3"/>
<circle cx="242.4" cy="532.1" r="2.25" fill="url(#gR)"/>
<ellipse cx="242.4" cy="534.0" rx="1.6" ry="1.2" fill="#fafafa" stroke="#c8c8c8" stroke-width="0.3"/>
<circle cx="50.6" cy="536.6" r="2.25" fill="url(#gR)"/>
<ellipse cx="50.6" cy="538.5" rx="1.6" ry="1.2" fill="#fafafa" stroke="#c8c8c8" stroke-width="0.3"/>
<circle cx="73.0" cy="536.6" r="2.25" fill="url(#gR)"/>
<ellipse cx="73.0" cy="538.5" rx="1.6" ry="1.2" fill="#fafafa" stroke="#c8c8c8" stroke-width="0.3"/>
<circle cx="95.4" cy="536.6" r="2.25" fill="url(#gR)"/>
<ellipse cx="95.4" cy="538.5" rx="1.6" ry="1.2" fill="#fafafa" stroke="#c8c8c8" stroke-width="0.3"/>
<circle cx="117.8" cy="536.6" r="2.25" fill="url(#gR)"/>
<ellipse cx="117.8" cy="538.5" rx="1.6" ry="1.2" fill="#fafafa" stroke="#c8c8c8" stroke-width="0.3"/>
<circle cx="140.2" cy="536.6" r="2.25" fill="url(#gR)"/>
<ellipse cx="140.2" cy="538.5" rx="1.6" ry="1.2" fill="#fafafa" stroke="#c8c8c8" stroke-width="0.3"/>
<circle cx="162.6" cy="536.6" r="2.25" fill="url(#gR)"/>
<ellipse cx="162.6" cy="538.5" rx="1.6" ry="1.2" fill="#fafafa" stroke="#c8c8c8" stroke-width="0.3"/>
<circle cx="185.0" cy="536.6" r="2.25" fill="url(#gR)"/>
<ellipse cx="185.0" cy="538.5" rx="1.6" ry="1.2" fill="#fafafa" stroke="#c8c8c8" stroke-width="0.3"/>
<circle cx="207.4" cy="536.6" r="2.25" fill="url(#gR)"/>
<ellipse cx="207.4" cy="538.5" rx="1.6" ry="1.2" fill="#fafafa" stroke="#c8c8c8" stroke-width="0.3"/>
<circle cx="229.8" cy="536.6" r="2.25" fill="url(#gR)"/>
<ellipse cx="229.8" cy="538.5" rx="1.6" ry="1.2" fill="#fafafa" stroke="#c8c8c8" stroke-width="0.3"/>
<circle cx="61.8" cy="558.4" r="2.25" fill="url(#gR)"/>
<ellipse cx="61.8" cy="560.3" rx="1.6" ry="1.2" fill="#fafafa" stroke="#c8c8c8" stroke-width="0.3"/>
<circle cx="84.2" cy="558.4" r="2.25" fill="url(#gR)"/>
<ellipse cx="84.2" cy="560.3" rx="1.6" ry="1.2" fill="#fafafa" stroke="#c8c8c8" stroke-width="0.3"/>
<circle cx="106.6" cy="558.4" r="2.25" fill="url(#gR)"/>
<ellipse cx="106.6" cy="560.3" rx="1.6" ry="1.2" fill="#fafafa" stroke="#c8c8c8" stroke-width="0.3"/>
<circle cx="129.0" cy="558.4" r="2.25" fill="url(#gR)"/>
<ellipse cx="129.0" cy="560.3" rx="1.6" ry="1.2" fill="#fafafa" stroke="#c8c8c8" stroke-width="0.3"/>
<circle cx="151.4" cy="558.4" r="2.25" fill="url(#gR)"/>
<ellipse cx="151.4" cy="560.3" rx="1.6" ry="1.2" fill="#fafafa" stroke="#c8c8c8" stroke-width="0.3"/>
<circle cx="173.8" cy="558.4" r="2.25" fill="url(#gR)"/>
<ellipse cx="173.8" cy="560.3" rx="1.6" ry="1.2" fill="#fafafa" stroke="#c8c8c8" stroke-width="0.3"/>
<circle cx="196.2" cy="558.4" r="2.25" fill="url(#gR)"/>
<ellipse cx="196.2" cy="560.3" rx="1.6" ry="1.2" fill="#fafafa" stroke="#c8c8c8" stroke-width="0.3"/>
<circle cx="218.6" cy="558.4" r="2.25" fill="url(#gR)"/>
<ellipse cx="218.6" cy="560.3" rx="1.6" ry="1.2" fill="#fafafa" stroke="#c8c8c8" stroke-width="0.3"/>
<circle cx="231.3" cy="552.2" r="2.25" fill="url(#gR)"/>
<ellipse cx="231.3" cy="554.1" rx="1.6" ry="1.2" fill="#fafafa" stroke="#c8c8c8" stroke-width="0.3"/>
<circle cx="243.9" cy="547.7" r="2.25" fill="url(#gR)"/>
<ellipse cx="243.9" cy="549.6" rx="1.6" ry="1.2" fill="#fafafa" stroke="#c8c8c8" stroke-width="0.3"/>
<circle cx="256.5" cy="543.2" r="2.25" fill="url(#gR)"/>
<ellipse cx="256.5" cy="545.1" rx="1.6" ry="1.2" fill="#fafafa" stroke="#c8c8c8" stroke-width="0.3"/>
<circle cx="269.1" cy="538.7" r="2.25" fill="url(#gR)"/>
<ellipse cx="269.1" cy="540.6" rx="1.6" ry="1.2" fill="#fafafa" stroke="#c8c8c8" stroke-width="0.3"/>
<polygon points="631.42,517.50 645.71,539.90 631.42,533.63" fill="#1a9ad8" />
<polygon points="631.42,517.50 659.99,517.50 645.71,539.90" fill="#0cb8f4" />
<polygon points="659.99,517.50 659.99,533.63 645.71,539.90" fill="#0b78b4" />
<polygon points="619.42,522.70 633.71,545.10 619.42,538.83" fill="#1a9ad8" />
<polygon points="619.42,522.70 647.99,522.70 633.71,545.10" fill="#0cb8f4" />
<polygon points="647.99,522.70 647.99,538.83 633.71,545.10" fill="#0b78b4" />
<polygon points="607.42,527.90 621.71,550.30 607.42,544.03" fill="#1a9ad8" />
<polygon points="607.42,527.90 635.99,527.90 621.71,550.30" fill="#0cb8f4" />
<polygon points="635.99,527.90 635.99,544.03 621.71,550.30" fill="#0b78b4" />
<polygon points="595.42,533.10 609.71,555.50 595.42,549.23" fill="#1a9ad8" />
<polygon points="595.42,533.10 623.99,533.10 609.71,555.50" fill="#0cb8f4" />
<polygon points="623.99,533.10 623.99,549.23 609.71,555.50" fill="#0b78b4" />
<polygon points="412.00,538.30 440.57,538.30 424.00,533.10" fill="#3fd6ff" />
<polygon points="440.57,538.30 452.57,533.10 424.00,533.10" fill="#27c2f2" />
<polygon points="440.57,538.30 469.14,538.30 452.57,533.10" fill="#3fd6ff" />
<polygon points="469.14,538.30 481.14,533.10 452.57,533.10" fill="#27c2f2" />
<polygon points="469.14,538.30 497.71,538.30 481.14,533.10" fill="#2fe872" />
<polygon points="497.71,538.30 509.71,533.10 481.14,533.10" fill="#1ccf5c" />
<polygon points="497.71,538.30 526.28,538.30 509.71,533.10" fill="#3fd6ff" />
<polygon points="526.28,538.30 538.28,533.10 509.71,533.10" fill="#27c2f2" />
<polygon points="526.28,538.30 554.85,538.30 538.28,533.10" fill="#3fd6ff" />
<polygon points="554.85,538.30 566.85,533.10 538.28,533.10" fill="#27c2f2" />
<polygon points="554.85,538.30 583.42,538.30 566.85,533.10" fill="#2fe872" />
<polygon points="583.42,538.30 595.42,533.10 566.85,533.10" fill="#1ccf5c" />
<polygon points="583.42,538.30 611.99,538.30 595.42,533.10" fill="#3fd6ff" />
<polygon points="611.99,538.30 623.99,533.10 595.42,533.10" fill="#27c2f2" />
<polygon points="424.00,533.10 452.57,533.10 436.00,527.90" fill="#3fd6ff" />
<polygon points="452.57,533.10 464.57,527.90 436.00,527.90" fill="#27c2f2" />
<polygon points="452.57,533.10 481.14,533.10 464.57,527.90" fill="#2fe872" />
<polygon points="481.14,533.10 493.14,527.90 464.57,527.90" fill="#1ccf5c" />
<polygon points="481.14,533.10 509.71,533.10 493.14,527.90" fill="#2fe872" />
<polygon points="509.71,533.10 521.71,527.90 493.14,527.90" fill="#1ccf5c" />
<polygon points="509.71,533.10 538.28,533.10 521.71,527.90" fill="#3fd6ff" />
<polygon points="538.28,533.10 550.28,527.90 521.71,527.90" fill="#27c2f2" />
<polygon points="538.28,533.10 566.85,533.10 550.28,527.90" fill="#2fe872" />
<polygon points="566.85,533.10 578.85,527.90 550.28,527.90" fill="#1ccf5c" />
<polygon points="566.85,533.10 595.42,533.10 578.85,527.90" fill="#2fe872" />
<polygon points="595.42,533.10 607.42,527.90 578.85,527.90" fill="#1ccf5c" />
<polygon points="595.42,533.10 623.99,533.10 607.42,527.90" fill="#3fd6ff" />
<polygon points="623.99,533.10 635.99,527.90 607.42,527.90" fill="#27c2f2" />
<polygon points="436.00,527.90 464.57,527.90 448.00,522.70" fill="#3fd6ff" />
<polygon points="464.57,527.90 476.57,522.70 448.00,522.70" fill="#27c2f2" />
<polygon points="464.57,527.90 493.14,527.90 476.57,522.70" fill="#3fd6ff" />
<polygon points="493.14,527.90 505.14,522.70 476.57,522.70" fill="#27c2f2" />
<polygon points="493.14,527.90 521.71,527.90 505.14,522.70" fill="#2fe872" />
<polygon points="521.71,527.90 533.71,522.70 505.14,522.70" fill="#1ccf5c" />
<polygon points="521.71,527.90 550.28,527.90 533.71,522.70" fill="#2fe872" />
<polygon points="550.28,527.90 562.28,522.70 533.71,522.70" fill="#1ccf5c" />
<polygon points="550.28,527.90 578.85,527.90 562.28,522.70" fill="#3fd6ff" />
<polygon points="578.85,527.90 590.85,522.70 562.28,522.70" fill="#27c2f2" />
<polygon points="578.85,527.90 607.42,527.90 590.85,522.70" fill="#2fe872" />
<polygon points="607.42,527.90 619.42,522.70 590.85,522.70" fill="#1ccf5c" />
<polygon points="607.42,527.90 635.99,527.90 619.42,522.70" fill="#3fd6ff" />
<polygon points="635.99,527.90 647.99,522.70 619.42,522.70" fill="#27c2f2" />
<polygon points="448.00,522.70 476.57,522.70 460.00,517.50" fill="#3fd6ff" />
<polygon points="476.57,522.70 488.57,517.50 460.00,517.50" fill="#27c2f2" />
<polygon points="476.57,522.70 505.14,522.70 488.57,517.50" fill="#3fd6ff" />
<polygon points="505.14,522.70 517.14,517.50 488.57,517.50" fill="#27c2f2" />
<polygon points="505.14,522.70 533.71,522.70 517.14,517.50" fill="#2fe872" />
<polygon points="533.71,522.70 545.71,517.50 517.14,517.50" fill="#1ccf5c" />
<polygon points="533.71,522.70 562.28,522.70 545.71,517.50" fill="#2fe872" />
<polygon points="562.28,522.70 574.28,517.50 545.71,517.50" fill="#1ccf5c" />
<polygon points="562.28,522.70 590.85,522.70 574.28,517.50" fill="#3fd6ff" />
<polygon points="590.85,522.70 602.85,517.50 574.28,517.50" fill="#27c2f2" />
<polygon points="590.85,522.70 619.42,522.70 602.85,517.50" fill="#2fe872" />
<polygon points="619.42,522.70 631.42,517.50 602.85,517.50" fill="#1ccf5c" />
<polygon points="619.42,522.70 647.99,522.70 631.42,517.50" fill="#3fd6ff" />
<polygon points="647.99,522.70 659.99,517.50 631.42,517.50" fill="#27c2f2" />
<polygon points="412.00,538.30 426.29,560.70 412.00,554.43" fill="#1a9ad8" />
<polygon points="412.00,538.30 440.57,538.30 426.29,560.70" fill="#0cb8f4" />
<polygon points="440.57,538.30 440.57,554.43 426.29,560.70" fill="#0b78b4" />
<polygon points="440.57,538.30 454.86,560.70 440.57,554.43" fill="#1a9ad8" />
<polygon points="440.57,538.30 469.14,538.30 454.86,560.70" fill="#0cb8f4" />
<polygon points="469.14,538.30 469.14,554.43 454.86,560.70" fill="#0b78b4" />
<polygon points="469.14,538.30 483.43,560.70 469.14,554.43" fill="#14b048" />
<polygon points="469.14,538.30 497.71,538.30 483.43,560.70" fill="#12d455" />
<polygon points="497.71,538.30 497.71,554.43 483.43,560.70" fill="#0a8a34" />
<polygon points="497.71,538.30 512.00,560.70 497.71,554.43" fill="#1a9ad8" />
<polygon points="497.71,538.30 526.28,538.30 512.00,560.70" fill="#0cb8f4" />
<polygon points="526.28,538.30 526.28,554.43 512.00,560.70" fill="#0b78b4" />
<polygon points="526.28,538.30 540.56,560.70 526.28,554.43" fill="#1a9ad8" />
<polygon points="526.28,538.30 554.85,538.30 540.56,560.70" fill="#0cb8f4" />
<polygon points="554.85,538.30 554.85,554.43 540.56,560.70" fill="#0b78b4" />
<polygon points="554.85,538.30 569.13,560.70 554.85,554.43" fill="#14b048" />
<polygon points="554.85,538.30 583.42,538.30 569.13,560.70" fill="#12d455" />
<polygon points="583.42,538.30 583.42,554.43 569.13,560.70" fill="#0a8a34" />
<polygon points="583.42,538.30 597.71,560.70 583.42,554.43" fill="#1a9ad8" />
<polygon points="583.42,538.30 611.99,538.30 597.71,560.70" fill="#0cb8f4" />
<polygon points="611.99,538.30 611.99,554.43 597.71,560.70" fill="#0b78b4" />
<path d="M432.2,538.0 A12.2,10.0 0 0 1 456.6,538.0 Z" fill="#ffb400"/>
<path d="M432.2,538.0 A12.2,10.0 0 0 1 456.6,538.0" fill="none" stroke="#222" stroke-width="0.8" stroke-dasharray="2,1.3"/>
<path d="M463.5,529.0 A11.5,9.2 0 0 1 486.5,529.0 Z" fill="#ffb400"/>
<path d="M463.5,529.0 A11.5,9.2 0 0 1 486.5,529.0" fill="none" stroke="#222" stroke-width="0.8" stroke-dasharray="2,1.3"/>
<path d="M505.2,525.0 A11.2,9.2 0 0 1 527.6,525.0 Z" fill="#ffb400"/>
<path d="M505.2,525.0 A11.2,9.2 0 0 1 527.6,525.0" fill="none" stroke="#222" stroke-width="0.8" stroke-dasharray="2,1.3"/>
<path d="M561.7,525.0 A10.8,9.0 0 0 1 583.3,525.0 Z" fill="#ffb400"/>
<path d="M561.7,525.0 A10.8,9.0 0 0 1 583.3,525.0" fill="none" stroke="#222" stroke-width="0.8" stroke-dasharray="2,1.3"/>
<path d="M619.0,527.0 A10.6,8.6 0 0 1 640.2,527.0 Z" fill="#ffb400"/>
<path d="M619.0,527.0 A10.6,8.6 0 0 1 640.2,527.0" fill="none" stroke="#222" stroke-width="0.8" stroke-dasharray="2,1.3"/>
<circle cx="460.0" cy="517.5" r="2.9" fill="#ffff9c" stroke="#c8c070" stroke-width="0.5"/>
<circle cx="488.6" cy="517.5" r="2.9" fill="#ffff9c" stroke="#c8c070" stroke-width="0.5"/>
<circle cx="517.1" cy="517.1" r="2.25" fill="url(#gR)"/>
<ellipse cx="517.1" cy="519.0" rx="1.6" ry="1.2" fill="#fafafa" stroke="#c8c8c8" stroke-width="0.3"/>
<circle cx="545.7" cy="517.5" r="2.9" fill="#ffff9c" stroke="#c8c070" stroke-width="0.5"/>
<circle cx="574.3" cy="517.1" r="2.25" fill="url(#gR)"/>
<ellipse cx="574.3" cy="519.0" rx="1.6" ry="1.2" fill="#fafafa" stroke="#c8c8c8" stroke-width="0.3"/>
<circle cx="602.9" cy="517.5" r="2.9" fill="#ffff9c" stroke="#c8c070" stroke-width="0.5"/>
<circle cx="631.4" cy="517.5" r="2.9" fill="#ffff9c" stroke="#c8c070" stroke-width="0.5"/>
<circle cx="660.0" cy="517.5" r="2.9" fill="#ffff9c" stroke="#c8c070" stroke-width="0.5"/>
<circle cx="448.0" cy="522.7" r="2.9" fill="#ffff9c" stroke="#c8c070" stroke-width="0.5"/>
<circle cx="476.6" cy="522.3" r="2.25" fill="url(#gR)"/>
<ellipse cx="476.6" cy="524.2" rx="1.6" ry="1.2" fill="#fafafa" stroke="#c8c8c8" stroke-width="0.3"/>
<circle cx="505.1" cy="522.3" r="2.25" fill="url(#gR)"/>
<ellipse cx="505.1" cy="524.2" rx="1.6" ry="1.2" fill="#fafafa" stroke="#c8c8c8" stroke-width="0.3"/>
<circle cx="533.7" cy="522.3" r="2.25" fill="url(#gR)"/>
<ellipse cx="533.7" cy="524.2" rx="1.6" ry="1.2" fill="#fafafa" stroke="#c8c8c8" stroke-width="0.3"/>
<circle cx="562.3" cy="522.3" r="2.25" fill="url(#gR)"/>
<ellipse cx="562.3" cy="524.2" rx="1.6" ry="1.2" fill="#fafafa" stroke="#c8c8c8" stroke-width="0.3"/>
<circle cx="590.9" cy="522.3" r="2.25" fill="url(#gR)"/>
<ellipse cx="590.9" cy="524.2" rx="1.6" ry="1.2" fill="#fafafa" stroke="#c8c8c8" stroke-width="0.3"/>
<circle cx="619.4" cy="522.3" r="2.25" fill="url(#gR)"/>
<ellipse cx="619.4" cy="524.2" rx="1.6" ry="1.2" fill="#fafafa" stroke="#c8c8c8" stroke-width="0.3"/>
<circle cx="648.0" cy="522.7" r="2.9" fill="#ffff9c" stroke="#c8c070" stroke-width="0.5"/>
<circle cx="436.0" cy="527.9" r="2.9" fill="#ffff9c" stroke="#c8c070" stroke-width="0.5"/>
<circle cx="464.6" cy="527.5" r="2.25" fill="url(#gR)"/>
<ellipse cx="464.6" cy="529.4" rx="1.6" ry="1.2" fill="#fafafa" stroke="#c8c8c8" stroke-width="0.3"/>
<circle cx="493.1" cy="527.5" r="2.25" fill="url(#gR)"/>
<ellipse cx="493.1" cy="529.4" rx="1.6" ry="1.2" fill="#fafafa" stroke="#c8c8c8" stroke-width="0.3"/>
<circle cx="521.7" cy="527.5" r="2.25" fill="url(#gR)"/>
<ellipse cx="521.7" cy="529.4" rx="1.6" ry="1.2" fill="#fafafa" stroke="#c8c8c8" stroke-width="0.3"/>
<circle cx="550.3" cy="527.5" r="2.25" fill="url(#gR)"/>
<ellipse cx="550.3" cy="529.4" rx="1.6" ry="1.2" fill="#fafafa" stroke="#c8c8c8" stroke-width="0.3"/>
<circle cx="578.9" cy="527.5" r="2.25" fill="url(#gR)"/>
<ellipse cx="578.9" cy="529.4" rx="1.6" ry="1.2" fill="#fafafa" stroke="#c8c8c8" stroke-width="0.3"/>
<circle cx="607.4" cy="527.5" r="2.25" fill="url(#gR)"/>
<ellipse cx="607.4" cy="529.4" rx="1.6" ry="1.2" fill="#fafafa" stroke="#c8c8c8" stroke-width="0.3"/>
<circle cx="636.0" cy="527.9" r="2.9" fill="#ffff9c" stroke="#c8c070" stroke-width="0.5"/>
<circle cx="424.0" cy="533.1" r="2.9" fill="#ffff9c" stroke="#c8c070" stroke-width="0.5"/>
<circle cx="452.6" cy="532.7" r="2.25" fill="url(#gR)"/>
<ellipse cx="452.6" cy="534.6" rx="1.6" ry="1.2" fill="#fafafa" stroke="#c8c8c8" stroke-width="0.3"/>
<circle cx="481.1" cy="532.7" r="2.25" fill="url(#gR)"/>
<ellipse cx="481.1" cy="534.6" rx="1.6" ry="1.2" fill="#fafafa" stroke="#c8c8c8" stroke-width="0.3"/>
<circle cx="509.7" cy="532.7" r="2.25" fill="url(#gR)"/>
<ellipse cx="509.7" cy="534.6" rx="1.6" ry="1.2" fill="#fafafa" stroke="#c8c8c8" stroke-width="0.3"/>
<circle cx="538.3" cy="532.7" r="2.25" fill="url(#gR)"/>
<ellipse cx="538.3" cy="534.6" rx="1.6" ry="1.2" fill="#fafafa" stroke="#c8c8c8" stroke-width="0.3"/>
<circle cx="566.9" cy="532.7" r="2.25" fill="url(#gR)"/>
<ellipse cx="566.9" cy="534.6" rx="1.6" ry="1.2" fill="#fafafa" stroke="#c8c8c8" stroke-width="0.3"/>
<circle cx="595.4" cy="532.7" r="2.25" fill="url(#gR)"/>
<ellipse cx="595.4" cy="534.6" rx="1.6" ry="1.2" fill="#fafafa" stroke="#c8c8c8" stroke-width="0.3"/>
<circle cx="624.0" cy="533.1" r="2.9" fill="#ffff9c" stroke="#c8c070" stroke-width="0.5"/>
<circle cx="412.0" cy="538.3" r="2.9" fill="#ffff9c" stroke="#c8c070" stroke-width="0.5"/>
<circle cx="440.6" cy="538.3" r="2.9" fill="#ffff9c" stroke="#c8c070" stroke-width="0.5"/>
<circle cx="469.1" cy="537.9" r="2.25" fill="url(#gR)"/>
<ellipse cx="469.1" cy="539.8" rx="1.6" ry="1.2" fill="#fafafa" stroke="#c8c8c8" stroke-width="0.3"/>
<circle cx="497.7" cy="537.9" r="2.25" fill="url(#gR)"/>
<ellipse cx="497.7" cy="539.8" rx="1.6" ry="1.2" fill="#fafafa" stroke="#c8c8c8" stroke-width="0.3"/>
<circle cx="526.3" cy="537.9" r="2.25" fill="url(#gR)"/>
<ellipse cx="526.3" cy="539.8" rx="1.6" ry="1.2" fill="#fafafa" stroke="#c8c8c8" stroke-width="0.3"/>
<circle cx="554.9" cy="537.9" r="2.25" fill="url(#gR)"/>
<ellipse cx="554.9" cy="539.8" rx="1.6" ry="1.2" fill="#fafafa" stroke="#c8c8c8" stroke-width="0.3"/>
<circle cx="583.4" cy="537.9" r="2.25" fill="url(#gR)"/>
<ellipse cx="583.4" cy="539.8" rx="1.6" ry="1.2" fill="#fafafa" stroke="#c8c8c8" stroke-width="0.3"/>
<circle cx="612.0" cy="538.3" r="2.9" fill="#ffff9c" stroke="#c8c070" stroke-width="0.5"/>
<circle cx="426.3" cy="560.8" r="2.25" fill="url(#gR)"/>
<ellipse cx="426.3" cy="562.7" rx="1.6" ry="1.2" fill="#fafafa" stroke="#c8c8c8" stroke-width="0.3"/>
<circle cx="454.9" cy="560.8" r="2.25" fill="url(#gR)"/>
<ellipse cx="454.9" cy="562.7" rx="1.6" ry="1.2" fill="#fafafa" stroke="#c8c8c8" stroke-width="0.3"/>
<circle cx="483.4" cy="561.5" r="2.9" fill="#ffff9c" stroke="#c8c070" stroke-width="0.5"/>
<circle cx="512.0" cy="560.8" r="2.25" fill="url(#gR)"/>
<ellipse cx="512.0" cy="562.7" rx="1.6" ry="1.2" fill="#fafafa" stroke="#c8c8c8" stroke-width="0.3"/>
<circle cx="540.6" cy="560.8" r="2.25" fill="url(#gR)"/>
<ellipse cx="540.6" cy="562.7" rx="1.6" ry="1.2" fill="#fafafa" stroke="#c8c8c8" stroke-width="0.3"/>
<circle cx="569.1" cy="561.5" r="2.9" fill="#ffff9c" stroke="#c8c070" stroke-width="0.5"/>
<circle cx="597.7" cy="561.5" r="2.9" fill="#ffff9c" stroke="#c8c070" stroke-width="0.5"/>
<circle cx="613.5" cy="554.0" r="2.9" fill="#ffff9c" stroke="#c8c070" stroke-width="0.5"/>
<circle cx="625.5" cy="548.4" r="2.25" fill="url(#gR)"/>
<ellipse cx="625.5" cy="550.3" rx="1.6" ry="1.2" fill="#fafafa" stroke="#c8c8c8" stroke-width="0.3"/>
<circle cx="637.5" cy="543.6" r="2.9" fill="#ffff9c" stroke="#c8c070" stroke-width="0.5"/>
<circle cx="649.5" cy="538.0" r="2.25" fill="url(#gR)"/>
<ellipse cx="649.5" cy="539.9" rx="1.6" ry="1.2" fill="#fafafa" stroke="#c8c8c8" stroke-width="0.3"/>
</svg>
</body></html>
